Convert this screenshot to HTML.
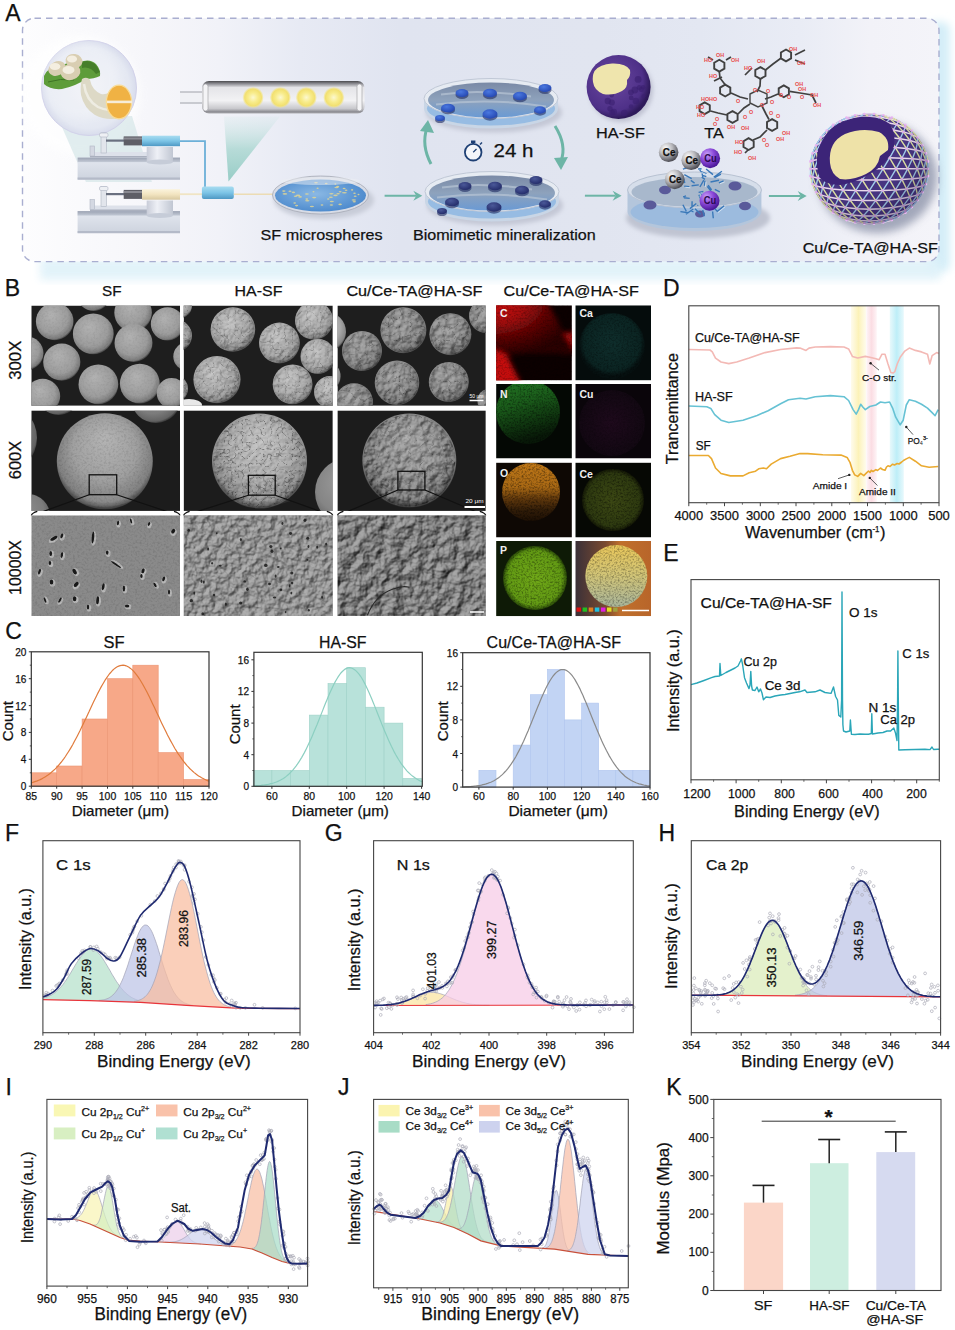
<!DOCTYPE html>
<html><head><meta charset="utf-8"><title>Figure</title>
<style>html,body{margin:0;padding:0;background:#fff;} svg{display:block;} text{font-family:"Liberation Sans", sans-serif;} text[fill='#111']{stroke:#111;stroke-width:0.25px;}</style>
</head><body>
<svg width="955" height="1330" viewBox="0 0 955 1330" font-family='"Liberation Sans", sans-serif'>
<defs>
<filter id="blur4" x="-20%" y="-20%" width="140%" height="140%"><feGaussianBlur stdDeviation="4"/></filter>
<filter id="blur2" x="-20%" y="-20%" width="140%" height="140%"><feGaussianBlur stdDeviation="2"/></filter>
<filter id="blur1" x="-20%" y="-20%" width="140%" height="140%"><feGaussianBlur stdDeviation="1"/></filter>
<linearGradient id="aBg" x1="0" y1="0" x2="1" y2="0"><stop offset="0" stop-color="#fdfdfe"/><stop offset="0.139" stop-color="#f6f6fa"/><stop offset="0.215" stop-color="#f1f2f8"/><stop offset="0.303" stop-color="#e7eaf4"/><stop offset="0.412" stop-color="#e0e4f0"/><stop offset="0.63" stop-color="#e1e5f0"/><stop offset="0.739" stop-color="#e3e7f2"/><stop offset="0.848" stop-color="#e9ecf5"/><stop offset="0.925" stop-color="#f2f2f8"/><stop offset="1" stop-color="#f4f4f9"/></linearGradient>
<radialGradient id="magG" cx="0.5" cy="0.5" r="0.5"><stop offset="0" stop-color="#eef0f6"/><stop offset="0.85" stop-color="#e4e8f2"/><stop offset="1" stop-color="#d8dcec"/></radialGradient>
<linearGradient id="coneG" x1="0" y1="0" x2="0" y2="1"><stop offset="0" stop-color="#cfe6e6" stop-opacity="0.2"/><stop offset="0.5" stop-color="#a9d6d0" stop-opacity="0.8"/><stop offset="1" stop-color="#8cc8c0" stop-opacity="0.9"/></linearGradient>
<linearGradient id="tubeG" x1="0" y1="0" x2="0" y2="1"><stop offset="0" stop-color="#4a4a4e"/><stop offset="0.08" stop-color="#8a8a90"/><stop offset="0.2" stop-color="#e4e4e8"/><stop offset="0.6" stop-color="#f2f2f4"/><stop offset="0.85" stop-color="#c8c8cc"/><stop offset="0.95" stop-color="#8a8a90"/><stop offset="1" stop-color="#b0b0b4"/></linearGradient>
<radialGradient id="dotG" cx="0.5" cy="0.5" r="0.5"><stop offset="0" stop-color="#fcf8d0"/><stop offset="0.45" stop-color="#f8ec8c"/><stop offset="0.8" stop-color="#f2e070"/><stop offset="1" stop-color="#f5e680" stop-opacity="0.2"/></radialGradient>
<linearGradient id="pumpTop" x1="0" y1="0" x2="0" y2="1"><stop offset="0" stop-color="#9aa2b2"/><stop offset="1" stop-color="#c4cad6"/></linearGradient>
<linearGradient id="pumpBase" x1="0" y1="0" x2="0" y2="1"><stop offset="0" stop-color="#e4e8f0"/><stop offset="1" stop-color="#cdd3de"/></linearGradient>
<linearGradient id="syrB" x1="0" y1="0" x2="0" y2="1"><stop offset="0" stop-color="#a8dcf0"/><stop offset="0.5" stop-color="#7cc4e6"/><stop offset="1" stop-color="#4e98c4"/></linearGradient>
<linearGradient id="syrY" x1="0" y1="0" x2="0" y2="1"><stop offset="0" stop-color="#fbf3dc"/><stop offset="0.5" stop-color="#f2e4c0"/><stop offset="1" stop-color="#d8c8a0"/></linearGradient>
<linearGradient id="cylG" x1="0" y1="0" x2="1" y2="0"><stop offset="0" stop-color="#c8ccd8"/><stop offset="0.4" stop-color="#eef0f6"/><stop offset="1" stop-color="#c0c6d2"/></linearGradient>
<radialGradient id="dishBlue" cx="0.45" cy="0.45" r="0.6"><stop offset="0" stop-color="#8ab8e4"/><stop offset="1" stop-color="#4a88cc"/></radialGradient>
<linearGradient id="dishWater" x1="0" y1="0" x2="0" y2="1"><stop offset="0" stop-color="#7a8aa6"/><stop offset="0.5" stop-color="#8ea2bc"/><stop offset="1" stop-color="#6a9ad4"/></linearGradient>
<radialGradient id="puck" cx="0.4" cy="0.35" r="0.7"><stop offset="0" stop-color="#4a78e0"/><stop offset="1" stop-color="#2446b0"/></radialGradient>
<radialGradient id="puck2" cx="0.4" cy="0.35" r="0.7"><stop offset="0" stop-color="#4a5898"/><stop offset="1" stop-color="#222a68"/></radialGradient>
<radialGradient id="hasfG" cx="0.4" cy="0.4" r="0.6"><stop offset="0" stop-color="#6a48a0"/><stop offset="0.8" stop-color="#4e3088"/><stop offset="1" stop-color="#2e1a5a"/></radialGradient>
<radialGradient id="ceG" cx="0.35" cy="0.3" r="0.7"><stop offset="0" stop-color="#ffffff"/><stop offset="0.5" stop-color="#b8b8bc"/><stop offset="1" stop-color="#505058"/></radialGradient>
<radialGradient id="cuG" cx="0.35" cy="0.3" r="0.7"><stop offset="0" stop-color="#c8a0f8"/><stop offset="0.5" stop-color="#8a48d8"/><stop offset="1" stop-color="#4a1898"/></radialGradient>
<radialGradient id="finG" cx="0.5" cy="0.5" r="0.5"><stop offset="0" stop-color="#b4acd8"/><stop offset="0.85" stop-color="#a098cc"/><stop offset="1" stop-color="#8078b8"/></radialGradient>
<linearGradient id="dishGlass" x1="0" y1="0" x2="0" y2="1"><stop offset="0" stop-color="#dfe6f0"/><stop offset="1" stop-color="#b8c8dc"/></linearGradient>
<clipPath id="finClip"><ellipse cx="869.2" cy="168.8" rx="59.3" ry="55.4"/></clipPath>
<radialGradient id="finShade" cx="0.35" cy="0.3" r="0.8"><stop offset="0" stop-color="#000" stop-opacity="0"/><stop offset="0.6" stop-color="#000" stop-opacity="0.05"/><stop offset="1" stop-color="#1a1040" stop-opacity="0.45"/></radialGradient><linearGradient id="bandY" x1="0" x2="1" y1="0" y2="0"><stop offset="0" stop-color="#fdf3c0" stop-opacity="0.3"/><stop offset="0.5" stop-color="#fcf2b8"/><stop offset="1" stop-color="#fdf3c0" stop-opacity="0.3"/></linearGradient>
<linearGradient id="bandP" x1="0" x2="1" y1="0" y2="0"><stop offset="0" stop-color="#fbdde3" stop-opacity="0.3"/><stop offset="0.5" stop-color="#fbdde3"/><stop offset="1" stop-color="#fbdde3" stop-opacity="0.3"/></linearGradient>
<linearGradient id="bandC" x1="0" x2="1" y1="0" y2="0"><stop offset="0" stop-color="#c4eff7" stop-opacity="0.4"/><stop offset="0.5" stop-color="#bdeef8"/><stop offset="1" stop-color="#c4eff7" stop-opacity="0.4"/></linearGradient>
<radialGradient id="sSF" cx="0.45" cy="0.42" r="0.6" fx="0.4" fy="0.32"><stop offset="0" stop-color="#b2b2b2"/><stop offset="0.7" stop-color="#9c9c9c"/><stop offset="0.92" stop-color="#7a7a7a"/><stop offset="1" stop-color="#2e2e2e"/></radialGradient>
<radialGradient id="sHA" cx="0.45" cy="0.42" r="0.6" fx="0.4" fy="0.32"><stop offset="0" stop-color="#c6c6c6"/><stop offset="0.7" stop-color="#a8a8a8"/><stop offset="0.92" stop-color="#868686"/><stop offset="1" stop-color="#343434"/></radialGradient>
<radialGradient id="sCu" cx="0.45" cy="0.42" r="0.6" fx="0.4" fy="0.32"><stop offset="0" stop-color="#a4a4a4"/><stop offset="0.7" stop-color="#8c8c8c"/><stop offset="0.92" stop-color="#6e6e6e"/><stop offset="1" stop-color="#2e2e2e"/></radialGradient>
<radialGradient id="bSF" cx="0.5" cy="0.45" r="0.55" fx="0.5" fy="0.25"><stop offset="0" stop-color="#b4b4b4"/><stop offset="0.6" stop-color="#a0a0a0"/><stop offset="0.9" stop-color="#808080"/><stop offset="1" stop-color="#3a3a3a"/></radialGradient>
<radialGradient id="bHA" cx="0.5" cy="0.45" r="0.55" fx="0.5" fy="0.25"><stop offset="0" stop-color="#c4c4c4"/><stop offset="0.6" stop-color="#b0b0b0"/><stop offset="0.9" stop-color="#8e8e8e"/><stop offset="1" stop-color="#3a3a3a"/></radialGradient>
<radialGradient id="bCu" cx="0.5" cy="0.45" r="0.55" fx="0.5" fy="0.25"><stop offset="0" stop-color="#a6a6a6"/><stop offset="0.6" stop-color="#949494"/><stop offset="0.9" stop-color="#787878"/><stop offset="1" stop-color="#333"/></radialGradient>
<filter id="crk1" x="0" y="0" width="1" height="1"><feTurbulence type="turbulence" baseFrequency="0.14" numOctaves="2" seed="3"/><feColorMatrix type="matrix" values="0 0 0 0 0  0 0 0 0 0  0 0 0 0 0  -6 0 0 0 0.9"/><feComposite in2="SourceGraphic" operator="in"/></filter>
<filter id="crk2" x="0" y="0" width="1" height="1"><feTurbulence type="turbulence" baseFrequency="0.09 0.11" numOctaves="3" seed="9"/><feColorMatrix type="matrix" values="0 0 0 0 0  0 0 0 0 0  0 0 0 0 0  -7 0 0 0 1.0"/><feComposite in2="SourceGraphic" operator="in"/></filter>
<filter id="lgt1" x="0" y="0" width="1" height="1"><feTurbulence type="turbulence" baseFrequency="0.2" numOctaves="2" seed="14"/><feColorMatrix type="matrix" values="0 0 0 0 1  0 0 0 0 1  0 0 0 0 1  -6 0 0 0 0.8"/><feComposite in2="SourceGraphic" operator="in"/></filter>
<filter id="rl1" x="0" y="0" width="1" height="1" color-interpolation-filters="sRGB"><feTurbulence type="fractalNoise" baseFrequency="0.15" numOctaves="4" seed="3" result="n"/><feDiffuseLighting in="n" surfaceScale="3" diffuseConstant="1" lighting-color="#fff" result="l"><feDistantLight azimuth="225" elevation="50"/></feDiffuseLighting><feColorMatrix in="l" type="matrix" values="0.6 0 0 0 0  0.6 0 0 0 0  0.6 0 0 0 0  0 0 0 0 1" result="l2"/><feBlend in="l2" in2="SourceGraphic" mode="overlay" result="b"/><feComposite in="b" in2="SourceGraphic" operator="in"/></filter>
<filter id="rl2" x="0" y="0" width="1" height="1" color-interpolation-filters="sRGB"><feTurbulence type="fractalNoise" baseFrequency="0.09" numOctaves="4" seed="7" result="n"/><feDiffuseLighting in="n" surfaceScale="4" diffuseConstant="1" lighting-color="#fff" result="l"><feDistantLight azimuth="225" elevation="45"/></feDiffuseLighting><feColorMatrix in="l" type="matrix" values="0.62 0 0 0 0  0.62 0 0 0 0  0.62 0 0 0 0  0 0 0 0 1" result="l2"/><feBlend in="l2" in2="SourceGraphic" mode="overlay" result="b"/><feComposite in="b" in2="SourceGraphic" operator="in"/></filter>
<filter id="rl3" x="0" y="0" width="1" height="1" color-interpolation-filters="sRGB"><feTurbulence type="fractalNoise" baseFrequency="0.22" numOctaves="3" seed="12" result="n"/><feDiffuseLighting in="n" surfaceScale="2.5" diffuseConstant="1" lighting-color="#fff" result="l"><feDistantLight azimuth="225" elevation="50"/></feDiffuseLighting><feColorMatrix in="l" type="matrix" values="0.6 0 0 0 0  0.6 0 0 0 0  0.6 0 0 0 0  0 0 0 0 1" result="l2"/><feBlend in="l2" in2="SourceGraphic" mode="overlay" result="b"/><feComposite in="b" in2="SourceGraphic" operator="in"/></filter>
<filter id="fine" x="0" y="0" width="1" height="1"><feTurbulence type="fractalNoise" baseFrequency="0.45" numOctaves="2" seed="5"/><feColorMatrix type="matrix" values="0 0 0 0 0  0 0 0 0 0  0 0 0 0 0  -2.5 0 0 0 1.4"/><feComposite in2="SourceGraphic" operator="in"/></filter>
<filter id="blob" x="0" y="0" width="1" height="1"><feTurbulence type="fractalNoise" baseFrequency="0.07" numOctaves="3" seed="31"/><feColorMatrix type="matrix" values="0 0 0 0 0  0 0 0 0 0  0 0 0 0 0  -3 0 0 0 1.65"/><feComposite in2="SourceGraphic" operator="in"/></filter>
<clipPath id="clipB00"><rect x="31.3" y="305.5" width="148.7" height="100.3"/></clipPath><clipPath id="clipB10"><rect x="183.6" y="305.5" width="149.2" height="100.3"/></clipPath><clipPath id="clipB20"><rect x="337.4" y="305.5" width="148.4" height="100.3"/></clipPath><clipPath id="clipB01"><rect x="31.3" y="410.4" width="148.7" height="100.5"/></clipPath><clipPath id="clipB11"><rect x="183.6" y="410.4" width="149.2" height="100.5"/></clipPath><clipPath id="clipB21"><rect x="337.4" y="410.4" width="148.4" height="100.5"/></clipPath><clipPath id="clipB02"><rect x="31.3" y="515.3" width="148.7" height="100.7"/></clipPath><clipPath id="clipB12"><rect x="183.6" y="515.3" width="149.2" height="100.7"/></clipPath><clipPath id="clipB22"><rect x="337.4" y="515.3" width="148.4" height="100.7"/></clipPath>
<radialGradient id="eCa" cx="0.5" cy="0.45" r="0.5"><stop offset="0" stop-color="#0f2e2c"/><stop offset="0.85" stop-color="#0b2422"/><stop offset="1" stop-color="#061010"/></radialGradient>
<linearGradient id="eN" x1="0" y1="0" x2="0.3" y2="1"><stop offset="0" stop-color="#247a24"/><stop offset="0.45" stop-color="#1a5a1a"/><stop offset="0.8" stop-color="#0e300e"/><stop offset="1" stop-color="#081808"/></linearGradient>
<radialGradient id="eCu" cx="0.5" cy="0.5" r="0.5"><stop offset="0" stop-color="#1e0a1c"/><stop offset="1" stop-color="#120812"/></radialGradient>
<linearGradient id="eO" x1="0" y1="0" x2="0" y2="1"><stop offset="0" stop-color="#c07818"/><stop offset="0.42" stop-color="#a86814"/><stop offset="0.62" stop-color="#60380c"/><stop offset="0.82" stop-color="#301c08"/><stop offset="1" stop-color="#1e1004"/></linearGradient>
<radialGradient id="eCe" cx="0.5" cy="0.5" r="0.5"><stop offset="0" stop-color="#3c4814"/><stop offset="0.85" stop-color="#2e3a10"/><stop offset="1" stop-color="#141806"/></radialGradient>
<radialGradient id="eP" cx="0.5" cy="0.5" r="0.5"><stop offset="0" stop-color="#70a818"/><stop offset="0.85" stop-color="#629a14"/><stop offset="1" stop-color="#2a4a08"/></radialGradient>
<linearGradient id="eMix" x1="0" y1="0" x2="0" y2="1"><stop offset="0" stop-color="#e8c65a"/><stop offset="0.5" stop-color="#d0c478"/><stop offset="1" stop-color="#a8b49a"/></linearGradient>
<linearGradient id="eMixBg" x1="0" y1="0" x2="1" y2="0"><stop offset="0" stop-color="#3a3038"/><stop offset="0.4" stop-color="#7a4a30"/><stop offset="0.6" stop-color="#c0702c"/><stop offset="1" stop-color="#b8652a"/></linearGradient>
<clipPath id="clipE00"><rect x="496.1" y="305.3" width="75.8" height="75.1"/></clipPath><radialGradient id="cRed" cx="0.05" cy="0.05" r="0.95"><stop offset="0" stop-color="#c81010"/><stop offset="0.35" stop-color="#a80c0c"/><stop offset="0.65" stop-color="#600505"/><stop offset="1" stop-color="#2a0202"/></radialGradient><filter id="speck" x="0" y="0" width="1" height="1"><feTurbulence type="fractalNoise" baseFrequency="0.55" numOctaves="2" seed="11"/><feColorMatrix type="matrix" values="0 0 0 0 0  0 0 0 0 0  0 0 0 0 0  -2.6 0 0 0 1.5"/><feComposite in2="SourceGraphic" operator="in"/></filter><filter id="sblur" x="-20%" y="-20%" width="140%" height="140%"><feGaussianBlur stdDeviation="2.5"/></filter><clipPath id="clipE10"><rect x="575.3" y="305.3" width="75.7" height="75.1"/></clipPath><clipPath id="clipE01"><rect x="496.1" y="383.9" width="75.8" height="74.6"/></clipPath><clipPath id="clipE11"><rect x="575.3" y="383.9" width="75.7" height="74.6"/></clipPath><clipPath id="clipE02"><rect x="496.1" y="462.6" width="75.8" height="74.9"/></clipPath><clipPath id="clipE12"><rect x="575.3" y="462.6" width="75.7" height="74.9"/></clipPath><clipPath id="clipE03"><rect x="496.1" y="541.0" width="75.8" height="75.2"/></clipPath><clipPath id="clipE13"><rect x="575.3" y="541.0" width="75.7" height="75.2"/></clipPath></defs>
<rect width="955" height="1330" fill="#ffffff"/>
<rect x="928" y="22" width="22" height="250" rx="8" fill="#d4eef8" filter="url(#blur4)"/><rect x="40" y="258" width="900" height="22" fill="#dff2f9" filter="url(#blur4)" opacity="0.9"/><rect x="22.5" y="18.2" width="916.5" height="243.4" rx="12" fill="url(#aBg)" stroke="#a9aed0" stroke-width="1.4" stroke-dasharray="6.5 5"/><text x="5.2" y="21.2" font-size="23" fill="#111">A</text><circle cx="80" cy="95" r="60" fill="#ffffff" opacity="0.7" filter="url(#blur4)"/><path d="M58,118 L132,116 L152,182 L86,182 Z" fill="#cfe2e4" opacity="0.6"/><circle cx="89" cy="88" r="47.5" fill="url(#magG)" stroke="#d2d2ea" stroke-width="1"/><circle cx="80" cy="80" r="40" fill="#ffffff" opacity="0.25" filter="url(#blur4)"/><path d="M44,76 Q50,64 62,66 Q70,60 80,62 Q90,58 96,64 Q101,70 100,76 Q94,79 86,79 Q76,86 62,89 Q50,90 44,84 Z" fill="#5e9c3a"/><path d="M82,62 Q94,58 100,72 L96,74 Q90,66 82,68 Z" fill="#467e2a"/><path d="M48,82 Q60,78 74,80" stroke="#3e7424" stroke-width="1" fill="none"/><ellipse cx="57" cy="68.5" rx="9" ry="7" transform="rotate(-25 57 68.5)" fill="#d9ceb2"/><ellipse cx="55" cy="66.5" rx="5.4" ry="3.5" fill="#f4eee0"/><ellipse cx="74" cy="61" rx="8.5" ry="7" transform="rotate(10 74 61)" fill="#d9ceb2"/><ellipse cx="72" cy="59" rx="5.1" ry="3.5" fill="#f4eee0"/><ellipse cx="70.5" cy="72" rx="10" ry="8" transform="rotate(-15 70.5 72)" fill="#d9ceb2"/><ellipse cx="68.5" cy="70" rx="6.0" ry="4.0" fill="#f4eee0"/><path d="M82,79 Q87,76 90,80 Q92,90 101,94 Q108,96 116,86 L121,118 Q106,121 95,115 Q84,108 81,95 Q80,86 82,79 Z" fill="#ddd9c6"/><path d="M84,84 Q86,100 98,107 Q106,111 114,110" fill="none" stroke="#eeece2" stroke-width="2.5"/><ellipse cx="119" cy="102" rx="12.6" ry="16.8" fill="#f0b244" stroke="#f8dc98" stroke-width="1.3"/><rect x="107" y="100.6" width="25" height="2.6" fill="#f6ecd8"/><rect x="77.6" y="157.6" width="102.4" height="22" fill="url(#pumpBase)"/><rect x="77.6" y="157.6" width="102.4" height="4.5" fill="url(#pumpTop)"/><rect x="77.6" y="177.5" width="102.4" height="2.2" fill="#b4bac8"/><rect x="90" y="152" width="58" height="5.5" fill="#dde1ea"/><rect x="90" y="156" width="58" height="1.6" fill="#aab0be"/><rect x="90" y="146" width="4.5" height="10" fill="#d4d8e2" stroke="#b0b6c4" stroke-width="0.6"/><rect x="101" y="133" width="5.5" height="20" fill="#e2e5ec" stroke="#b0b6c4" stroke-width="0.6"/><rect x="99.5" y="133" width="8.5" height="4" rx="1.5" fill="#eef0f4" stroke="#b0b6c4" stroke-width="0.6"/><rect x="106" y="139.5" width="18" height="2.2" fill="#6a7080"/><rect x="123.7" y="136.4" width="18.5" height="9" fill="#5e5e66"/><rect x="123.7" y="137.5" width="18.5" height="2" fill="#8a8a92"/><rect x="142" y="135.7" width="38" height="10.5" fill="url(#syrB)"/><rect x="146.7" y="147" width="26.3" height="15" fill="url(#cylG)"/><ellipse cx="159.8" cy="162" rx="13.15" ry="2.5" fill="#c6ccd8"/><rect x="77.6" y="211.1" width="102.4" height="22" fill="url(#pumpBase)"/><rect x="77.6" y="211.1" width="102.4" height="4.5" fill="url(#pumpTop)"/><rect x="77.6" y="231.0" width="102.4" height="2.2" fill="#b4bac8"/><rect x="90" y="205.5" width="58" height="5.5" fill="#dde1ea"/><rect x="90" y="209.5" width="58" height="1.6" fill="#aab0be"/><rect x="90" y="199.5" width="4.5" height="10" fill="#d4d8e2" stroke="#b0b6c4" stroke-width="0.6"/><rect x="101" y="186.5" width="5.5" height="20" fill="#e2e5ec" stroke="#b0b6c4" stroke-width="0.6"/><rect x="99.5" y="186.5" width="8.5" height="4" rx="1.5" fill="#eef0f4" stroke="#b0b6c4" stroke-width="0.6"/><rect x="106" y="193.0" width="18" height="2.2" fill="#6a7080"/><rect x="123.7" y="189.9" width="18.5" height="9" fill="#5e5e66"/><rect x="123.7" y="191.0" width="18.5" height="2" fill="#8a8a92"/><rect x="142" y="189.2" width="38" height="10.5" fill="url(#syrY)"/><rect x="146.7" y="200.5" width="26.3" height="15" fill="url(#cylG)"/><ellipse cx="159.8" cy="215.5" rx="13.15" ry="2.5" fill="#c6ccd8"/><path d="M180,141.2 L205,141.2 L205,187" fill="none" stroke="#6cb0d8" stroke-width="1.8"/><line x1="180" y1="194.2" x2="202" y2="194.2" stroke="#f0e4c4" stroke-width="1.8"/><rect x="201.9" y="186.5" width="31.9" height="12.5" rx="2" fill="url(#syrB)"/><line x1="233.8" y1="194.2" x2="274" y2="194.2" stroke="#ecdcb4" stroke-width="1.6"/><path d="M224,116.5 L280,116.5 L228.5,181.5 Z" fill="url(#coneG)"/><rect x="180" y="91.5" width="23" height="12" fill="#f0f1f5"/><line x1="180" y1="92" x2="203" y2="92" stroke="#a0a2aa" stroke-width="1"/><line x1="180" y1="103" x2="203" y2="103" stroke="#a0a2aa" stroke-width="1"/><rect x="202" y="81" width="162.6" height="32.5" rx="7" fill="url(#tubeG)"/><rect x="203" y="84" width="5" height="27" rx="2.5" fill="#f4f4f6" stroke="#9a9aa0" stroke-width="0.6"/><rect x="357" y="84" width="5" height="27" rx="2.5" fill="#f4f4f6" stroke="#9a9aa0" stroke-width="0.6"/><circle cx="253.1" cy="97.5" r="10.5" fill="url(#dotG)"/><circle cx="280.4" cy="97.5" r="10.5" fill="url(#dotG)"/><circle cx="306.3" cy="97.5" r="10.5" fill="url(#dotG)"/><circle cx="333.8" cy="97.5" r="10.5" fill="url(#dotG)"/><ellipse cx="324" cy="200" rx="50" ry="19" fill="#c8ccd8" filter="url(#blur2)"/><ellipse cx="320.5" cy="195" rx="48" ry="19" fill="#d8dce6" stroke="#a4a8b4" stroke-width="0.8"/><ellipse cx="320.5" cy="195.5" rx="45.5" ry="16" fill="url(#dishBlue)"/><ellipse cx="284.9" cy="193.9" rx="2.4" ry="0.8" fill="#e8d890" opacity="0.8"/><ellipse cx="311.9" cy="206.5" rx="2.1" ry="0.8" fill="#e8d890" opacity="0.8"/><ellipse cx="313.5" cy="191.8" rx="1.0" ry="0.8" fill="#e8d890" opacity="0.8"/><ellipse cx="294.7" cy="203.0" rx="1.4" ry="0.8" fill="#e8d890" opacity="0.8"/><ellipse cx="298.0" cy="195.4" rx="2.3" ry="0.8" fill="#e8d890" opacity="0.8"/><ellipse cx="344.4" cy="192.7" rx="2.5" ry="0.8" fill="#e8d890" opacity="0.8"/><ellipse cx="353.8" cy="200.0" rx="2.3" ry="0.8" fill="#e8d890" opacity="0.8"/><ellipse cx="340.1" cy="204.4" rx="1.8" ry="0.8" fill="#e8d890" opacity="0.8"/><ellipse cx="338.1" cy="193.8" rx="1.8" ry="0.8" fill="#e8d890" opacity="0.8"/><ellipse cx="344.1" cy="188.5" rx="1.5" ry="0.8" fill="#e8d890" opacity="0.8"/><ellipse cx="354.3" cy="201.7" rx="1.7" ry="0.8" fill="#e8d890" opacity="0.8"/><ellipse cx="335.5" cy="195.4" rx="2.2" ry="0.8" fill="#e8d890" opacity="0.8"/><ellipse cx="335.4" cy="184.0" rx="1.0" ry="0.8" fill="#e8d890" opacity="0.8"/><ellipse cx="314.2" cy="197.6" rx="2.1" ry="0.8" fill="#e8d890" opacity="0.8"/><ellipse cx="296.6" cy="205.6" rx="1.6" ry="0.8" fill="#e8d890" opacity="0.8"/><ellipse cx="326.2" cy="183.5" rx="1.4" ry="0.8" fill="#e8d890" opacity="0.8"/><ellipse cx="283.8" cy="191.1" rx="1.8" ry="0.8" fill="#e8d890" opacity="0.8"/><ellipse cx="307.3" cy="200.7" rx="2.2" ry="0.8" fill="#e8d890" opacity="0.8"/><ellipse cx="331.4" cy="205.0" rx="1.8" ry="0.8" fill="#e8d890" opacity="0.8"/><ellipse cx="306.9" cy="194.0" rx="2.0" ry="0.8" fill="#e8d890" opacity="0.8"/><ellipse cx="340.1" cy="191.8" rx="1.5" ry="0.8" fill="#e8d890" opacity="0.8"/><ellipse cx="346.1" cy="190.2" rx="1.4" ry="0.8" fill="#e8d890" opacity="0.8"/><ellipse cx="355.2" cy="196.2" rx="1.5" ry="0.8" fill="#e8d890" opacity="0.8"/><ellipse cx="300.1" cy="196.9" rx="1.9" ry="0.8" fill="#e8d890" opacity="0.8"/><ellipse cx="317.6" cy="188.3" rx="1.1" ry="0.8" fill="#e8d890" opacity="0.8"/><ellipse cx="358.5" cy="194.5" rx="1.0" ry="0.8" fill="#e8d890" opacity="0.8"/><ellipse cx="290.0" cy="191.3" rx="1.6" ry="0.8" fill="#e8d890" opacity="0.8"/><ellipse cx="316.0" cy="182.8" rx="1.9" ry="0.8" fill="#e8d890" opacity="0.8"/><ellipse cx="306.8" cy="199.1" rx="1.4" ry="0.8" fill="#e8d890" opacity="0.8"/><ellipse cx="328.3" cy="199.0" rx="1.3" ry="0.8" fill="#e8d890" opacity="0.8"/><ellipse cx="336.5" cy="187.5" rx="2.2" ry="0.8" fill="#e8d890" opacity="0.8"/><ellipse cx="352.1" cy="189.9" rx="1.1" ry="0.8" fill="#e8d890" opacity="0.8"/><ellipse cx="331.4" cy="193.7" rx="2.2" ry="0.8" fill="#e8d890" opacity="0.8"/><ellipse cx="337.7" cy="186.6" rx="1.6" ry="0.8" fill="#e8d890" opacity="0.8"/><ellipse cx="330.9" cy="197.2" rx="2.0" ry="0.8" fill="#e8d890" opacity="0.8"/><ellipse cx="322.0" cy="205.0" rx="1.4" ry="0.8" fill="#e8d890" opacity="0.8"/><ellipse cx="331.8" cy="201.5" rx="2.1" ry="0.8" fill="#e8d890" opacity="0.8"/><ellipse cx="295.5" cy="196.2" rx="1.7" ry="0.8" fill="#e8d890" opacity="0.8"/><ellipse cx="293.4" cy="192.4" rx="1.7" ry="0.8" fill="#e8d890" opacity="0.8"/><ellipse cx="354.5" cy="193.2" rx="1.3" ry="0.8" fill="#e8d890" opacity="0.8"/><ellipse cx="320.5" cy="181" rx="40" ry="4" fill="#eef0f4" opacity="0.5"/><text x="260.6" y="239.6" font-size="15.5" text-anchor="start" fill="#111" font-weight="normal" textLength="122.0" lengthAdjust="spacingAndGlyphs">SF microspheres</text><line x1="384.6" y1="195.7" x2="416.3" y2="195.7" stroke="#6db5a6" stroke-width="2"/><path d="M413.3,190.7 L422.3,195.7 L413.3,200.7 L416.3,195.7 Z" fill="#6db5a6"/><line x1="584.9" y1="195.7" x2="615.6" y2="195.7" stroke="#6db5a6" stroke-width="2"/><path d="M612.6,190.7 L621.6,195.7 L612.6,200.7 L615.6,195.7 Z" fill="#6db5a6"/><line x1="768.9" y1="196" x2="800.7" y2="196" stroke="#6db5a6" stroke-width="2"/><path d="M797.7,191 L806.7,196 L797.7,201 L800.7,196 Z" fill="#6db5a6"/><ellipse cx="494" cy="112.5" rx="68" ry="20" fill="#c4c8d6" filter="url(#blur2)"/><path d="M424,98.5 L424,108.5 A67,20 0 0 0 558,108.5 L558,98.5 Z" fill="#c9d6e6"/><ellipse cx="491" cy="108.5" rx="64" ry="17" fill="#6ea8e0" opacity="0.55"/><ellipse cx="491" cy="98.5" rx="67" ry="20" fill="#e6ebf2" stroke="#c0c8d6" stroke-width="1"/><ellipse cx="491" cy="100.0" rx="63" ry="17.5" fill="url(#dishWater)"/><path d="M441,94.5 Q481,88.5 531,96.5 M436,104.5 Q491,97.5 546,106.5" stroke="#b8c4d4" stroke-width="2" fill="none" opacity="0.7"/><ellipse cx="462" cy="95" rx="6.5" ry="4.0" fill="#1e2a60" opacity="0.6"/><ellipse cx="462" cy="93" rx="6.5" ry="4.0" fill="url(#puck)"/><ellipse cx="490" cy="95" rx="7" ry="4.3" fill="#1e2a60" opacity="0.6"/><ellipse cx="490" cy="93" rx="7" ry="4.3" fill="url(#puck)"/><ellipse cx="520" cy="98" rx="7" ry="4.3" fill="#1e2a60" opacity="0.6"/><ellipse cx="520" cy="96" rx="7" ry="4.3" fill="url(#puck)"/><ellipse cx="545" cy="90" rx="6.5" ry="4.0" fill="#1e2a60" opacity="0.6"/><ellipse cx="545" cy="88" rx="6.5" ry="4.0" fill="url(#puck)"/><ellipse cx="448" cy="110" rx="7" ry="4.3" fill="#1e2a60" opacity="0.6"/><ellipse cx="448" cy="108" rx="7" ry="4.3" fill="url(#puck)"/><ellipse cx="490" cy="116" rx="7.5" ry="4.7" fill="#1e2a60" opacity="0.6"/><ellipse cx="490" cy="114" rx="7.5" ry="4.7" fill="url(#puck)"/><ellipse cx="540" cy="112" rx="6" ry="3.7" fill="#1e2a60" opacity="0.6"/><ellipse cx="540" cy="110" rx="6" ry="3.7" fill="url(#puck)"/><ellipse cx="440" cy="120" rx="5" ry="3.1" fill="#1e2a60" opacity="0.6"/><ellipse cx="440" cy="118" rx="5" ry="3.1" fill="url(#puck)"/><ellipse cx="495" cy="205.5" rx="68" ry="20" fill="#c4c8d6" filter="url(#blur2)"/><path d="M425,191.5 L425,201.5 A67,20 0 0 0 559,201.5 L559,191.5 Z" fill="#c9d6e6"/><ellipse cx="492" cy="201.5" rx="64" ry="17" fill="#6ea8e0" opacity="0.55"/><ellipse cx="492" cy="191.5" rx="67" ry="20" fill="#e6ebf2" stroke="#c0c8d6" stroke-width="1"/><ellipse cx="492" cy="193.0" rx="63" ry="17.5" fill="url(#dishWater)"/><path d="M442,187.5 Q482,181.5 532,189.5 M437,197.5 Q492,190.5 547,199.5" stroke="#b8c4d4" stroke-width="2" fill="none" opacity="0.7"/><ellipse cx="465" cy="188" rx="6.5" ry="4.0" fill="#1e2a60" opacity="0.6"/><ellipse cx="465" cy="186" rx="6.5" ry="4.0" fill="url(#puck2)"/><ellipse cx="495" cy="188" rx="7" ry="4.3" fill="#1e2a60" opacity="0.6"/><ellipse cx="495" cy="186" rx="7" ry="4.3" fill="url(#puck2)"/><ellipse cx="522" cy="192" rx="7" ry="4.3" fill="#1e2a60" opacity="0.6"/><ellipse cx="522" cy="190" rx="7" ry="4.3" fill="url(#puck2)"/><ellipse cx="536" cy="182" rx="6.5" ry="4.0" fill="#1e2a60" opacity="0.6"/><ellipse cx="536" cy="180" rx="6.5" ry="4.0" fill="url(#puck2)"/><ellipse cx="452" cy="204" rx="7" ry="4.3" fill="#1e2a60" opacity="0.6"/><ellipse cx="452" cy="202" rx="7" ry="4.3" fill="url(#puck2)"/><ellipse cx="494" cy="209" rx="7.5" ry="4.7" fill="#1e2a60" opacity="0.6"/><ellipse cx="494" cy="207" rx="7.5" ry="4.7" fill="url(#puck2)"/><ellipse cx="545" cy="206" rx="6" ry="3.7" fill="#1e2a60" opacity="0.6"/><ellipse cx="545" cy="204" rx="6" ry="3.7" fill="url(#puck2)"/><ellipse cx="442" cy="213" rx="5" ry="3.1" fill="#1e2a60" opacity="0.6"/><ellipse cx="442" cy="211" rx="5" ry="3.1" fill="url(#puck2)"/><path d="M431,164 Q421,145 427,128" fill="none" stroke="#6db5a6" stroke-width="3"/><path d="M420,131 L428,120 L434,133 Z" fill="#6db5a6"/><path d="M555,126 Q567,145 561,161" fill="none" stroke="#6db5a6" stroke-width="3"/><path d="M554,158 L561,170 L568,157 Z" fill="#6db5a6"/><circle cx="473.2" cy="152.2" r="8.3" fill="#f4f6fa" stroke="#1d3f74" stroke-width="1.8"/><rect x="471" y="140.5" width="4.4" height="2.6" fill="#1d3f74"/><line x1="473.2" y1="143" x2="473.2" y2="144" stroke="#1d3f74" stroke-width="1.5"/><line x1="480" y1="144.5" x2="482" y2="142.5" stroke="#1d3f74" stroke-width="1.5"/><line x1="473.2" y1="152.2" x2="476.5" y2="149" stroke="#1d3f74" stroke-width="1.2"/><text x="493.5" y="157.2" font-size="18" text-anchor="start" fill="#111" font-weight="normal" textLength="40.0" lengthAdjust="spacingAndGlyphs">24 h</text><text x="412.9" y="239.7" font-size="15.5" text-anchor="start" fill="#111" font-weight="normal" textLength="182.8" lengthAdjust="spacingAndGlyphs">Biomimetic mineralization</text><circle cx="621" cy="90" r="32" fill="#b0b2c4" filter="url(#blur2)" opacity="0.7"/><circle cx="618.6" cy="87" r="32" fill="url(#hasfG)"/><circle cx="634.9" cy="90.0" r="3.4" fill="#3a2070" opacity="0.6"/><circle cx="631.2" cy="97.9" r="2.4" fill="#3a2070" opacity="0.6"/><circle cx="613.9" cy="111.9" r="3.1" fill="#3a2070" opacity="0.6"/><circle cx="631.0" cy="106.4" r="2.2" fill="#3a2070" opacity="0.6"/><circle cx="643.1" cy="87.3" r="2.3" fill="#3a2070" opacity="0.6"/><circle cx="624.3" cy="113.0" r="3.3" fill="#3a2070" opacity="0.6"/><circle cx="612.2" cy="112.5" r="2.8" fill="#3a2070" opacity="0.6"/><circle cx="638.1" cy="79.4" r="3.4" fill="#3a2070" opacity="0.6"/><circle cx="611.7" cy="95.2" r="2.2" fill="#3a2070" opacity="0.6"/><circle cx="630.9" cy="92.3" r="2.9" fill="#3a2070" opacity="0.6"/><circle cx="639.3" cy="87.4" r="2.5" fill="#3a2070" opacity="0.6"/><circle cx="610.0" cy="108.8" r="2.7" fill="#3a2070" opacity="0.6"/><circle cx="611.8" cy="102.5" r="3.1" fill="#3a2070" opacity="0.6"/><circle cx="643.4" cy="96.3" r="2.0" fill="#3a2070" opacity="0.6"/><circle cx="641.3" cy="89.6" r="2.5" fill="#3a2070" opacity="0.6"/><circle cx="607.8" cy="101.0" r="3.2" fill="#3a2070" opacity="0.6"/><circle cx="635.8" cy="100.9" r="3.2" fill="#3a2070" opacity="0.6"/><path d="M594.5,71 Q600,64 612,63.5 Q626,63 630,70 Q631,76 627,80 Q628,88 622,91 Q613,96 603,94 Q594,90 593,82 Q592,76 594.5,71 Z" fill="#efe5ad"/><text x="596.1" y="138.1" font-size="15.5" text-anchor="start" fill="#111" font-weight="normal" textLength="48.8" lengthAdjust="spacingAndGlyphs">HA-SF</text><path d="M719.3,71.6 L720.0,78.0 L725.2,84.7" fill="none" stroke="#404040" stroke-width="1.7"/><path d="M760.4,78.9 L760.0,86.0 L757.0,92.0" fill="none" stroke="#404040" stroke-width="1.7"/><path d="M780.5,58.5 L773.0,64.0 L765.5,70.0" fill="none" stroke="#404040" stroke-width="1.7"/><path d="M731.0,93.0 L740.0,97.0 L748.0,99.0" fill="none" stroke="#404040" stroke-width="1.7"/><path d="M778.0,94.0 L771.0,97.0 L765.0,99.0" fill="none" stroke="#404040" stroke-width="1.7"/><path d="M789.7,91.3 L800.0,93.0 L812.0,95.0 L816.0,103.0" fill="none" stroke="#404040" stroke-width="1.7"/><path d="M710.5,111.0 L718.0,113.0 L727.0,115.0" fill="none" stroke="#404040" stroke-width="1.7"/><path d="M738.0,114.0 L744.0,108.0 L750.0,104.0" fill="none" stroke="#404040" stroke-width="1.7"/><path d="M762.0,106.0 L766.0,114.0 L769.0,119.5" fill="none" stroke="#404040" stroke-width="1.7"/><path d="M767.0,130.0 L760.0,137.0 L753.0,140.0" fill="none" stroke="#404040" stroke-width="1.7"/><path d="M722.0,77.0 L714.0,81.0" fill="none" stroke="#404040" stroke-width="1.7"/><path d="M745.0,75.0 L752.0,68.0" fill="none" stroke="#404040" stroke-width="1.7"/><path d="M795.0,55.0 L805.0,50.0" fill="none" stroke="#404040" stroke-width="1.7"/><path d="M795.0,60.0 L805.0,64.0" fill="none" stroke="#404040" stroke-width="1.7"/><path d="M713.0,60.0 L708.0,57.0" fill="none" stroke="#404040" stroke-width="1.7"/><path d="M726.0,60.0 L731.0,57.0" fill="none" stroke="#404040" stroke-width="1.7"/><path d="M745.0,153.0 L748.0,150.0" fill="none" stroke="#404040" stroke-width="1.7"/><path d="M724.4,68.7 L719.3,71.6 L714.2,68.7 L714.2,62.8 L719.3,59.8 L724.4,62.8Z" fill="none" stroke="#404040" stroke-width="1.9"/><path d="M791.1,58.4 L786.0,61.3 L780.9,58.4 L780.9,52.5 L786.0,49.5 L791.1,52.5Z" fill="none" stroke="#404040" stroke-width="1.9"/><path d="M765.5,76.0 L760.4,78.9 L755.3,76.0 L755.3,70.0 L760.4,67.1 L765.5,70.0Z" fill="none" stroke="#404040" stroke-width="1.9"/><path d="M730.3,93.5 L725.2,96.5 L720.1,93.5 L720.1,87.6 L725.2,84.7 L730.3,87.6Z" fill="none" stroke="#404040" stroke-width="1.9"/><path d="M788.9,94.2 L783.8,97.2 L778.7,94.2 L778.7,88.3 L783.8,85.4 L788.9,88.3Z" fill="none" stroke="#404040" stroke-width="1.9"/><path d="M709.8,111.2 L704.7,114.1 L699.6,111.2 L699.6,105.2 L704.7,102.3 L709.8,105.2Z" fill="none" stroke="#404040" stroke-width="1.9"/><path d="M737.6,120.0 L732.5,122.9 L727.4,120.0 L727.4,114.0 L732.5,111.1 L737.6,114.0Z" fill="none" stroke="#404040" stroke-width="1.9"/><path d="M777.2,128.0 L772.1,130.9 L767.0,128.0 L767.0,122.0 L772.1,119.1 L777.2,122.0Z" fill="none" stroke="#404040" stroke-width="1.9"/><path d="M753.7,147.0 L748.6,150.0 L743.5,147.0 L743.5,141.2 L748.6,138.2 L753.7,141.2Z" fill="none" stroke="#404040" stroke-width="1.9"/><path d="M750.0,94.0 L758.0,90.0 L767.0,94.0 L767.0,103.0 L758.0,107.0 L750.0,103.0Z" fill="none" stroke="#454545" stroke-width="1.4"/><text x="716.0" y="56.7" font-size="5.4" text-anchor="start" fill="#e84c4c" font-weight="bold">OH</text><text x="704.0" y="61.7" font-size="5.4" text-anchor="start" fill="#e84c4c" font-weight="bold">HO</text><text x="731.0" y="61.7" font-size="5.4" text-anchor="start" fill="#e84c4c" font-weight="bold">OH</text><text x="744.0" y="69.7" font-size="5.4" text-anchor="start" fill="#e84c4c" font-weight="bold">HO</text><text x="757.0" y="62.7" font-size="5.4" text-anchor="start" fill="#e84c4c" font-weight="bold">OH</text><text x="789.0" y="50.7" font-size="5.4" text-anchor="start" fill="#e84c4c" font-weight="bold">OH</text><text x="797.0" y="64.7" font-size="5.4" text-anchor="start" fill="#e84c4c" font-weight="bold">OH</text><text x="798.0" y="90.7" font-size="5.4" text-anchor="start" fill="#e84c4c" font-weight="bold">OH</text><text x="795.0" y="85.7" font-size="5.4" text-anchor="start" fill="#e84c4c" font-weight="bold">OH</text><text x="810.0" y="96.7" font-size="5.4" text-anchor="start" fill="#e84c4c" font-weight="bold">OH</text><text x="813.0" y="106.7" font-size="5.4" text-anchor="start" fill="#e84c4c" font-weight="bold">OH</text><text x="709.0" y="77.7" font-size="5.4" text-anchor="start" fill="#e84c4c" font-weight="bold">HO</text><text x="701.0" y="100.7" font-size="5.4" text-anchor="start" fill="#e84c4c" font-weight="bold">HOHO</text><text x="696.0" y="108.7" font-size="5.4" text-anchor="start" fill="#e84c4c" font-weight="bold">HO</text><text x="697.0" y="116.7" font-size="5.4" text-anchor="start" fill="#e84c4c" font-weight="bold">HO</text><text x="741.0" y="129.7" font-size="5.4" text-anchor="start" fill="#e84c4c" font-weight="bold">OH</text><text x="749.0" y="113.7" font-size="5.4" text-anchor="start" fill="#e84c4c" font-weight="bold">O</text><text x="760.0" y="106.7" font-size="5.4" text-anchor="start" fill="#e84c4c" font-weight="bold">O</text><text x="753.0" y="91.7" font-size="5.4" text-anchor="start" fill="#e84c4c" font-weight="bold">O</text><text x="766.0" y="92.7" font-size="5.4" text-anchor="start" fill="#e84c4c" font-weight="bold">O</text><text x="736.0" y="102.7" font-size="5.4" text-anchor="start" fill="#e84c4c" font-weight="bold">O</text><text x="770.0" y="103.7" font-size="5.4" text-anchor="start" fill="#e84c4c" font-weight="bold">O</text><text x="715.0" y="120.7" font-size="5.4" text-anchor="start" fill="#e84c4c" font-weight="bold">O</text><text x="713.0" y="125.7" font-size="5.4" text-anchor="start" fill="#e84c4c" font-weight="bold">O</text><text x="727.0" y="128.7" font-size="5.4" text-anchor="start" fill="#e84c4c" font-weight="bold">OH</text><text x="743.0" y="118.7" font-size="5.4" text-anchor="start" fill="#e84c4c" font-weight="bold">O</text><text x="769.0" y="114.7" font-size="5.4" text-anchor="start" fill="#e84c4c" font-weight="bold">O</text><text x="776.0" y="117.7" font-size="5.4" text-anchor="start" fill="#e84c4c" font-weight="bold">O</text><text x="782.0" y="134.7" font-size="5.4" text-anchor="start" fill="#e84c4c" font-weight="bold">OH</text><text x="776.0" y="140.7" font-size="5.4" text-anchor="start" fill="#e84c4c" font-weight="bold">OH</text><text x="762.0" y="141.7" font-size="5.4" text-anchor="start" fill="#e84c4c" font-weight="bold">O</text><text x="765.0" y="146.7" font-size="5.4" text-anchor="start" fill="#e84c4c" font-weight="bold">O</text><text x="735.0" y="143.7" font-size="5.4" text-anchor="start" fill="#e84c4c" font-weight="bold">HO</text><text x="734.0" y="153.7" font-size="5.4" text-anchor="start" fill="#e84c4c" font-weight="bold">HO</text><text x="748.0" y="159.7" font-size="5.4" text-anchor="start" fill="#e84c4c" font-weight="bold">OH</text><text x="779.0" y="96.7" font-size="5.4" text-anchor="start" fill="#e84c4c" font-weight="bold">O</text><text x="787.0" y="98.7" font-size="5.4" text-anchor="start" fill="#e84c4c" font-weight="bold">O</text><text x="800.0" y="98.7" font-size="5.4" text-anchor="start" fill="#e84c4c" font-weight="bold">O</text><text x="704.3" y="138.1" font-size="15.5" text-anchor="start" fill="#111" font-weight="normal" textLength="19.5" lengthAdjust="spacingAndGlyphs">TA</text><ellipse cx="698" cy="218" rx="72" ry="20" fill="#c0c4d2" filter="url(#blur2)"/><path d="M627.5,190 L627.5,212 A67,20 0 0 0 761.4,212 L761.4,190 Z" fill="#b4c6dc"/><ellipse cx="694.5" cy="212" rx="64" ry="16" fill="#8cb4e0" opacity="0.6"/><ellipse cx="694.5" cy="190" rx="67" ry="18" fill="#d6deea" stroke="#b8c2d2" stroke-width="1"/><ellipse cx="694.5" cy="192" rx="63" ry="15" fill="#a8b8cc"/><ellipse cx="665" cy="190" rx="6" ry="4.2" fill="#5a5a9a"/><ellipse cx="735" cy="186" rx="6.5" ry="4.5" fill="#5a5a9a"/><ellipse cx="650" cy="205" rx="6.5" ry="4.5" fill="#5a5a9a"/><ellipse cx="745" cy="206" rx="6" ry="4.2" fill="#5a5a9a"/><ellipse cx="700" cy="214" rx="5" ry="3.5" fill="#5a5a9a"/><path d="M717.1,211.5 L724.2,205.7 M704.5,185.8 L705.0,180.6 M689.3,186.8 L684.3,186.2 M682.9,169.2 L686.7,168.1 M701.5,201.0 L698.9,194.8 M711.8,193.9 L714.6,195.6 M718.9,182.8 L723.6,180.9 M703.7,197.4 L700.4,191.6 M700.0,200.2 L701.6,199.4 M706.4,173.9 L700.6,171.4 M713.0,174.6 L706.1,169.0 M683.5,178.5 L684.8,183.0 M694.6,183.1 L690.8,180.4 M711.5,191.9 L707.2,186.4 M711.8,199.7 L717.7,196.0 M702.7,210.0 L704.4,216.3 M688.4,212.8 L680.4,211.6 M682.9,204.7 L686.3,211.3 M712.6,211.5 L713.3,218.3 M710.5,182.0 L719.0,180.2 M689.3,168.7 L688.7,164.5 M717.5,211.6 L712.4,206.0 M702.1,173.3 L702.9,177.7 M691.6,185.7 L698.8,184.9 M695.0,208.7 L700.7,214.3 M708.1,185.2 L711.6,189.8 M706.3,176.7 L702.6,175.4 M711.3,192.3 L712.2,196.9 M686.1,195.9 L683.1,196.8 M713.7,177.2 L721.9,171.3 M703.4,191.5 L698.6,192.4 M699.9,187.0 L703.8,180.1 M696.3,203.5 L689.9,208.6 M689.7,198.4 L683.9,197.7 M698.1,169.0 L701.6,168.7 M708.2,191.4 L709.2,191.8 M693.3,209.0 L685.9,214.3 M714.8,189.4 L719.8,191.8 M705.0,179.3 L701.7,177.2 M693.5,212.0 L690.6,210.5 M697.9,205.0 L697.5,205.8 M691.7,178.6 L684.3,174.7 M692.0,206.8 L692.1,201.3 M699.6,170.9 L700.8,170.1 M714.6,177.7 L720.9,174.2" stroke="#3a78b8" stroke-width="1.4" fill="none"/><path d="M717.1,211.5 L724.2,205.7 M704.5,185.8 L705.0,180.6 M689.3,186.8 L684.3,186.2 M682.9,169.2 L686.7,168.1 M701.5,201.0 L698.9,194.8 M711.8,193.9 L714.6,195.6 M718.9,182.8 L723.6,180.9 M703.7,197.4 L700.4,191.6 M700.0,200.2 L701.6,199.4 M706.4,173.9 L700.6,171.4" stroke="#e0ecf8" stroke-width="0.8" fill="none" transform="translate(1,1)"/><circle cx="668.6" cy="152.2" r="9.8" fill="url(#ceG)"/><text x="669.1" y="155.6" font-size="10.5" text-anchor="middle" fill="#111" font-weight="bold" textLength="12.5" lengthAdjust="spacingAndGlyphs">Ce</text><circle cx="691.2" cy="160.2" r="9.8" fill="url(#ceG)"/><text x="691.7" y="163.6" font-size="10.5" text-anchor="middle" fill="#111" font-weight="bold" textLength="12.5" lengthAdjust="spacingAndGlyphs">Ce</text><circle cx="674.7" cy="179.4" r="9.8" fill="url(#ceG)"/><text x="675.2" y="182.8" font-size="10.5" text-anchor="middle" fill="#111" font-weight="bold" textLength="12.5" lengthAdjust="spacingAndGlyphs">Ce</text><circle cx="710.1" cy="158.3" r="10" fill="url(#cuG)"/><text x="710.6" y="161.7" font-size="10.5" text-anchor="middle" fill="#2a0a50" font-weight="bold" textLength="12.5" lengthAdjust="spacingAndGlyphs">Cu</text><circle cx="709.5" cy="200.7" r="10" fill="url(#cuG)"/><text x="710.0" y="204.1" font-size="10.5" text-anchor="middle" fill="#2a0a50" font-weight="bold" textLength="12.5" lengthAdjust="spacingAndGlyphs">Cu</text><ellipse cx="877" cy="177" rx="60" ry="56" fill="#8e94aa" filter="url(#blur4)" opacity="0.8"/><ellipse cx="869.2" cy="168.8" rx="59.3" ry="55.4" fill="#4a3686"/><path d="M846.6,117.6L855.0,115.3M855.0,115.3L864.4,114.1M864.4,114.1L874.0,114.1M874.0,114.1L883.4,115.3M883.4,115.3L891.8,117.6M833.0,124.9L839.9,121.4M839.9,121.4L848.6,118.8M848.6,118.8L858.6,117.2M858.6,117.2L869.2,116.7M869.2,116.7L879.8,117.2M879.8,117.2L889.8,118.8M889.8,118.8L898.5,121.4M898.5,121.4L905.4,124.9M826.7,130.6L833.2,127.2M833.2,127.2L841.8,124.5M841.8,124.5L852.1,122.6M852.1,122.6L863.4,121.7M863.4,121.7L875.0,121.7M875.0,121.7L886.3,122.6M886.3,122.6L896.6,124.5M896.6,124.5L905.2,127.2M905.2,127.2L911.7,130.6M820.9,137.5L826.7,134.4M826.7,134.4L835.0,131.9M835.0,131.9L845.2,130.0M845.2,130.0L856.8,128.8M856.8,128.8L869.2,128.4M869.2,128.4L881.6,128.8M881.6,128.8L893.2,130.0M893.2,130.0L903.4,131.9M903.4,131.9L911.7,134.4M911.7,134.4L917.5,137.5M816.1,145.4L820.9,142.7M820.9,142.7L828.5,140.5M828.5,140.5L838.3,138.8M838.3,138.8L849.9,137.6M849.9,137.6L862.7,137.0M862.7,137.0L875.7,137.0M875.7,137.0L888.5,137.6M888.5,137.6L900.1,138.8M900.1,138.8L909.9,140.5M909.9,140.5L917.5,142.7M917.5,142.7L922.3,145.4M812.5,153.5L816.1,151.6M816.1,151.6L822.6,150.0M822.6,150.0L831.8,148.6M831.8,148.6L843.0,147.6M843.0,147.6L855.7,147.0M855.7,147.0L869.2,146.8M869.2,146.8L882.7,147.0M882.7,147.0L895.4,147.6M895.4,147.6L906.6,148.6M906.6,148.6L915.8,150.0M915.8,150.0L922.3,151.6M922.3,151.6L925.9,153.5M810.4,161.5L812.6,160.5M812.6,160.5L817.8,159.6M817.8,159.6L826.0,158.8M826.0,158.8L836.5,158.2M836.5,158.2L848.8,157.8M848.8,157.8L862.3,157.6M862.3,157.6L876.1,157.6M876.1,157.6L889.6,157.8M889.6,157.8L901.9,158.2M901.9,158.2L912.4,158.8M912.4,158.8L920.6,159.6M920.6,159.6L925.8,160.5M925.8,160.5L928.0,161.5M810.6,168.8L814.4,168.8M814.4,168.8L821.2,168.8M821.2,168.8L830.7,168.8M830.7,168.8L842.3,168.8M842.3,168.8L855.4,168.8M855.4,168.8L869.2,168.8M869.2,168.8L883.0,168.8M883.0,168.8L896.1,168.8M896.1,168.8L907.7,168.8M907.7,168.8L917.2,168.8M917.2,168.8L924.0,168.8M924.0,168.8L927.8,168.8M810.4,176.1L812.6,177.1M812.6,177.1L817.8,178.0M817.8,178.0L826.0,178.8M826.0,178.8L836.5,179.4M836.5,179.4L848.8,179.8M848.8,179.8L862.3,180.0M862.3,180.0L876.1,180.0M876.1,180.0L889.6,179.8M889.6,179.8L901.9,179.4M901.9,179.4L912.4,178.8M912.4,178.8L920.6,178.0M920.6,178.0L925.8,177.1M925.8,177.1L928.0,176.1M812.5,184.1L816.1,186.0M816.1,186.0L822.6,187.6M822.6,187.6L831.8,189.0M831.8,189.0L843.0,190.0M843.0,190.0L855.7,190.6M855.7,190.6L869.2,190.8M869.2,190.8L882.7,190.6M882.7,190.6L895.4,190.0M895.4,190.0L906.6,189.0M906.6,189.0L915.8,187.6M915.8,187.6L922.3,186.0M922.3,186.0L925.9,184.1M816.1,192.2L820.9,194.9M820.9,194.9L828.5,197.1M828.5,197.1L838.3,198.8M838.3,198.8L849.9,200.0M849.9,200.0L862.7,200.6M862.7,200.6L875.7,200.6M875.7,200.6L888.5,200.0M888.5,200.0L900.1,198.8M900.1,198.8L909.9,197.1M909.9,197.1L917.5,194.9M917.5,194.9L922.3,192.2M820.9,200.1L826.7,203.2M826.7,203.2L835.0,205.7M835.0,205.7L845.2,207.6M845.2,207.6L856.8,208.8M856.8,208.8L869.2,209.2M869.2,209.2L881.6,208.8M881.6,208.8L893.2,207.6M893.2,207.6L903.4,205.7M903.4,205.7L911.7,203.2M911.7,203.2L917.5,200.1M826.7,207.0L833.2,210.4M833.2,210.4L841.8,213.1M841.8,213.1L852.1,215.0M852.1,215.0L863.4,215.9M863.4,215.9L875.0,215.9M875.0,215.9L886.3,215.0M886.3,215.0L896.6,213.1M896.6,213.1L905.2,210.4M905.2,210.4L911.7,207.0M833.0,212.7L839.9,216.2M839.9,216.2L848.6,218.8M848.6,218.8L858.6,220.4M858.6,220.4L869.2,220.9M869.2,220.9L879.8,220.4M879.8,220.4L889.8,218.8M889.8,218.8L898.5,216.2M898.5,216.2L905.4,212.7M846.6,220.0L855.0,222.3M855.0,222.3L864.4,223.5M864.4,223.5L874.0,223.5M874.0,223.5L883.4,222.3M883.4,222.3L891.8,220.0" stroke="#f4e4f6" stroke-width="1.5" fill="none"/><path d="M846.6,117.6L848.6,118.8M855.0,115.3L858.6,117.2M864.4,114.1L869.2,116.7M874.0,114.1L879.8,117.2M883.4,115.3L889.8,118.8M891.8,117.6L898.5,121.4M833.0,124.9L833.2,127.2M839.9,121.4L841.8,124.5M848.6,118.8L852.1,122.6M858.6,117.2L863.4,121.7M869.2,116.7L875.0,121.7M879.8,117.2L886.3,122.6M889.8,118.8L896.6,124.5M898.5,121.4L905.2,127.2M905.4,124.9L911.7,130.6M826.7,130.6L826.7,134.4M833.2,127.2L835.0,131.9M841.8,124.5L845.2,130.0M852.1,122.6L856.8,128.8M863.4,121.7L869.2,128.4M875.0,121.7L881.6,128.8M886.3,122.6L893.2,130.0M896.6,124.5L903.4,131.9M905.2,127.2L911.7,134.4M911.7,130.6L917.5,137.5M820.9,137.5L820.9,142.7M826.7,134.4L828.5,140.5M835.0,131.9L838.3,138.8M845.2,130.0L849.9,137.6M856.8,128.8L862.7,137.0M869.2,128.4L875.7,137.0M881.6,128.8L888.5,137.6M893.2,130.0L900.1,138.8M903.4,131.9L909.9,140.5M911.7,134.4L917.5,142.7M917.5,137.5L922.3,145.4M816.1,145.4L816.1,151.6M820.9,142.7L822.6,150.0M828.5,140.5L831.8,148.6M838.3,138.8L843.0,147.6M849.9,137.6L855.7,147.0M862.7,137.0L869.2,146.8M875.7,137.0L882.7,147.0M888.5,137.6L895.4,147.6M900.1,138.8L906.6,148.6M909.9,140.5L915.8,150.0M917.5,142.7L922.3,151.6M922.3,145.4L925.9,153.5M812.5,153.5L812.6,160.5M816.1,151.6L817.8,159.6M822.6,150.0L826.0,158.8M831.8,148.6L836.5,158.2M843.0,147.6L848.8,157.8M855.7,147.0L862.3,157.6M869.2,146.8L876.1,157.6M882.7,147.0L889.6,157.8M895.4,147.6L901.9,158.2M906.6,148.6L912.4,158.8M915.8,150.0L920.6,159.6M922.3,151.6L925.8,160.5M925.9,153.5L928.0,161.5M810.4,161.5L810.6,168.8M812.6,160.5L814.4,168.8M817.8,159.6L821.2,168.8M826.0,158.8L830.7,168.8M836.5,158.2L842.3,168.8M848.8,157.8L855.4,168.8M862.3,157.6L869.2,168.8M876.1,157.6L883.0,168.8M889.6,157.8L896.1,168.8M901.9,158.2L907.7,168.8M912.4,158.8L917.2,168.8M920.6,159.6L924.0,168.8M925.8,160.5L927.8,168.8M810.6,168.8L812.6,177.1M814.4,168.8L817.8,178.0M821.2,168.8L826.0,178.8M830.7,168.8L836.5,179.4M842.3,168.8L848.8,179.8M855.4,168.8L862.3,180.0M869.2,168.8L876.1,180.0M883.0,168.8L889.6,179.8M896.1,168.8L901.9,179.4M907.7,168.8L912.4,178.8M917.2,168.8L920.6,178.0M924.0,168.8L925.8,177.1M927.8,168.8L928.0,176.1M810.4,176.1L812.5,184.1M812.6,177.1L816.1,186.0M817.8,178.0L822.6,187.6M826.0,178.8L831.8,189.0M836.5,179.4L843.0,190.0M848.8,179.8L855.7,190.6M862.3,180.0L869.2,190.8M876.1,180.0L882.7,190.6M889.6,179.8L895.4,190.0M901.9,179.4L906.6,189.0M912.4,178.8L915.8,187.6M920.6,178.0L922.3,186.0M925.8,177.1L925.9,184.1M812.5,184.1L816.1,192.2M816.1,186.0L820.9,194.9M822.6,187.6L828.5,197.1M831.8,189.0L838.3,198.8M843.0,190.0L849.9,200.0M855.7,190.6L862.7,200.6M869.2,190.8L875.7,200.6M882.7,190.6L888.5,200.0M895.4,190.0L900.1,198.8M906.6,189.0L909.9,197.1M915.8,187.6L917.5,194.9M922.3,186.0L922.3,192.2M816.1,192.2L820.9,200.1M820.9,194.9L826.7,203.2M828.5,197.1L835.0,205.7M838.3,198.8L845.2,207.6M849.9,200.0L856.8,208.8M862.7,200.6L869.2,209.2M875.7,200.6L881.6,208.8M888.5,200.0L893.2,207.6M900.1,198.8L903.4,205.7M909.9,197.1L911.7,203.2M917.5,194.9L917.5,200.1M820.9,200.1L826.7,207.0M826.7,203.2L833.2,210.4M835.0,205.7L841.8,213.1M845.2,207.6L852.1,215.0M856.8,208.8L863.4,215.9M869.2,209.2L875.0,215.9M881.6,208.8L886.3,215.0M893.2,207.6L896.6,213.1M903.4,205.7L905.2,210.4M911.7,203.2L911.7,207.0M826.7,207.0L833.0,212.7M833.2,210.4L839.9,216.2M841.8,213.1L848.6,218.8M852.1,215.0L858.6,220.4M863.4,215.9L869.2,220.9M875.0,215.9L879.8,220.4M886.3,215.0L889.8,218.8M896.6,213.1L898.5,216.2M905.2,210.4L905.4,212.7M839.9,216.2L846.6,220.0M848.6,218.8L855.0,222.3M858.6,220.4L864.4,223.5M869.2,220.9L874.0,223.5M879.8,220.4L883.4,222.3M889.8,218.8L891.8,220.0" stroke="#e6eaa8" stroke-width="1.4" fill="none"/><path d="M846.6,117.6L839.9,121.4M855.0,115.3L848.6,118.8M864.4,114.1L858.6,117.2M874.0,114.1L869.2,116.7M883.4,115.3L879.8,117.2M891.8,117.6L889.8,118.8M833.0,124.9L826.7,130.6M839.9,121.4L833.2,127.2M848.6,118.8L841.8,124.5M858.6,117.2L852.1,122.6M869.2,116.7L863.4,121.7M879.8,117.2L875.0,121.7M889.8,118.8L886.3,122.6M898.5,121.4L896.6,124.5M905.4,124.9L905.2,127.2M826.7,130.6L820.9,137.5M833.2,127.2L826.7,134.4M841.8,124.5L835.0,131.9M852.1,122.6L845.2,130.0M863.4,121.7L856.8,128.8M875.0,121.7L869.2,128.4M886.3,122.6L881.6,128.8M896.6,124.5L893.2,130.0M905.2,127.2L903.4,131.9M911.7,130.6L911.7,134.4M820.9,137.5L816.1,145.4M826.7,134.4L820.9,142.7M835.0,131.9L828.5,140.5M845.2,130.0L838.3,138.8M856.8,128.8L849.9,137.6M869.2,128.4L862.7,137.0M881.6,128.8L875.7,137.0M893.2,130.0L888.5,137.6M903.4,131.9L900.1,138.8M911.7,134.4L909.9,140.5M917.5,137.5L917.5,142.7M816.1,145.4L812.5,153.5M820.9,142.7L816.1,151.6M828.5,140.5L822.6,150.0M838.3,138.8L831.8,148.6M849.9,137.6L843.0,147.6M862.7,137.0L855.7,147.0M875.7,137.0L869.2,146.8M888.5,137.6L882.7,147.0M900.1,138.8L895.4,147.6M909.9,140.5L906.6,148.6M917.5,142.7L915.8,150.0M922.3,145.4L922.3,151.6M812.5,153.5L810.4,161.5M816.1,151.6L812.6,160.5M822.6,150.0L817.8,159.6M831.8,148.6L826.0,158.8M843.0,147.6L836.5,158.2M855.7,147.0L848.8,157.8M869.2,146.8L862.3,157.6M882.7,147.0L876.1,157.6M895.4,147.6L889.6,157.8M906.6,148.6L901.9,158.2M915.8,150.0L912.4,158.8M922.3,151.6L920.6,159.6M925.9,153.5L925.8,160.5M812.6,160.5L810.6,168.8M817.8,159.6L814.4,168.8M826.0,158.8L821.2,168.8M836.5,158.2L830.7,168.8M848.8,157.8L842.3,168.8M862.3,157.6L855.4,168.8M876.1,157.6L869.2,168.8M889.6,157.8L883.0,168.8M901.9,158.2L896.1,168.8M912.4,158.8L907.7,168.8M920.6,159.6L917.2,168.8M925.8,160.5L924.0,168.8M928.0,161.5L927.8,168.8M810.6,168.8L810.4,176.1M814.4,168.8L812.6,177.1M821.2,168.8L817.8,178.0M830.7,168.8L826.0,178.8M842.3,168.8L836.5,179.4M855.4,168.8L848.8,179.8M869.2,168.8L862.3,180.0M883.0,168.8L876.1,180.0M896.1,168.8L889.6,179.8M907.7,168.8L901.9,179.4M917.2,168.8L912.4,178.8M924.0,168.8L920.6,178.0M927.8,168.8L925.8,177.1M812.6,177.1L812.5,184.1M817.8,178.0L816.1,186.0M826.0,178.8L822.6,187.6M836.5,179.4L831.8,189.0M848.8,179.8L843.0,190.0M862.3,180.0L855.7,190.6M876.1,180.0L869.2,190.8M889.6,179.8L882.7,190.6M901.9,179.4L895.4,190.0M912.4,178.8L906.6,189.0M920.6,178.0L915.8,187.6M925.8,177.1L922.3,186.0M928.0,176.1L925.9,184.1M816.1,186.0L816.1,192.2M822.6,187.6L820.9,194.9M831.8,189.0L828.5,197.1M843.0,190.0L838.3,198.8M855.7,190.6L849.9,200.0M869.2,190.8L862.7,200.6M882.7,190.6L875.7,200.6M895.4,190.0L888.5,200.0M906.6,189.0L900.1,198.8M915.8,187.6L909.9,197.1M922.3,186.0L917.5,194.9M925.9,184.1L922.3,192.2M820.9,194.9L820.9,200.1M828.5,197.1L826.7,203.2M838.3,198.8L835.0,205.7M849.9,200.0L845.2,207.6M862.7,200.6L856.8,208.8M875.7,200.6L869.2,209.2M888.5,200.0L881.6,208.8M900.1,198.8L893.2,207.6M909.9,197.1L903.4,205.7M917.5,194.9L911.7,203.2M922.3,192.2L917.5,200.1M826.7,203.2L826.7,207.0M835.0,205.7L833.2,210.4M845.2,207.6L841.8,213.1M856.8,208.8L852.1,215.0M869.2,209.2L863.4,215.9M881.6,208.8L875.0,215.9M893.2,207.6L886.3,215.0M903.4,205.7L896.6,213.1M911.7,203.2L905.2,210.4M917.5,200.1L911.7,207.0M833.2,210.4L833.0,212.7M841.8,213.1L839.9,216.2M852.1,215.0L848.6,218.8M863.4,215.9L858.6,220.4M875.0,215.9L869.2,220.9M886.3,215.0L879.8,220.4M896.6,213.1L889.8,218.8M905.2,210.4L898.5,216.2M911.7,207.0L905.4,212.7M848.6,218.8L846.6,220.0M858.6,220.4L855.0,222.3M869.2,220.9L864.4,223.5M879.8,220.4L874.0,223.5M889.8,218.8L883.4,222.3M898.5,216.2L891.8,220.0" stroke="#a8d4f4" stroke-width="1.4" fill="none"/><path d="M845.2,117.6a1.4,1.4 0 1,0 2.8,0a1.4,1.4 0 1,0 -2.8,0M853.6,115.3a1.4,1.4 0 1,0 2.8,0a1.4,1.4 0 1,0 -2.8,0M863.0,114.1a1.4,1.4 0 1,0 2.8,0a1.4,1.4 0 1,0 -2.8,0M872.6,114.1a1.4,1.4 0 1,0 2.8,0a1.4,1.4 0 1,0 -2.8,0M882.0,115.3a1.4,1.4 0 1,0 2.8,0a1.4,1.4 0 1,0 -2.8,0M890.4,117.6a1.4,1.4 0 1,0 2.8,0a1.4,1.4 0 1,0 -2.8,0M831.6,124.9a1.4,1.4 0 1,0 2.8,0a1.4,1.4 0 1,0 -2.8,0M838.5,121.4a1.4,1.4 0 1,0 2.8,0a1.4,1.4 0 1,0 -2.8,0M847.2,118.8a1.4,1.4 0 1,0 2.8,0a1.4,1.4 0 1,0 -2.8,0M857.2,117.2a1.4,1.4 0 1,0 2.8,0a1.4,1.4 0 1,0 -2.8,0M867.8,116.7a1.4,1.4 0 1,0 2.8,0a1.4,1.4 0 1,0 -2.8,0M878.4,117.2a1.4,1.4 0 1,0 2.8,0a1.4,1.4 0 1,0 -2.8,0M888.4,118.8a1.4,1.4 0 1,0 2.8,0a1.4,1.4 0 1,0 -2.8,0M897.1,121.4a1.4,1.4 0 1,0 2.8,0a1.4,1.4 0 1,0 -2.8,0M904.0,124.9a1.4,1.4 0 1,0 2.8,0a1.4,1.4 0 1,0 -2.8,0M825.3,130.6a1.4,1.4 0 1,0 2.8,0a1.4,1.4 0 1,0 -2.8,0M831.8,127.2a1.4,1.4 0 1,0 2.8,0a1.4,1.4 0 1,0 -2.8,0M840.4,124.5a1.4,1.4 0 1,0 2.8,0a1.4,1.4 0 1,0 -2.8,0M850.7,122.6a1.4,1.4 0 1,0 2.8,0a1.4,1.4 0 1,0 -2.8,0M862.0,121.7a1.4,1.4 0 1,0 2.8,0a1.4,1.4 0 1,0 -2.8,0M873.6,121.7a1.4,1.4 0 1,0 2.8,0a1.4,1.4 0 1,0 -2.8,0M884.9,122.6a1.4,1.4 0 1,0 2.8,0a1.4,1.4 0 1,0 -2.8,0M895.2,124.5a1.4,1.4 0 1,0 2.8,0a1.4,1.4 0 1,0 -2.8,0M903.8,127.2a1.4,1.4 0 1,0 2.8,0a1.4,1.4 0 1,0 -2.8,0M910.3,130.6a1.4,1.4 0 1,0 2.8,0a1.4,1.4 0 1,0 -2.8,0M819.5,137.5a1.4,1.4 0 1,0 2.8,0a1.4,1.4 0 1,0 -2.8,0M825.3,134.4a1.4,1.4 0 1,0 2.8,0a1.4,1.4 0 1,0 -2.8,0M833.6,131.9a1.4,1.4 0 1,0 2.8,0a1.4,1.4 0 1,0 -2.8,0M843.8,130.0a1.4,1.4 0 1,0 2.8,0a1.4,1.4 0 1,0 -2.8,0M855.4,128.8a1.4,1.4 0 1,0 2.8,0a1.4,1.4 0 1,0 -2.8,0M867.8,128.4a1.4,1.4 0 1,0 2.8,0a1.4,1.4 0 1,0 -2.8,0M880.2,128.8a1.4,1.4 0 1,0 2.8,0a1.4,1.4 0 1,0 -2.8,0M891.8,130.0a1.4,1.4 0 1,0 2.8,0a1.4,1.4 0 1,0 -2.8,0M902.0,131.9a1.4,1.4 0 1,0 2.8,0a1.4,1.4 0 1,0 -2.8,0M910.3,134.4a1.4,1.4 0 1,0 2.8,0a1.4,1.4 0 1,0 -2.8,0M916.1,137.5a1.4,1.4 0 1,0 2.8,0a1.4,1.4 0 1,0 -2.8,0M814.7,145.4a1.4,1.4 0 1,0 2.8,0a1.4,1.4 0 1,0 -2.8,0M819.5,142.7a1.4,1.4 0 1,0 2.8,0a1.4,1.4 0 1,0 -2.8,0M827.1,140.5a1.4,1.4 0 1,0 2.8,0a1.4,1.4 0 1,0 -2.8,0M836.9,138.8a1.4,1.4 0 1,0 2.8,0a1.4,1.4 0 1,0 -2.8,0M848.5,137.6a1.4,1.4 0 1,0 2.8,0a1.4,1.4 0 1,0 -2.8,0M861.3,137.0a1.4,1.4 0 1,0 2.8,0a1.4,1.4 0 1,0 -2.8,0M874.3,137.0a1.4,1.4 0 1,0 2.8,0a1.4,1.4 0 1,0 -2.8,0M887.1,137.6a1.4,1.4 0 1,0 2.8,0a1.4,1.4 0 1,0 -2.8,0M898.7,138.8a1.4,1.4 0 1,0 2.8,0a1.4,1.4 0 1,0 -2.8,0M908.5,140.5a1.4,1.4 0 1,0 2.8,0a1.4,1.4 0 1,0 -2.8,0M916.1,142.7a1.4,1.4 0 1,0 2.8,0a1.4,1.4 0 1,0 -2.8,0M920.9,145.4a1.4,1.4 0 1,0 2.8,0a1.4,1.4 0 1,0 -2.8,0M811.1,153.5a1.4,1.4 0 1,0 2.8,0a1.4,1.4 0 1,0 -2.8,0M814.7,151.6a1.4,1.4 0 1,0 2.8,0a1.4,1.4 0 1,0 -2.8,0M821.2,150.0a1.4,1.4 0 1,0 2.8,0a1.4,1.4 0 1,0 -2.8,0M830.4,148.6a1.4,1.4 0 1,0 2.8,0a1.4,1.4 0 1,0 -2.8,0M841.6,147.6a1.4,1.4 0 1,0 2.8,0a1.4,1.4 0 1,0 -2.8,0M854.3,147.0a1.4,1.4 0 1,0 2.8,0a1.4,1.4 0 1,0 -2.8,0M867.8,146.8a1.4,1.4 0 1,0 2.8,0a1.4,1.4 0 1,0 -2.8,0M881.3,147.0a1.4,1.4 0 1,0 2.8,0a1.4,1.4 0 1,0 -2.8,0M894.0,147.6a1.4,1.4 0 1,0 2.8,0a1.4,1.4 0 1,0 -2.8,0M905.2,148.6a1.4,1.4 0 1,0 2.8,0a1.4,1.4 0 1,0 -2.8,0M914.4,150.0a1.4,1.4 0 1,0 2.8,0a1.4,1.4 0 1,0 -2.8,0M920.9,151.6a1.4,1.4 0 1,0 2.8,0a1.4,1.4 0 1,0 -2.8,0M924.5,153.5a1.4,1.4 0 1,0 2.8,0a1.4,1.4 0 1,0 -2.8,0M809.0,161.5a1.4,1.4 0 1,0 2.8,0a1.4,1.4 0 1,0 -2.8,0M811.2,160.5a1.4,1.4 0 1,0 2.8,0a1.4,1.4 0 1,0 -2.8,0M816.4,159.6a1.4,1.4 0 1,0 2.8,0a1.4,1.4 0 1,0 -2.8,0M824.6,158.8a1.4,1.4 0 1,0 2.8,0a1.4,1.4 0 1,0 -2.8,0M835.1,158.2a1.4,1.4 0 1,0 2.8,0a1.4,1.4 0 1,0 -2.8,0M847.4,157.8a1.4,1.4 0 1,0 2.8,0a1.4,1.4 0 1,0 -2.8,0M860.9,157.6a1.4,1.4 0 1,0 2.8,0a1.4,1.4 0 1,0 -2.8,0M874.7,157.6a1.4,1.4 0 1,0 2.8,0a1.4,1.4 0 1,0 -2.8,0M888.2,157.8a1.4,1.4 0 1,0 2.8,0a1.4,1.4 0 1,0 -2.8,0M900.5,158.2a1.4,1.4 0 1,0 2.8,0a1.4,1.4 0 1,0 -2.8,0M911.0,158.8a1.4,1.4 0 1,0 2.8,0a1.4,1.4 0 1,0 -2.8,0M919.2,159.6a1.4,1.4 0 1,0 2.8,0a1.4,1.4 0 1,0 -2.8,0M924.4,160.5a1.4,1.4 0 1,0 2.8,0a1.4,1.4 0 1,0 -2.8,0M926.6,161.5a1.4,1.4 0 1,0 2.8,0a1.4,1.4 0 1,0 -2.8,0M809.2,168.8a1.4,1.4 0 1,0 2.8,0a1.4,1.4 0 1,0 -2.8,0M813.0,168.8a1.4,1.4 0 1,0 2.8,0a1.4,1.4 0 1,0 -2.8,0M819.8,168.8a1.4,1.4 0 1,0 2.8,0a1.4,1.4 0 1,0 -2.8,0M829.3,168.8a1.4,1.4 0 1,0 2.8,0a1.4,1.4 0 1,0 -2.8,0M840.9,168.8a1.4,1.4 0 1,0 2.8,0a1.4,1.4 0 1,0 -2.8,0M854.0,168.8a1.4,1.4 0 1,0 2.8,0a1.4,1.4 0 1,0 -2.8,0M867.8,168.8a1.4,1.4 0 1,0 2.8,0a1.4,1.4 0 1,0 -2.8,0M881.6,168.8a1.4,1.4 0 1,0 2.8,0a1.4,1.4 0 1,0 -2.8,0M894.7,168.8a1.4,1.4 0 1,0 2.8,0a1.4,1.4 0 1,0 -2.8,0M906.3,168.8a1.4,1.4 0 1,0 2.8,0a1.4,1.4 0 1,0 -2.8,0M915.8,168.8a1.4,1.4 0 1,0 2.8,0a1.4,1.4 0 1,0 -2.8,0M922.6,168.8a1.4,1.4 0 1,0 2.8,0a1.4,1.4 0 1,0 -2.8,0M926.4,168.8a1.4,1.4 0 1,0 2.8,0a1.4,1.4 0 1,0 -2.8,0M809.0,176.1a1.4,1.4 0 1,0 2.8,0a1.4,1.4 0 1,0 -2.8,0M811.2,177.1a1.4,1.4 0 1,0 2.8,0a1.4,1.4 0 1,0 -2.8,0M816.4,178.0a1.4,1.4 0 1,0 2.8,0a1.4,1.4 0 1,0 -2.8,0M824.6,178.8a1.4,1.4 0 1,0 2.8,0a1.4,1.4 0 1,0 -2.8,0M835.1,179.4a1.4,1.4 0 1,0 2.8,0a1.4,1.4 0 1,0 -2.8,0M847.4,179.8a1.4,1.4 0 1,0 2.8,0a1.4,1.4 0 1,0 -2.8,0M860.9,180.0a1.4,1.4 0 1,0 2.8,0a1.4,1.4 0 1,0 -2.8,0M874.7,180.0a1.4,1.4 0 1,0 2.8,0a1.4,1.4 0 1,0 -2.8,0M888.2,179.8a1.4,1.4 0 1,0 2.8,0a1.4,1.4 0 1,0 -2.8,0M900.5,179.4a1.4,1.4 0 1,0 2.8,0a1.4,1.4 0 1,0 -2.8,0M911.0,178.8a1.4,1.4 0 1,0 2.8,0a1.4,1.4 0 1,0 -2.8,0M919.2,178.0a1.4,1.4 0 1,0 2.8,0a1.4,1.4 0 1,0 -2.8,0M924.4,177.1a1.4,1.4 0 1,0 2.8,0a1.4,1.4 0 1,0 -2.8,0M926.6,176.1a1.4,1.4 0 1,0 2.8,0a1.4,1.4 0 1,0 -2.8,0M811.1,184.1a1.4,1.4 0 1,0 2.8,0a1.4,1.4 0 1,0 -2.8,0M814.7,186.0a1.4,1.4 0 1,0 2.8,0a1.4,1.4 0 1,0 -2.8,0M821.2,187.6a1.4,1.4 0 1,0 2.8,0a1.4,1.4 0 1,0 -2.8,0M830.4,189.0a1.4,1.4 0 1,0 2.8,0a1.4,1.4 0 1,0 -2.8,0M841.6,190.0a1.4,1.4 0 1,0 2.8,0a1.4,1.4 0 1,0 -2.8,0M854.3,190.6a1.4,1.4 0 1,0 2.8,0a1.4,1.4 0 1,0 -2.8,0M867.8,190.8a1.4,1.4 0 1,0 2.8,0a1.4,1.4 0 1,0 -2.8,0M881.3,190.6a1.4,1.4 0 1,0 2.8,0a1.4,1.4 0 1,0 -2.8,0M894.0,190.0a1.4,1.4 0 1,0 2.8,0a1.4,1.4 0 1,0 -2.8,0M905.2,189.0a1.4,1.4 0 1,0 2.8,0a1.4,1.4 0 1,0 -2.8,0M914.4,187.6a1.4,1.4 0 1,0 2.8,0a1.4,1.4 0 1,0 -2.8,0M920.9,186.0a1.4,1.4 0 1,0 2.8,0a1.4,1.4 0 1,0 -2.8,0M924.5,184.1a1.4,1.4 0 1,0 2.8,0a1.4,1.4 0 1,0 -2.8,0M814.7,192.2a1.4,1.4 0 1,0 2.8,0a1.4,1.4 0 1,0 -2.8,0M819.5,194.9a1.4,1.4 0 1,0 2.8,0a1.4,1.4 0 1,0 -2.8,0M827.1,197.1a1.4,1.4 0 1,0 2.8,0a1.4,1.4 0 1,0 -2.8,0M836.9,198.8a1.4,1.4 0 1,0 2.8,0a1.4,1.4 0 1,0 -2.8,0M848.5,200.0a1.4,1.4 0 1,0 2.8,0a1.4,1.4 0 1,0 -2.8,0M861.3,200.6a1.4,1.4 0 1,0 2.8,0a1.4,1.4 0 1,0 -2.8,0M874.3,200.6a1.4,1.4 0 1,0 2.8,0a1.4,1.4 0 1,0 -2.8,0M887.1,200.0a1.4,1.4 0 1,0 2.8,0a1.4,1.4 0 1,0 -2.8,0M898.7,198.8a1.4,1.4 0 1,0 2.8,0a1.4,1.4 0 1,0 -2.8,0M908.5,197.1a1.4,1.4 0 1,0 2.8,0a1.4,1.4 0 1,0 -2.8,0M916.1,194.9a1.4,1.4 0 1,0 2.8,0a1.4,1.4 0 1,0 -2.8,0M920.9,192.2a1.4,1.4 0 1,0 2.8,0a1.4,1.4 0 1,0 -2.8,0M819.5,200.1a1.4,1.4 0 1,0 2.8,0a1.4,1.4 0 1,0 -2.8,0M825.3,203.2a1.4,1.4 0 1,0 2.8,0a1.4,1.4 0 1,0 -2.8,0M833.6,205.7a1.4,1.4 0 1,0 2.8,0a1.4,1.4 0 1,0 -2.8,0M843.8,207.6a1.4,1.4 0 1,0 2.8,0a1.4,1.4 0 1,0 -2.8,0M855.4,208.8a1.4,1.4 0 1,0 2.8,0a1.4,1.4 0 1,0 -2.8,0M867.8,209.2a1.4,1.4 0 1,0 2.8,0a1.4,1.4 0 1,0 -2.8,0M880.2,208.8a1.4,1.4 0 1,0 2.8,0a1.4,1.4 0 1,0 -2.8,0M891.8,207.6a1.4,1.4 0 1,0 2.8,0a1.4,1.4 0 1,0 -2.8,0M902.0,205.7a1.4,1.4 0 1,0 2.8,0a1.4,1.4 0 1,0 -2.8,0M910.3,203.2a1.4,1.4 0 1,0 2.8,0a1.4,1.4 0 1,0 -2.8,0M916.1,200.1a1.4,1.4 0 1,0 2.8,0a1.4,1.4 0 1,0 -2.8,0M825.3,207.0a1.4,1.4 0 1,0 2.8,0a1.4,1.4 0 1,0 -2.8,0M831.8,210.4a1.4,1.4 0 1,0 2.8,0a1.4,1.4 0 1,0 -2.8,0M840.4,213.1a1.4,1.4 0 1,0 2.8,0a1.4,1.4 0 1,0 -2.8,0M850.7,215.0a1.4,1.4 0 1,0 2.8,0a1.4,1.4 0 1,0 -2.8,0M862.0,215.9a1.4,1.4 0 1,0 2.8,0a1.4,1.4 0 1,0 -2.8,0M873.6,215.9a1.4,1.4 0 1,0 2.8,0a1.4,1.4 0 1,0 -2.8,0M884.9,215.0a1.4,1.4 0 1,0 2.8,0a1.4,1.4 0 1,0 -2.8,0M895.2,213.1a1.4,1.4 0 1,0 2.8,0a1.4,1.4 0 1,0 -2.8,0M903.8,210.4a1.4,1.4 0 1,0 2.8,0a1.4,1.4 0 1,0 -2.8,0M910.3,207.0a1.4,1.4 0 1,0 2.8,0a1.4,1.4 0 1,0 -2.8,0M831.6,212.7a1.4,1.4 0 1,0 2.8,0a1.4,1.4 0 1,0 -2.8,0M838.5,216.2a1.4,1.4 0 1,0 2.8,0a1.4,1.4 0 1,0 -2.8,0M847.2,218.8a1.4,1.4 0 1,0 2.8,0a1.4,1.4 0 1,0 -2.8,0M857.2,220.4a1.4,1.4 0 1,0 2.8,0a1.4,1.4 0 1,0 -2.8,0M867.8,220.9a1.4,1.4 0 1,0 2.8,0a1.4,1.4 0 1,0 -2.8,0M878.4,220.4a1.4,1.4 0 1,0 2.8,0a1.4,1.4 0 1,0 -2.8,0M888.4,218.8a1.4,1.4 0 1,0 2.8,0a1.4,1.4 0 1,0 -2.8,0M897.1,216.2a1.4,1.4 0 1,0 2.8,0a1.4,1.4 0 1,0 -2.8,0M904.0,212.7a1.4,1.4 0 1,0 2.8,0a1.4,1.4 0 1,0 -2.8,0M845.2,220.0a1.4,1.4 0 1,0 2.8,0a1.4,1.4 0 1,0 -2.8,0M853.6,222.3a1.4,1.4 0 1,0 2.8,0a1.4,1.4 0 1,0 -2.8,0M863.0,223.5a1.4,1.4 0 1,0 2.8,0a1.4,1.4 0 1,0 -2.8,0M872.6,223.5a1.4,1.4 0 1,0 2.8,0a1.4,1.4 0 1,0 -2.8,0M882.0,222.3a1.4,1.4 0 1,0 2.8,0a1.4,1.4 0 1,0 -2.8,0M890.4,220.0a1.4,1.4 0 1,0 2.8,0a1.4,1.4 0 1,0 -2.8,0" fill="#eab8f4"/><ellipse cx="869.2" cy="168.8" rx="59.3" ry="55.4" fill="url(#finShade)"/><path d="M818,150 Q826,128 842,122 Q856,116 870,117 Q882,118 890,124 Q896,134 894,146 Q891,156 884,163 Q876,171 866,176 Q854,183 840,185 Q826,185 820,178 Q815,166 818,150 Z" fill="#3c2478"/><path d="M830,163 Q828,142 845,134 Q862,127 879,132 Q890,138 888,150 L880,156 Q878,168 866,174 Q852,181 840,179 Q831,174 830,163 Z" fill="#eee2a8"/><text x="802.7" y="252.8" font-size="15.5" text-anchor="start" fill="#111" font-weight="normal" textLength="135.3" lengthAdjust="spacingAndGlyphs">Cu/Ce-TA@HA-SF</text><text x="5.3" y="638.6" font-size="23" fill="#111">C</text><rect x="31.3" y="772.8" width="25.4" height="13.4" fill="#f7a888" stroke="#ec9472" stroke-width="0.6"/><rect x="56.7" y="766.0" width="25.4" height="20.2" fill="#f7a888" stroke="#ec9472" stroke-width="0.6"/><rect x="82.1" y="719.0" width="25.4" height="67.2" fill="#f7a888" stroke="#ec9472" stroke-width="0.6"/><rect x="107.5" y="678.7" width="25.4" height="107.5" fill="#f7a888" stroke="#ec9472" stroke-width="0.6"/><rect x="132.8" y="665.2" width="25.4" height="121.0" fill="#f7a888" stroke="#ec9472" stroke-width="0.6"/><rect x="158.2" y="752.6" width="25.4" height="33.6" fill="#f7a888" stroke="#ec9472" stroke-width="0.6"/><rect x="183.6" y="779.5" width="25.4" height="6.7" fill="#f7a888" stroke="#ec9472" stroke-width="0.6"/><path d="M31.3,782.8 L32.8,782.4 L34.3,781.9 L35.7,781.4 L37.2,780.9 L38.7,780.2 L40.2,779.6 L41.7,778.9 L43.1,778.1 L44.6,777.2 L46.1,776.3 L47.6,775.3 L49.1,774.2 L50.6,773.1 L52.0,771.8 L53.5,770.5 L55.0,769.1 L56.5,767.6 L58.0,766.0 L59.4,764.3 L60.9,762.5 L62.4,760.6 L63.9,758.6 L65.4,756.5 L66.8,754.3 L68.3,752.0 L69.8,749.6 L71.3,747.1 L72.8,744.5 L74.2,741.8 L75.7,739.0 L77.2,736.2 L78.7,733.3 L80.2,730.3 L81.6,727.3 L83.1,724.2 L84.6,721.1 L86.1,717.9 L87.6,714.8 L89.1,711.6 L90.5,708.4 L92.0,705.3 L93.5,702.1 L95.0,699.1 L96.5,696.0 L97.9,693.1 L99.4,690.2 L100.9,687.4 L102.4,684.8 L103.9,682.2 L105.3,679.8 L106.8,677.6 L108.3,675.5 L109.8,673.5 L111.3,671.8 L112.7,670.2 L114.2,668.9 L115.7,667.7 L117.2,666.8 L118.7,666.1 L120.1,665.6 L121.6,665.3 L123.1,665.2 L124.6,665.4 L126.1,665.8 L127.6,666.5 L129.0,667.3 L130.5,668.4 L132.0,669.6 L133.5,671.1 L135.0,672.8 L136.4,674.6 L137.9,676.6 L139.4,678.8 L140.9,681.2 L142.4,683.7 L143.8,686.3 L145.3,689.0 L146.8,691.8 L148.3,694.8 L149.8,697.8 L151.2,700.8 L152.7,703.9 L154.2,707.1 L155.7,710.2 L157.2,713.4 L158.7,716.6 L160.1,719.7 L161.6,722.9 L163.1,726.0 L164.6,729.0 L166.1,732.0 L167.5,735.0 L169.0,737.8 L170.5,740.6 L172.0,743.3 L173.5,746.0 L174.9,748.5 L176.4,750.9 L177.9,753.3 L179.4,755.5 L180.9,757.7 L182.3,759.7 L183.8,761.7 L185.3,763.5 L186.8,765.3 L188.3,766.9 L189.7,768.5 L191.2,769.9 L192.7,771.3 L194.2,772.6 L195.7,773.8 L197.2,774.9 L198.6,775.9 L200.1,776.8 L201.6,777.7 L203.1,778.5 L204.6,779.3 L206.0,780.0 L207.5,780.6 L209.0,781.2" fill="none" stroke="#e07b3c" stroke-width="1.2"/><rect x="31.3" y="651.8" width="177.7" height="134.4" fill="none" stroke="#333" stroke-width="1.2"/><line x1="31.3" y1="786.2" x2="31.3" y2="788.7" stroke="#333" stroke-width="1"/><text x="31.3" y="799.6" font-size="11.6" text-anchor="middle" fill="#111" font-weight="normal" textLength="11.6" lengthAdjust="spacingAndGlyphs">85</text><line x1="56.7" y1="786.2" x2="56.7" y2="788.7" stroke="#333" stroke-width="1"/><text x="56.7" y="799.6" font-size="11.6" text-anchor="middle" fill="#111" font-weight="normal" textLength="11.6" lengthAdjust="spacingAndGlyphs">90</text><line x1="82.1" y1="786.2" x2="82.1" y2="788.7" stroke="#333" stroke-width="1"/><text x="82.1" y="799.6" font-size="11.6" text-anchor="middle" fill="#111" font-weight="normal" textLength="11.6" lengthAdjust="spacingAndGlyphs">95</text><line x1="107.5" y1="786.2" x2="107.5" y2="788.7" stroke="#333" stroke-width="1"/><text x="107.5" y="799.6" font-size="11.6" text-anchor="middle" fill="#111" font-weight="normal" textLength="17.4" lengthAdjust="spacingAndGlyphs">100</text><line x1="132.8" y1="786.2" x2="132.8" y2="788.7" stroke="#333" stroke-width="1"/><text x="132.8" y="799.6" font-size="11.6" text-anchor="middle" fill="#111" font-weight="normal" textLength="17.4" lengthAdjust="spacingAndGlyphs">105</text><line x1="158.2" y1="786.2" x2="158.2" y2="788.7" stroke="#333" stroke-width="1"/><text x="158.2" y="799.6" font-size="11.6" text-anchor="middle" fill="#111" font-weight="normal" textLength="17.4" lengthAdjust="spacingAndGlyphs">110</text><line x1="183.6" y1="786.2" x2="183.6" y2="788.7" stroke="#333" stroke-width="1"/><text x="183.6" y="799.6" font-size="11.6" text-anchor="middle" fill="#111" font-weight="normal" textLength="17.4" lengthAdjust="spacingAndGlyphs">115</text><line x1="209.0" y1="786.2" x2="209.0" y2="788.7" stroke="#333" stroke-width="1"/><text x="209.0" y="799.6" font-size="11.6" text-anchor="middle" fill="#111" font-weight="normal" textLength="17.4" lengthAdjust="spacingAndGlyphs">120</text><line x1="28.8" y1="786.2" x2="31.3" y2="786.2" stroke="#333" stroke-width="1"/><text x="26.4" y="790.2" font-size="11.5" text-anchor="end" fill="#111" font-weight="normal" textLength="5.6" lengthAdjust="spacingAndGlyphs">0</text><line x1="28.8" y1="759.3" x2="31.3" y2="759.3" stroke="#333" stroke-width="1"/><text x="26.4" y="763.3" font-size="11.5" text-anchor="end" fill="#111" font-weight="normal" textLength="5.6" lengthAdjust="spacingAndGlyphs">4</text><line x1="28.8" y1="732.4" x2="31.3" y2="732.4" stroke="#333" stroke-width="1"/><text x="26.4" y="736.4" font-size="11.5" text-anchor="end" fill="#111" font-weight="normal" textLength="5.6" lengthAdjust="spacingAndGlyphs">8</text><line x1="28.8" y1="705.6" x2="31.3" y2="705.6" stroke="#333" stroke-width="1"/><text x="26.4" y="709.5" font-size="11.5" text-anchor="end" fill="#111" font-weight="normal" textLength="11.2" lengthAdjust="spacingAndGlyphs">12</text><line x1="28.8" y1="678.7" x2="31.3" y2="678.7" stroke="#333" stroke-width="1"/><text x="26.4" y="682.6" font-size="11.5" text-anchor="end" fill="#111" font-weight="normal" textLength="11.2" lengthAdjust="spacingAndGlyphs">16</text><line x1="28.8" y1="651.8" x2="31.3" y2="651.8" stroke="#333" stroke-width="1"/><text x="26.4" y="655.8" font-size="11.5" text-anchor="end" fill="#111" font-weight="normal" textLength="11.2" lengthAdjust="spacingAndGlyphs">20</text><line x1="29.8" y1="772.8" x2="31.3" y2="772.8" stroke="#333" stroke-width="0.8"/><line x1="29.8" y1="745.9" x2="31.3" y2="745.9" stroke="#333" stroke-width="0.8"/><line x1="29.8" y1="719.0" x2="31.3" y2="719.0" stroke="#333" stroke-width="0.8"/><line x1="29.8" y1="692.1" x2="31.3" y2="692.1" stroke="#333" stroke-width="0.8"/><line x1="29.8" y1="665.2" x2="31.3" y2="665.2" stroke="#333" stroke-width="0.8"/><text x="103.5" y="648.3" font-size="16" text-anchor="start" fill="#111" font-weight="normal" textLength="21.0" lengthAdjust="spacingAndGlyphs">SF</text><rect x="253.2" y="770.5" width="18.7" height="15.8" fill="#b8e2da" stroke="#9fd3c9" stroke-width="0.6"/><rect x="271.9" y="770.5" width="18.7" height="15.8" fill="#b8e2da" stroke="#9fd3c9" stroke-width="0.6"/><rect x="290.6" y="770.5" width="18.7" height="15.8" fill="#b8e2da" stroke="#9fd3c9" stroke-width="0.6"/><rect x="309.3" y="715.1" width="18.7" height="71.2" fill="#b8e2da" stroke="#9fd3c9" stroke-width="0.6"/><rect x="328.0" y="683.5" width="18.7" height="102.8" fill="#b8e2da" stroke="#9fd3c9" stroke-width="0.6"/><rect x="346.7" y="667.7" width="18.7" height="118.6" fill="#b8e2da" stroke="#9fd3c9" stroke-width="0.6"/><rect x="365.4" y="707.2" width="18.7" height="79.1" fill="#b8e2da" stroke="#9fd3c9" stroke-width="0.6"/><rect x="384.1" y="723.1" width="18.7" height="63.2" fill="#b8e2da" stroke="#9fd3c9" stroke-width="0.6"/><rect x="402.8" y="778.4" width="18.7" height="7.9" fill="#b8e2da" stroke="#9fd3c9" stroke-width="0.6"/><path d="M253.9,785.9 L255.3,785.8 L256.7,785.7 L258.1,785.6 L259.5,785.5 L260.9,785.4 L262.3,785.2 L263.7,785.0 L265.1,784.8 L266.5,784.6 L267.9,784.4 L269.3,784.1 L270.7,783.7 L272.1,783.4 L273.5,783.0 L274.9,782.5 L276.4,782.0 L277.8,781.4 L279.2,780.7 L280.6,780.0 L282.0,779.2 L283.4,778.4 L284.8,777.4 L286.2,776.4 L287.6,775.2 L289.0,774.0 L290.4,772.6 L291.8,771.2 L293.2,769.6 L294.6,767.9 L296.0,766.1 L297.4,764.2 L298.8,762.1 L300.2,759.9 L301.6,757.6 L303.0,755.1 L304.4,752.6 L305.8,749.9 L307.2,747.0 L308.6,744.1 L310.0,741.1 L311.4,737.9 L312.8,734.7 L314.2,731.3 L315.6,727.9 L317.1,724.5 L318.5,721.0 L319.9,717.4 L321.3,713.9 L322.7,710.4 L324.1,706.8 L325.5,703.3 L326.9,699.9 L328.3,696.6 L329.7,693.3 L331.1,690.2 L332.5,687.2 L333.9,684.3 L335.3,681.6 L336.7,679.2 L338.1,676.9 L339.5,674.8 L340.9,673.0 L342.3,671.5 L343.7,670.2 L345.1,669.1 L346.5,668.4 L347.9,667.9 L349.3,667.7 L350.7,667.8 L352.1,668.2 L353.5,668.9 L354.9,669.9 L356.3,671.1 L357.7,672.6 L359.2,674.3 L360.6,676.3 L362.0,678.5 L363.4,681.0 L364.8,683.6 L366.2,686.4 L367.6,689.4 L369.0,692.5 L370.4,695.7 L371.8,699.0 L373.2,702.4 L374.6,705.9 L376.0,709.4 L377.4,713.0 L378.8,716.5 L380.2,720.0 L381.6,723.6 L383.0,727.0 L384.4,730.4 L385.8,733.8 L387.2,737.0 L388.6,740.2 L390.0,743.3 L391.4,746.3 L392.8,749.1 L394.2,751.9 L395.6,754.5 L397.0,756.9 L398.4,759.3 L399.8,761.5 L401.2,763.6 L402.7,765.6 L404.1,767.4 L405.5,769.2 L406.9,770.8 L408.3,772.3 L409.7,773.6 L411.1,774.9 L412.5,776.1 L413.9,777.1 L415.3,778.1 L416.7,779.0 L418.1,779.8 L419.5,780.6 L420.9,781.2 L422.3,781.8" fill="none" stroke="#8ccfc1" stroke-width="1.2"/><rect x="253.9" y="652.3" width="168.4" height="134.0" fill="none" stroke="#333" stroke-width="1.2"/><line x1="271.9" y1="786.3" x2="271.9" y2="788.8" stroke="#333" stroke-width="1"/><text x="271.9" y="799.6" font-size="11.6" text-anchor="middle" fill="#111" font-weight="normal" textLength="11.6" lengthAdjust="spacingAndGlyphs">60</text><line x1="309.3" y1="786.3" x2="309.3" y2="788.8" stroke="#333" stroke-width="1"/><text x="309.3" y="799.6" font-size="11.6" text-anchor="middle" fill="#111" font-weight="normal" textLength="11.6" lengthAdjust="spacingAndGlyphs">80</text><line x1="346.7" y1="786.3" x2="346.7" y2="788.8" stroke="#333" stroke-width="1"/><text x="346.7" y="799.6" font-size="11.6" text-anchor="middle" fill="#111" font-weight="normal" textLength="17.4" lengthAdjust="spacingAndGlyphs">100</text><line x1="384.1" y1="786.3" x2="384.1" y2="788.8" stroke="#333" stroke-width="1"/><text x="384.1" y="799.6" font-size="11.6" text-anchor="middle" fill="#111" font-weight="normal" textLength="17.4" lengthAdjust="spacingAndGlyphs">120</text><line x1="421.6" y1="786.3" x2="421.6" y2="788.8" stroke="#333" stroke-width="1"/><text x="421.6" y="799.6" font-size="11.6" text-anchor="middle" fill="#111" font-weight="normal" textLength="17.4" lengthAdjust="spacingAndGlyphs">140</text><line x1="251.4" y1="786.3" x2="253.9" y2="786.3" stroke="#333" stroke-width="1"/><text x="249.0" y="790.3" font-size="11.5" text-anchor="end" fill="#111" font-weight="normal" textLength="5.6" lengthAdjust="spacingAndGlyphs">0</text><line x1="251.4" y1="754.7" x2="253.9" y2="754.7" stroke="#333" stroke-width="1"/><text x="249.0" y="758.6" font-size="11.5" text-anchor="end" fill="#111" font-weight="normal" textLength="5.6" lengthAdjust="spacingAndGlyphs">4</text><line x1="251.4" y1="723.1" x2="253.9" y2="723.1" stroke="#333" stroke-width="1"/><text x="249.0" y="727.0" font-size="11.5" text-anchor="end" fill="#111" font-weight="normal" textLength="5.6" lengthAdjust="spacingAndGlyphs">8</text><line x1="251.4" y1="691.4" x2="253.9" y2="691.4" stroke="#333" stroke-width="1"/><text x="249.0" y="695.4" font-size="11.5" text-anchor="end" fill="#111" font-weight="normal" textLength="11.2" lengthAdjust="spacingAndGlyphs">12</text><line x1="251.4" y1="659.8" x2="253.9" y2="659.8" stroke="#333" stroke-width="1"/><text x="249.0" y="663.8" font-size="11.5" text-anchor="end" fill="#111" font-weight="normal" textLength="11.2" lengthAdjust="spacingAndGlyphs">16</text><line x1="252.4" y1="770.5" x2="253.9" y2="770.5" stroke="#333" stroke-width="0.8"/><line x1="252.4" y1="738.9" x2="253.9" y2="738.9" stroke="#333" stroke-width="0.8"/><line x1="252.4" y1="707.2" x2="253.9" y2="707.2" stroke="#333" stroke-width="0.8"/><line x1="252.4" y1="675.6" x2="253.9" y2="675.6" stroke="#333" stroke-width="0.8"/><text x="319.0" y="648.3" font-size="16" text-anchor="start" fill="#111" font-weight="normal" textLength="47.5" lengthAdjust="spacingAndGlyphs">HA-SF</text><rect x="478.9" y="770.3" width="17.1" height="16.8" fill="#c2d4f4" stroke="#b0c5ee" stroke-width="0.6"/><rect x="513.2" y="745.1" width="17.1" height="42.0" fill="#c2d4f4" stroke="#b0c5ee" stroke-width="0.6"/><rect x="530.3" y="694.7" width="17.1" height="92.4" fill="#c2d4f4" stroke="#b0c5ee" stroke-width="0.6"/><rect x="547.4" y="669.5" width="17.1" height="117.6" fill="#c2d4f4" stroke="#b0c5ee" stroke-width="0.6"/><rect x="564.5" y="719.9" width="17.1" height="67.2" fill="#c2d4f4" stroke="#b0c5ee" stroke-width="0.6"/><rect x="581.6" y="703.1" width="17.1" height="84.0" fill="#c2d4f4" stroke="#b0c5ee" stroke-width="0.6"/><rect x="598.7" y="770.3" width="17.1" height="16.8" fill="#c2d4f4" stroke="#b0c5ee" stroke-width="0.6"/><rect x="615.8" y="770.3" width="17.1" height="16.8" fill="#c2d4f4" stroke="#b0c5ee" stroke-width="0.6"/><rect x="632.9" y="770.3" width="17.1" height="16.8" fill="#c2d4f4" stroke="#b0c5ee" stroke-width="0.6"/><path d="M462.7,786.8 L464.3,786.8 L465.8,786.7 L467.4,786.7 L468.9,786.6 L470.5,786.5 L472.1,786.3 L473.6,786.2 L475.2,786.0 L476.7,785.8 L478.3,785.6 L479.9,785.4 L481.4,785.1 L483.0,784.7 L484.6,784.3 L486.1,783.9 L487.7,783.4 L489.2,782.8 L490.8,782.2 L492.4,781.5 L493.9,780.7 L495.5,779.8 L497.0,778.8 L498.6,777.7 L500.2,776.4 L501.7,775.1 L503.3,773.6 L504.8,772.0 L506.4,770.3 L508.0,768.4 L509.5,766.4 L511.1,764.2 L512.6,761.9 L514.2,759.4 L515.8,756.7 L517.3,753.9 L518.9,750.9 L520.5,747.8 L522.0,744.6 L523.6,741.2 L525.1,737.7 L526.7,734.1 L528.3,730.4 L529.8,726.6 L531.4,722.8 L532.9,718.9 L534.5,715.0 L536.1,711.1 L537.6,707.3 L539.2,703.5 L540.7,699.7 L542.3,696.1 L543.9,692.6 L545.4,689.3 L547.0,686.1 L548.5,683.2 L550.1,680.5 L551.7,678.0 L553.2,675.9 L554.8,674.0 L556.4,672.4 L557.9,671.2 L559.5,670.3 L561.0,669.7 L562.6,669.5 L564.2,669.6 L565.7,670.1 L567.3,671.0 L568.8,672.1 L570.4,673.6 L572.0,675.4 L573.5,677.5 L575.1,679.9 L576.6,682.6 L578.2,685.5 L579.8,688.6 L581.3,691.9 L582.9,695.3 L584.4,698.9 L586.0,702.6 L587.6,706.4 L589.1,710.3 L590.7,714.2 L592.2,718.1 L593.8,721.9 L595.4,725.8 L596.9,729.6 L598.5,733.3 L600.1,736.9 L601.6,740.5 L603.2,743.9 L604.7,747.1 L606.3,750.3 L607.9,753.3 L609.4,756.1 L611.0,758.8 L612.5,761.3 L614.1,763.7 L615.7,765.9 L617.2,768.0 L618.8,769.9 L620.3,771.7 L621.9,773.3 L623.5,774.8 L625.0,776.2 L626.6,777.4 L628.1,778.5 L629.7,779.6 L631.3,780.5 L632.8,781.3 L634.4,782.0 L636.0,782.7 L637.5,783.3 L639.1,783.8 L640.6,784.2 L642.2,784.6 L643.8,785.0 L645.3,785.3 L646.9,785.6 L648.4,785.8 L650.0,786.0" fill="none" stroke="#8a8a8a" stroke-width="1.2"/><rect x="462.7" y="652.7" width="187.3" height="134.4" fill="none" stroke="#333" stroke-width="1.2"/><line x1="478.9" y1="787.1" x2="478.9" y2="789.6" stroke="#333" stroke-width="1"/><text x="478.9" y="799.6" font-size="11.6" text-anchor="middle" fill="#111" font-weight="normal" textLength="11.6" lengthAdjust="spacingAndGlyphs">60</text><line x1="513.2" y1="787.1" x2="513.2" y2="789.6" stroke="#333" stroke-width="1"/><text x="513.2" y="799.6" font-size="11.6" text-anchor="middle" fill="#111" font-weight="normal" textLength="11.6" lengthAdjust="spacingAndGlyphs">80</text><line x1="547.4" y1="787.1" x2="547.4" y2="789.6" stroke="#333" stroke-width="1"/><text x="547.4" y="799.6" font-size="11.6" text-anchor="middle" fill="#111" font-weight="normal" textLength="17.4" lengthAdjust="spacingAndGlyphs">100</text><line x1="581.6" y1="787.1" x2="581.6" y2="789.6" stroke="#333" stroke-width="1"/><text x="581.6" y="799.6" font-size="11.6" text-anchor="middle" fill="#111" font-weight="normal" textLength="17.4" lengthAdjust="spacingAndGlyphs">120</text><line x1="615.8" y1="787.1" x2="615.8" y2="789.6" stroke="#333" stroke-width="1"/><text x="615.8" y="799.6" font-size="11.6" text-anchor="middle" fill="#111" font-weight="normal" textLength="17.4" lengthAdjust="spacingAndGlyphs">140</text><line x1="650.0" y1="787.1" x2="650.0" y2="789.6" stroke="#333" stroke-width="1"/><text x="650.0" y="799.6" font-size="11.6" text-anchor="middle" fill="#111" font-weight="normal" textLength="17.4" lengthAdjust="spacingAndGlyphs">160</text><line x1="460.2" y1="787.1" x2="462.7" y2="787.1" stroke="#333" stroke-width="1"/><text x="458.0" y="791.1" font-size="11.5" text-anchor="end" fill="#111" font-weight="normal" textLength="5.6" lengthAdjust="spacingAndGlyphs">0</text><line x1="460.2" y1="753.5" x2="462.7" y2="753.5" stroke="#333" stroke-width="1"/><text x="458.0" y="757.5" font-size="11.5" text-anchor="end" fill="#111" font-weight="normal" textLength="5.6" lengthAdjust="spacingAndGlyphs">4</text><line x1="460.2" y1="719.9" x2="462.7" y2="719.9" stroke="#333" stroke-width="1"/><text x="458.0" y="723.9" font-size="11.5" text-anchor="end" fill="#111" font-weight="normal" textLength="5.6" lengthAdjust="spacingAndGlyphs">8</text><line x1="460.2" y1="686.3" x2="462.7" y2="686.3" stroke="#333" stroke-width="1"/><text x="458.0" y="690.3" font-size="11.5" text-anchor="end" fill="#111" font-weight="normal" textLength="11.2" lengthAdjust="spacingAndGlyphs">12</text><line x1="460.2" y1="652.7" x2="462.7" y2="652.7" stroke="#333" stroke-width="1"/><text x="458.0" y="656.7" font-size="11.5" text-anchor="end" fill="#111" font-weight="normal" textLength="11.2" lengthAdjust="spacingAndGlyphs">16</text><line x1="461.2" y1="770.3" x2="462.7" y2="770.3" stroke="#333" stroke-width="0.8"/><line x1="461.2" y1="736.7" x2="462.7" y2="736.7" stroke="#333" stroke-width="0.8"/><line x1="461.2" y1="703.1" x2="462.7" y2="703.1" stroke="#333" stroke-width="0.8"/><line x1="461.2" y1="669.5" x2="462.7" y2="669.5" stroke="#333" stroke-width="0.8"/><text x="486.6" y="647.5" font-size="16" text-anchor="start" fill="#111" font-weight="normal" textLength="134.5" lengthAdjust="spacingAndGlyphs">Cu/Ce-TA@HA-SF</text><text x="71.7" y="815.5" font-size="14.5" text-anchor="start" fill="#111" font-weight="normal" textLength="97.3" lengthAdjust="spacingAndGlyphs">Diameter (μm)</text><text x="291.6" y="815.5" font-size="14.5" text-anchor="start" fill="#111" font-weight="normal" textLength="97.3" lengthAdjust="spacingAndGlyphs">Diameter (μm)</text><text x="508.4" y="815.5" font-size="14.5" text-anchor="start" fill="#111" font-weight="normal" textLength="99.5" lengthAdjust="spacingAndGlyphs">Diameter (μm)</text><text transform="translate(12.9,741.3) rotate(-90)" font-size="14.5" fill="#111" textLength="40.3" lengthAdjust="spacingAndGlyphs">Count</text><text transform="translate(239.5,744.3) rotate(-90)" font-size="14.5" fill="#111" textLength="39.9" lengthAdjust="spacingAndGlyphs">Count</text><text transform="translate(447.9,741.3) rotate(-90)" font-size="14.5" fill="#111" textLength="40.1" lengthAdjust="spacingAndGlyphs">Count</text><text x="663.1" y="296.1" font-size="23" fill="#111">D</text><rect x="851.0" y="305.8" width="15" height="196.89999999999998" fill="url(#bandY)"/><rect x="866.3" y="305.8" width="10.5" height="196.89999999999998" fill="url(#bandP)"/><rect x="889.8" y="305.8" width="14" height="196.89999999999998" fill="url(#bandC)"/><path d="M688.8,349.5 L710.0,350.0 L712.3,351.8 L715.5,358.1 L721.0,362.0 L728.8,363.6 L736.7,362.0 L749.2,358.1 L765.0,352.6 L780.6,349.5 L796.4,347.9 L800.0,348.1 L806.0,350.4 L809.0,348.1 L815.2,347.0 L830.4,346.6 L844.0,347.0 L848.6,348.9 L852.4,356.4 L857.7,358.0 L865.3,356.4 L869.8,357.2 L875.9,358.7 L879.0,359.8 L882.0,354.2 L885.0,354.2 L888.0,364.0 L890.8,372.4 L893.0,373.1 L894.9,371.6 L897.2,364.0 L900.2,357.2 L904.8,351.1 L909.3,348.1 L915.4,350.4 L921.5,351.9 L927.5,354.2 L929.8,364.0 L932.1,355.7 L936.7,352.6 L938.9,353.4" fill="none" stroke="#f3b9b5" stroke-width="1.6" stroke-linejoin="round"/><path d="M688.8,406.0 L706.8,406.8 L710.8,408.4 L714.7,414.7 L721.0,420.2 L728.8,422.5 L743.0,420.2 L757.1,415.4 L768.1,410.7 L780.6,403.7 L788.5,399.7 L800.0,398.2 L806.0,399.0 L815.2,396.7 L830.4,395.6 L844.0,396.7 L848.6,400.5 L853.1,409.6 L856.2,414.1 L858.5,409.6 L860.7,404.3 L863.0,407.3 L865.3,409.6 L869.8,406.5 L875.9,405.0 L880.5,402.0 L885.0,402.8 L889.6,402.0 L892.6,408.1 L895.7,417.2 L900.2,424.8 L903.2,420.2 L906.3,405.0 L909.3,399.7 L915.4,401.2 L921.5,404.3 L927.5,408.1 L932.1,412.6 L935.1,415.7 L938.2,409.6" fill="none" stroke="#66c2d4" stroke-width="1.6" stroke-linejoin="round"/><path d="M688.8,455.5 L708.4,455.5 L711.5,458.6 L715.5,468.0 L721.0,473.5 L730.4,475.9 L743.0,475.9 L749.2,472.8 L755.5,471.2 L758.7,468.8 L763.4,468.0 L766.5,468.8 L771.2,464.1 L780.6,458.6 L790.0,456.3 L800.0,453.6 L807.6,453.6 L822.8,454.8 L841.0,455.1 L847.1,457.4 L850.1,462.7 L852.4,470.3 L854.7,474.9 L857.7,476.4 L860.7,473.4 L863.8,475.6 L866.8,472.6 L868.5,471.0 L870.0,472.5 L871.4,470.3 L873.0,471.5 L875.9,469.6 L877.5,470.5 L880.5,468.0 L882.5,469.5 L885.0,470.3 L886.5,467.0 L888.0,465.8 L890.0,466.5 L892.6,464.2 L894.5,465.0 L897.2,463.5 L899.0,464.0 L901.7,462.0 L903.5,460.5 L906.3,458.9 L909.3,457.4 L915.4,461.2 L921.5,465.8 L929.1,467.3 L938.2,466.5" fill="none" stroke="#eaaa30" stroke-width="1.6" stroke-linejoin="round"/><rect x="688.8" y="305.8" width="250.2" height="196.9" fill="none" stroke="#444" stroke-width="1.1"/><line x1="688.8" y1="502.7" x2="688.8" y2="506.2" stroke="#444" stroke-width="1"/><text x="688.8" y="519.5" font-size="13.2" text-anchor="middle" fill="#111" font-weight="normal" textLength="28.8" lengthAdjust="spacingAndGlyphs">4000</text><line x1="724.5" y1="502.7" x2="724.5" y2="506.2" stroke="#444" stroke-width="1"/><text x="724.5" y="519.5" font-size="13.2" text-anchor="middle" fill="#111" font-weight="normal" textLength="28.8" lengthAdjust="spacingAndGlyphs">3500</text><line x1="760.3" y1="502.7" x2="760.3" y2="506.2" stroke="#444" stroke-width="1"/><text x="760.3" y="519.5" font-size="13.2" text-anchor="middle" fill="#111" font-weight="normal" textLength="28.8" lengthAdjust="spacingAndGlyphs">3000</text><line x1="796.0" y1="502.7" x2="796.0" y2="506.2" stroke="#444" stroke-width="1"/><text x="796.0" y="519.5" font-size="13.2" text-anchor="middle" fill="#111" font-weight="normal" textLength="28.8" lengthAdjust="spacingAndGlyphs">2500</text><line x1="831.8" y1="502.7" x2="831.8" y2="506.2" stroke="#444" stroke-width="1"/><text x="831.8" y="519.5" font-size="13.2" text-anchor="middle" fill="#111" font-weight="normal" textLength="28.8" lengthAdjust="spacingAndGlyphs">2000</text><line x1="867.5" y1="502.7" x2="867.5" y2="506.2" stroke="#444" stroke-width="1"/><text x="867.5" y="519.5" font-size="13.2" text-anchor="middle" fill="#111" font-weight="normal" textLength="28.8" lengthAdjust="spacingAndGlyphs">1500</text><line x1="903.3" y1="502.7" x2="903.3" y2="506.2" stroke="#444" stroke-width="1"/><text x="903.3" y="519.5" font-size="13.2" text-anchor="middle" fill="#111" font-weight="normal" textLength="28.8" lengthAdjust="spacingAndGlyphs">1000</text><line x1="939.0" y1="502.7" x2="939.0" y2="506.2" stroke="#444" stroke-width="1"/><text x="939.0" y="519.5" font-size="13.2" text-anchor="middle" fill="#111" font-weight="normal" textLength="21.6" lengthAdjust="spacingAndGlyphs">500</text><line x1="706.7" y1="502.7" x2="706.7" y2="504.7" stroke="#444" stroke-width="0.8"/><line x1="742.4" y1="502.7" x2="742.4" y2="504.7" stroke="#444" stroke-width="0.8"/><line x1="778.2" y1="502.7" x2="778.2" y2="504.7" stroke="#444" stroke-width="0.8"/><line x1="813.9" y1="502.7" x2="813.9" y2="504.7" stroke="#444" stroke-width="0.8"/><line x1="849.6" y1="502.7" x2="849.6" y2="504.7" stroke="#444" stroke-width="0.8"/><line x1="885.4" y1="502.7" x2="885.4" y2="504.7" stroke="#444" stroke-width="0.8"/><line x1="921.1" y1="502.7" x2="921.1" y2="504.7" stroke="#444" stroke-width="0.8"/><text x="745.1" y="538.0" font-size="16.5" text-anchor="start" fill="#111" font-weight="normal" textLength="127.8" lengthAdjust="spacingAndGlyphs">Wavenumber (cm</text><text x="872.5" y="531.8" font-size="9" text-anchor="start" fill="#111" font-weight="normal" textLength="7.0" lengthAdjust="spacingAndGlyphs">-1</text><text x="880.0" y="538.0" font-size="16.5" text-anchor="start" fill="#111" font-weight="normal">)</text><text transform="translate(677.5,464.3) rotate(-90)" font-size="16.5" fill="#111" textLength="111.3" lengthAdjust="spacingAndGlyphs">Trancemittance</text><text x="694.9" y="341.5" font-size="12" text-anchor="start" fill="#111" font-weight="normal" textLength="104.8" lengthAdjust="spacingAndGlyphs">Cu/Ce-TA@HA-SF</text><text x="694.9" y="400.5" font-size="12" text-anchor="start" fill="#111" font-weight="normal" textLength="37.8" lengthAdjust="spacingAndGlyphs">HA-SF</text><text x="695.8" y="449.8" font-size="12" text-anchor="start" fill="#111" font-weight="normal" textLength="15.0" lengthAdjust="spacingAndGlyphs">SF</text><line x1="879.0" y1="370.1" x2="870.6" y2="363.3" stroke="#333" stroke-width="0.8"/><circle cx="870.6" cy="363.3" r="1.2" fill="#222"/><text x="862.1" y="381.4" font-size="9.5" text-anchor="start" fill="#111" font-weight="normal" textLength="34.5" lengthAdjust="spacingAndGlyphs">C-O str.</text><line x1="913.0" y1="434.6" x2="906.3" y2="427.0" stroke="#333" stroke-width="0.8"/><circle cx="906.3" cy="427.0" r="1.2" fill="#222"/><text x="907.8" y="443.8" font-size="9.5" text-anchor="start" fill="#111" font-weight="normal" textLength="12.0" lengthAdjust="spacingAndGlyphs">PO</text><text x="919.8" y="445.3" font-size="5.5" text-anchor="start" fill="#222" font-weight="normal">4</text><text x="923.0" y="439.8" font-size="5.5" text-anchor="start" fill="#111" font-weight="normal">3-</text><line x1="838.0" y1="478.7" x2="849.3" y2="474.9" stroke="#333" stroke-width="0.8"/><circle cx="849.3" cy="474.9" r="1.2" fill="#222"/><text x="812.8" y="488.6" font-size="9.5" text-anchor="start" fill="#111" font-weight="normal" textLength="34.4" lengthAdjust="spacingAndGlyphs">Amide I</text><line x1="877.4" y1="485.5" x2="869.8" y2="477.9" stroke="#333" stroke-width="0.8"/><circle cx="869.8" cy="477.9" r="1.2" fill="#222"/><text x="859.1" y="495.3" font-size="9.5" text-anchor="start" fill="#111" font-weight="normal" textLength="36.7" lengthAdjust="spacingAndGlyphs">Amide II</text><text x="663.3" y="561" font-size="23" fill="#111">E</text><path d="M691.0,684.6 L697.0,683.0 L704.0,680.5 L711.5,677.7 L715.0,676.5 L719.5,676.0 L720.0,663.5 L720.8,675.5 L726.0,672.5 L735.0,668.0 L738.0,666.0 L740.5,661.0 L741.4,658.8 L742.5,664.0 L744.5,677.7 L746.5,683.0 L749.0,688.6 L750.0,685.0 L750.8,671.4 L751.6,686.0 L752.4,690.0 L755.0,690.5 L757.0,687.0 L758.7,691.8 L760.5,689.0 L762.0,693.0 L763.4,699.7 L766.0,697.0 L770.0,697.5 L775.0,696.0 L780.7,695.0 L785.0,694.5 L790.0,693.5 L795.0,692.5 L799.5,691.8 L805.0,690.0 L807.0,692.5 L815.0,691.8 L820.0,690.0 L825.0,692.5 L831.0,693.4 L833.5,687.0 L835.6,696.5 L837.5,700.0 L838.8,715.4 L840.8,717.0 L841.6,700.0 L842.0,591.9 L842.5,700.0 L842.9,724.8 L843.5,731.0 L846.0,732.0 L849.8,731.0 L850.4,720.0 L851.4,734.2 L855.0,734.5 L860.0,734.0 L865.0,734.3 L868.6,734.2 L871.3,733.5 L871.8,713.8 L872.4,734.0 L878.0,733.0 L883.0,732.5 L887.0,731.0 L890.6,731.0 L893.8,728.0 L895.5,733.0 L897.0,740.5 L897.6,700.0 L897.9,651.0 L898.3,700.0 L898.8,750.0 L905.0,749.8 L915.0,749.5 L925.0,749.3 L930.0,749.6 L932.0,747.0 L933.5,749.5 L937.8,749.3 L939.3,749.3" fill="none" stroke="#2aa6b8" stroke-width="1.4" stroke-linejoin="round"/><rect x="691.0" y="579.6" width="248.3" height="200.2" fill="none" stroke="#444" stroke-width="1.1"/><line x1="691.0" y1="779.8" x2="691.0" y2="783.3" stroke="#444" stroke-width="1"/><text x="697.0" y="798.3" font-size="13.2" text-anchor="middle" fill="#111" font-weight="normal" textLength="27.4" lengthAdjust="spacingAndGlyphs">1200</text><line x1="713.6" y1="779.8" x2="713.6" y2="781.8" stroke="#444" stroke-width="0.8"/><line x1="736.1" y1="779.8" x2="736.1" y2="783.3" stroke="#444" stroke-width="1"/><text x="741.7" y="798.3" font-size="13.2" text-anchor="middle" fill="#111" font-weight="normal" textLength="27.4" lengthAdjust="spacingAndGlyphs">1000</text><line x1="758.7" y1="779.8" x2="758.7" y2="781.8" stroke="#444" stroke-width="0.8"/><line x1="781.3" y1="779.8" x2="781.3" y2="783.3" stroke="#444" stroke-width="1"/><text x="784.6" y="798.3" font-size="13.2" text-anchor="middle" fill="#111" font-weight="normal" textLength="20.5" lengthAdjust="spacingAndGlyphs">800</text><line x1="803.9" y1="779.8" x2="803.9" y2="781.8" stroke="#444" stroke-width="0.8"/><line x1="826.4" y1="779.8" x2="826.4" y2="783.3" stroke="#444" stroke-width="1"/><text x="828.6" y="798.3" font-size="13.2" text-anchor="middle" fill="#111" font-weight="normal" textLength="20.5" lengthAdjust="spacingAndGlyphs">600</text><line x1="849.0" y1="779.8" x2="849.0" y2="781.8" stroke="#444" stroke-width="0.8"/><line x1="871.6" y1="779.8" x2="871.6" y2="783.3" stroke="#444" stroke-width="1"/><text x="872.5" y="798.3" font-size="13.2" text-anchor="middle" fill="#111" font-weight="normal" textLength="20.5" lengthAdjust="spacingAndGlyphs">400</text><line x1="894.2" y1="779.8" x2="894.2" y2="781.8" stroke="#444" stroke-width="0.8"/><line x1="916.7" y1="779.8" x2="916.7" y2="783.3" stroke="#444" stroke-width="1"/><text x="916.5" y="798.3" font-size="13.2" text-anchor="middle" fill="#111" font-weight="normal" textLength="20.5" lengthAdjust="spacingAndGlyphs">200</text><line x1="939.3" y1="779.8" x2="939.3" y2="781.8" stroke="#444" stroke-width="0.8"/><text x="734.1" y="816.5" font-size="16.3" text-anchor="start" fill="#111" font-weight="normal" textLength="145.5" lengthAdjust="spacingAndGlyphs">Binding Energy (eV)</text><text transform="translate(678.9,732.1) rotate(-90)" font-size="16.3" fill="#111" textLength="102.7" lengthAdjust="spacingAndGlyphs">Intensity (a.u.)</text><text x="700.6" y="608.1" font-size="15.2" text-anchor="start" fill="#111" font-weight="normal" textLength="131.3" lengthAdjust="spacingAndGlyphs">Cu/Ce-TA@HA-SF</text><text x="848.9" y="617.2" font-size="12.5" text-anchor="start" fill="#111" font-weight="normal" textLength="28.5" lengthAdjust="spacingAndGlyphs">O 1s</text><text x="902.3" y="657.5" font-size="12.5" text-anchor="start" fill="#111" font-weight="normal" textLength="26.9" lengthAdjust="spacingAndGlyphs">C 1s</text><text x="743.6" y="665.8" font-size="12.5" text-anchor="start" fill="#111" font-weight="normal" textLength="33.3" lengthAdjust="spacingAndGlyphs">Cu 2p</text><text x="764.7" y="690.1" font-size="12.5" text-anchor="start" fill="#111" font-weight="normal" textLength="35.7" lengthAdjust="spacingAndGlyphs">Ce 3d</text><text x="868.4" y="711.5" font-size="12.5" text-anchor="start" fill="#111" font-weight="normal" textLength="27.8" lengthAdjust="spacingAndGlyphs">N 1s</text><text x="880.3" y="724.1" font-size="12.5" text-anchor="start" fill="#111" font-weight="normal" textLength="34.8" lengthAdjust="spacingAndGlyphs">Ca 2p</text><text x="4.9" y="841.4" font-size="23" fill="#111">F</text><path d="M42.9,998.0 L44.2,997.7 L45.6,997.4 L46.9,997.0 L48.2,996.5 L49.6,995.9 L50.9,995.2 L52.3,994.5 L53.6,993.6 L54.9,992.7 L56.3,991.6 L57.6,990.4 L58.9,989.1 L60.3,987.7 L61.6,986.1 L63.0,984.5 L64.3,982.7 L65.6,980.8 L67.0,978.8 L68.3,976.7 L69.6,974.6 L71.0,972.3 L72.3,970.1 L73.7,967.8 L75.0,965.6 L76.3,963.4 L77.7,961.2 L79.0,959.2 L80.3,957.3 L81.7,955.5 L83.0,953.9 L84.3,952.5 L85.7,951.3 L87.0,950.3 L88.4,949.6 L89.7,949.2 L91.0,949.0 L92.4,949.2 L93.7,949.6 L95.0,950.2 L96.4,951.2 L97.7,952.3 L99.1,953.7 L100.4,955.3 L101.7,957.1 L103.1,959.1 L104.4,961.2 L105.7,963.3 L107.1,965.6 L108.4,967.9 L109.8,970.2 L111.1,972.6 L112.4,974.9 L113.8,977.1 L115.1,979.3 L116.4,981.4 L117.8,983.4 L119.1,985.3 L120.4,987.1 L121.8,988.8 L123.1,990.3 L124.5,991.8 L125.8,993.1 L127.1,994.3 L128.5,995.3 L129.8,996.3 L131.1,997.2 L132.5,997.9 L133.8,998.6 L135.2,999.2 L136.5,999.7 L137.8,1000.2 L139.2,1000.6 L140.5,1000.9 L141.8,1001.3 L143.2,1001.6 L144.5,1001.8 L145.8,1002.1 L147.2,1002.3 L148.5,1002.5 L149.9,1002.6 L149.9,1002.9 L148.5,1002.8 L147.2,1002.7 L145.8,1002.7 L144.5,1002.6 L143.2,1002.5 L141.8,1002.4 L140.5,1002.3 L139.2,1002.3 L137.8,1002.2 L136.5,1002.2 L135.2,1002.1 L133.8,1002.1 L132.5,1002.0 L131.1,1002.0 L129.8,1001.9 L128.5,1001.9 L127.1,1001.8 L125.8,1001.8 L124.5,1001.8 L123.1,1001.7 L121.8,1001.7 L120.4,1001.6 L119.1,1001.6 L117.8,1001.5 L116.4,1001.5 L115.1,1001.4 L113.8,1001.4 L112.4,1001.4 L111.1,1001.3 L109.8,1001.3 L108.4,1001.2 L107.1,1001.2 L105.7,1001.1 L104.4,1001.1 L103.1,1001.0 L101.7,1001.0 L100.4,1000.9 L99.1,1000.9 L97.7,1000.9 L96.4,1000.8 L95.0,1000.8 L93.7,1000.7 L92.4,1000.7 L91.0,1000.6 L89.7,1000.6 L88.4,1000.6 L87.0,1000.5 L85.7,1000.5 L84.3,1000.5 L83.0,1000.5 L81.7,1000.4 L80.3,1000.4 L79.0,1000.4 L77.7,1000.3 L76.3,1000.3 L75.0,1000.3 L73.7,1000.3 L72.3,1000.2 L71.0,1000.2 L69.6,1000.2 L68.3,1000.1 L67.0,1000.1 L65.6,1000.1 L64.3,1000.1 L63.0,1000.0 L61.6,1000.0 L60.3,1000.0 L58.9,999.9 L57.6,999.9 L56.3,999.9 L54.9,999.9 L53.6,999.8 L52.3,999.8 L50.9,999.8 L49.6,999.7 L48.2,999.7 L46.9,999.7 L45.6,999.7 L44.2,999.6 L42.9,999.6Z" fill="#b4e0ca" fill-opacity="0.72" stroke="none"/><path d="M42.9,998.0 L44.2,997.7 L45.6,997.4 L46.9,997.0 L48.2,996.5 L49.6,995.9 L50.9,995.2 L52.3,994.5 L53.6,993.6 L54.9,992.7 L56.3,991.6 L57.6,990.4 L58.9,989.1 L60.3,987.7 L61.6,986.1 L63.0,984.5 L64.3,982.7 L65.6,980.8 L67.0,978.8 L68.3,976.7 L69.6,974.6 L71.0,972.3 L72.3,970.1 L73.7,967.8 L75.0,965.6 L76.3,963.4 L77.7,961.2 L79.0,959.2 L80.3,957.3 L81.7,955.5 L83.0,953.9 L84.3,952.5 L85.7,951.3 L87.0,950.3 L88.4,949.6 L89.7,949.2 L91.0,949.0 L92.4,949.2 L93.7,949.6 L95.0,950.2 L96.4,951.2 L97.7,952.3 L99.1,953.7 L100.4,955.3 L101.7,957.1 L103.1,959.1 L104.4,961.2 L105.7,963.3 L107.1,965.6 L108.4,967.9 L109.8,970.2 L111.1,972.6 L112.4,974.9 L113.8,977.1 L115.1,979.3 L116.4,981.4 L117.8,983.4 L119.1,985.3 L120.4,987.1 L121.8,988.8 L123.1,990.3 L124.5,991.8 L125.8,993.1 L127.1,994.3 L128.5,995.3 L129.8,996.3 L131.1,997.2 L132.5,997.9 L133.8,998.6 L135.2,999.2 L136.5,999.7 L137.8,1000.2 L139.2,1000.6 L140.5,1000.9 L141.8,1001.3 L143.2,1001.6 L144.5,1001.8 L145.8,1002.1 L147.2,1002.3 L148.5,1002.5 L149.9,1002.6" fill="none" stroke="#a0a0b4" stroke-width="0.7"/><path d="M98.8,1000.4 L99.9,1000.3 L101.1,1000.2 L102.3,1000.0 L103.5,999.8 L104.6,999.6 L105.8,999.2 L107.0,998.8 L108.2,998.3 L109.3,997.7 L110.5,996.9 L111.7,996.1 L112.9,995.0 L114.0,993.9 L115.2,992.5 L116.4,991.0 L117.6,989.2 L118.8,987.3 L119.9,985.1 L121.1,982.7 L122.3,980.1 L123.5,977.3 L124.6,974.2 L125.8,971.0 L127.0,967.6 L128.2,964.1 L129.3,960.4 L130.5,956.7 L131.7,953.0 L132.9,949.3 L134.0,945.7 L135.2,942.2 L136.4,938.9 L137.6,935.8 L138.7,933.0 L139.9,930.6 L141.1,928.5 L142.3,926.9 L143.4,925.8 L144.6,925.1 L145.8,925.0 L147.0,925.3 L148.2,926.1 L149.3,927.4 L150.5,929.2 L151.7,931.3 L152.9,933.9 L154.0,936.8 L155.2,940.0 L156.4,943.4 L157.6,947.0 L158.7,950.8 L159.9,954.6 L161.1,958.4 L162.3,962.3 L163.4,966.0 L164.6,969.7 L165.8,973.2 L167.0,976.5 L168.1,979.7 L169.3,982.6 L170.5,985.4 L171.7,987.9 L172.8,990.2 L174.0,992.3 L175.2,994.1 L176.4,995.8 L177.6,997.3 L178.7,998.5 L179.9,999.7 L181.1,1000.7 L182.3,1001.5 L183.4,1002.3 L184.6,1002.9 L185.8,1003.4 L187.0,1003.9 L188.1,1004.3 L189.3,1004.6 L190.5,1004.8 L191.7,1005.1 L192.8,1005.3 L192.8,1005.7 L191.7,1005.7 L190.5,1005.6 L189.3,1005.5 L188.1,1005.5 L187.0,1005.4 L185.8,1005.3 L184.6,1005.3 L183.4,1005.2 L182.3,1005.1 L181.1,1005.0 L179.9,1004.9 L178.7,1004.9 L177.6,1004.8 L176.4,1004.7 L175.2,1004.6 L174.0,1004.6 L172.8,1004.5 L171.7,1004.4 L170.5,1004.3 L169.3,1004.2 L168.1,1004.2 L167.0,1004.1 L165.8,1004.0 L164.6,1003.9 L163.4,1003.8 L162.3,1003.8 L161.1,1003.7 L159.9,1003.6 L158.7,1003.5 L157.6,1003.4 L156.4,1003.4 L155.2,1003.3 L154.0,1003.2 L152.9,1003.1 L151.7,1003.1 L150.5,1003.0 L149.3,1002.9 L148.2,1002.8 L147.0,1002.7 L145.8,1002.7 L144.6,1002.6 L143.4,1002.5 L142.3,1002.4 L141.1,1002.3 L139.9,1002.3 L138.7,1002.2 L137.6,1002.2 L136.4,1002.2 L135.2,1002.1 L134.0,1002.1 L132.9,1002.0 L131.7,1002.0 L130.5,1002.0 L129.3,1001.9 L128.2,1001.9 L127.0,1001.8 L125.8,1001.8 L124.6,1001.8 L123.5,1001.7 L122.3,1001.7 L121.1,1001.6 L119.9,1001.6 L118.8,1001.6 L117.6,1001.5 L116.4,1001.5 L115.2,1001.4 L114.0,1001.4 L112.9,1001.4 L111.7,1001.3 L110.5,1001.3 L109.3,1001.3 L108.2,1001.2 L107.0,1001.2 L105.8,1001.1 L104.6,1001.1 L103.5,1001.1 L102.3,1001.0 L101.1,1001.0 L99.9,1000.9 L98.8,1000.9Z" fill="#bcc3e6" fill-opacity="0.72" stroke="none"/><path d="M98.8,1000.4 L99.9,1000.3 L101.1,1000.2 L102.3,1000.0 L103.5,999.8 L104.6,999.6 L105.8,999.2 L107.0,998.8 L108.2,998.3 L109.3,997.7 L110.5,996.9 L111.7,996.1 L112.9,995.0 L114.0,993.9 L115.2,992.5 L116.4,991.0 L117.6,989.2 L118.8,987.3 L119.9,985.1 L121.1,982.7 L122.3,980.1 L123.5,977.3 L124.6,974.2 L125.8,971.0 L127.0,967.6 L128.2,964.1 L129.3,960.4 L130.5,956.7 L131.7,953.0 L132.9,949.3 L134.0,945.7 L135.2,942.2 L136.4,938.9 L137.6,935.8 L138.7,933.0 L139.9,930.6 L141.1,928.5 L142.3,926.9 L143.4,925.8 L144.6,925.1 L145.8,925.0 L147.0,925.3 L148.2,926.1 L149.3,927.4 L150.5,929.2 L151.7,931.3 L152.9,933.9 L154.0,936.8 L155.2,940.0 L156.4,943.4 L157.6,947.0 L158.7,950.8 L159.9,954.6 L161.1,958.4 L162.3,962.3 L163.4,966.0 L164.6,969.7 L165.8,973.2 L167.0,976.5 L168.1,979.7 L169.3,982.6 L170.5,985.4 L171.7,987.9 L172.8,990.2 L174.0,992.3 L175.2,994.1 L176.4,995.8 L177.6,997.3 L178.7,998.5 L179.9,999.7 L181.1,1000.7 L182.3,1001.5 L183.4,1002.3 L184.6,1002.9 L185.8,1003.4 L187.0,1003.9 L188.1,1004.3 L189.3,1004.6 L190.5,1004.8 L191.7,1005.1 L192.8,1005.3" fill="none" stroke="#a0a0b4" stroke-width="0.7"/><path d="M134.1,1001.3 L135.3,1001.2 L136.5,1000.9 L137.7,1000.6 L138.9,1000.3 L140.1,999.8 L141.3,999.3 L142.5,998.6 L143.7,997.8 L145.0,996.8 L146.2,995.6 L147.4,994.3 L148.6,992.6 L149.8,990.7 L151.0,988.6 L152.2,986.1 L153.4,983.3 L154.6,980.2 L155.8,976.7 L157.0,972.8 L158.2,968.6 L159.4,964.0 L160.7,959.2 L161.9,954.0 L163.1,948.5 L164.3,942.8 L165.5,937.0 L166.7,931.0 L167.9,925.0 L169.1,919.0 L170.3,913.2 L171.5,907.5 L172.7,902.2 L173.9,897.3 L175.2,892.8 L176.4,888.9 L177.6,885.6 L178.8,882.9 L180.0,881.1 L181.2,879.9 L182.4,879.6 L183.6,880.1 L184.8,881.4 L186.0,883.4 L187.2,886.2 L188.4,889.6 L189.6,893.7 L190.9,898.3 L192.1,903.4 L193.3,908.9 L194.5,914.7 L195.7,920.7 L196.9,926.8 L198.1,932.9 L199.3,939.1 L200.5,945.1 L201.7,950.9 L202.9,956.5 L204.1,961.9 L205.4,966.9 L206.6,971.6 L207.8,975.9 L209.0,979.9 L210.2,983.6 L211.4,986.9 L212.6,989.8 L213.8,992.5 L215.0,994.8 L216.2,996.8 L217.4,998.6 L218.6,1000.1 L219.8,1001.4 L221.1,1002.5 L222.3,1003.5 L223.5,1004.3 L224.7,1005.0 L225.9,1005.5 L227.1,1006.0 L228.3,1006.4 L229.5,1006.8 L230.7,1007.0 L230.7,1007.8 L229.5,1007.7 L228.3,1007.7 L227.1,1007.6 L225.9,1007.5 L224.7,1007.5 L223.5,1007.4 L222.3,1007.3 L221.1,1007.3 L219.8,1007.2 L218.6,1007.1 L217.4,1007.1 L216.2,1007.0 L215.0,1006.9 L213.8,1006.9 L212.6,1006.8 L211.4,1006.7 L210.2,1006.7 L209.0,1006.6 L207.8,1006.5 L206.6,1006.5 L205.4,1006.4 L204.1,1006.4 L202.9,1006.3 L201.7,1006.2 L200.5,1006.2 L199.3,1006.1 L198.1,1006.0 L196.9,1006.0 L195.7,1005.9 L194.5,1005.8 L193.3,1005.8 L192.1,1005.7 L190.9,1005.6 L189.6,1005.6 L188.4,1005.5 L187.2,1005.4 L186.0,1005.4 L184.8,1005.3 L183.6,1005.2 L182.4,1005.1 L181.2,1005.0 L180.0,1005.0 L178.8,1004.9 L177.6,1004.8 L176.4,1004.7 L175.2,1004.6 L173.9,1004.5 L172.7,1004.5 L171.5,1004.4 L170.3,1004.3 L169.1,1004.2 L167.9,1004.1 L166.7,1004.1 L165.5,1004.0 L164.3,1003.9 L163.1,1003.8 L161.9,1003.7 L160.7,1003.7 L159.4,1003.6 L158.2,1003.5 L157.0,1003.4 L155.8,1003.3 L154.6,1003.2 L153.4,1003.2 L152.2,1003.1 L151.0,1003.0 L149.8,1002.9 L148.6,1002.8 L147.4,1002.8 L146.2,1002.7 L145.0,1002.6 L143.7,1002.5 L142.5,1002.4 L141.3,1002.4 L140.1,1002.3 L138.9,1002.2 L137.7,1002.2 L136.5,1002.2 L135.3,1002.1 L134.1,1002.1Z" fill="#f8bca0" fill-opacity="0.72" stroke="none"/><path d="M134.1,1001.3 L135.3,1001.2 L136.5,1000.9 L137.7,1000.6 L138.9,1000.3 L140.1,999.8 L141.3,999.3 L142.5,998.6 L143.7,997.8 L145.0,996.8 L146.2,995.6 L147.4,994.3 L148.6,992.6 L149.8,990.7 L151.0,988.6 L152.2,986.1 L153.4,983.3 L154.6,980.2 L155.8,976.7 L157.0,972.8 L158.2,968.6 L159.4,964.0 L160.7,959.2 L161.9,954.0 L163.1,948.5 L164.3,942.8 L165.5,937.0 L166.7,931.0 L167.9,925.0 L169.1,919.0 L170.3,913.2 L171.5,907.5 L172.7,902.2 L173.9,897.3 L175.2,892.8 L176.4,888.9 L177.6,885.6 L178.8,882.9 L180.0,881.1 L181.2,879.9 L182.4,879.6 L183.6,880.1 L184.8,881.4 L186.0,883.4 L187.2,886.2 L188.4,889.6 L189.6,893.7 L190.9,898.3 L192.1,903.4 L193.3,908.9 L194.5,914.7 L195.7,920.7 L196.9,926.8 L198.1,932.9 L199.3,939.1 L200.5,945.1 L201.7,950.9 L202.9,956.5 L204.1,961.9 L205.4,966.9 L206.6,971.6 L207.8,975.9 L209.0,979.9 L210.2,983.6 L211.4,986.9 L212.6,989.8 L213.8,992.5 L215.0,994.8 L216.2,996.8 L217.4,998.6 L218.6,1000.1 L219.8,1001.4 L221.1,1002.5 L222.3,1003.5 L223.5,1004.3 L224.7,1005.0 L225.9,1005.5 L227.1,1006.0 L228.3,1006.4 L229.5,1006.8 L230.7,1007.0" fill="none" stroke="#a0a0b4" stroke-width="0.7"/><path d="M43.0,999.6 L90.0,1000.6 L140.5,1002.3 L186.6,1005.4 L240.0,1008.3 L300.0,1008.6" fill="none" stroke="#e8343a" stroke-width="1.2"/><g fill="none" stroke="#acacb8" stroke-width="0.7"><circle cx="93.9" cy="947.4" r="1.4"/><circle cx="177.9" cy="863.6" r="1.4"/><circle cx="46.2" cy="994.9" r="1.4"/><circle cx="295.2" cy="1008.4" r="1.4"/><circle cx="220.8" cy="993.7" r="1.4"/><circle cx="180.8" cy="861.5" r="1.4"/><circle cx="160.9" cy="893.4" r="1.4"/><circle cx="203.3" cy="940.2" r="1.4"/><circle cx="106.9" cy="958.6" r="1.4"/><circle cx="195.0" cy="899.4" r="1.4"/><circle cx="194.0" cy="893.9" r="1.4"/><circle cx="141.4" cy="915.8" r="1.4"/><circle cx="229.6" cy="1003.9" r="1.4"/><circle cx="262.6" cy="1007.9" r="1.4"/><circle cx="178.5" cy="860.9" r="1.4"/><circle cx="116.5" cy="958.2" r="1.4"/><circle cx="173.4" cy="869.9" r="1.4"/><circle cx="226.3" cy="998.1" r="1.4"/><circle cx="184.6" cy="869.8" r="1.4"/><circle cx="236.0" cy="1002.7" r="1.4"/><circle cx="192.5" cy="896.2" r="1.4"/><circle cx="103.6" cy="953.6" r="1.4"/><circle cx="225.8" cy="1002.5" r="1.4"/><circle cx="130.2" cy="934.8" r="1.4"/><circle cx="107.0" cy="957.1" r="1.4"/><circle cx="176.2" cy="864.1" r="1.4"/><circle cx="193.8" cy="902.8" r="1.4"/><circle cx="157.4" cy="896.0" r="1.4"/><circle cx="108.4" cy="958.0" r="1.4"/><circle cx="84.5" cy="950.4" r="1.4"/><circle cx="175.9" cy="867.6" r="1.4"/><circle cx="110.9" cy="959.3" r="1.4"/><circle cx="234.0" cy="1003.3" r="1.4"/><circle cx="181.5" cy="863.4" r="1.4"/><circle cx="168.6" cy="881.1" r="1.4"/><circle cx="137.2" cy="921.3" r="1.4"/><circle cx="93.4" cy="950.1" r="1.4"/><circle cx="165.1" cy="883.5" r="1.4"/><circle cx="132.4" cy="932.7" r="1.4"/><circle cx="178.8" cy="862.1" r="1.4"/><circle cx="178.9" cy="861.5" r="1.4"/><circle cx="192.0" cy="887.3" r="1.4"/><circle cx="46.3" cy="992.7" r="1.4"/><circle cx="96.7" cy="946.5" r="1.4"/><circle cx="173.7" cy="867.5" r="1.4"/><circle cx="119.6" cy="957.3" r="1.4"/><circle cx="107.5" cy="957.6" r="1.4"/><circle cx="170.5" cy="875.9" r="1.4"/><circle cx="108.8" cy="958.6" r="1.4"/><circle cx="82.3" cy="950.9" r="1.4"/><circle cx="189.0" cy="881.6" r="1.4"/><circle cx="220.0" cy="994.1" r="1.4"/><circle cx="224.5" cy="999.7" r="1.4"/><circle cx="231.7" cy="1005.6" r="1.4"/><circle cx="90.2" cy="946.9" r="1.4"/><circle cx="214.8" cy="980.0" r="1.4"/><circle cx="81.0" cy="953.2" r="1.4"/><circle cx="213.6" cy="978.1" r="1.4"/><circle cx="67.3" cy="970.1" r="1.4"/><circle cx="115.3" cy="957.7" r="1.4"/><circle cx="133.3" cy="929.0" r="1.4"/><circle cx="44.8" cy="995.3" r="1.4"/><circle cx="231.7" cy="1000.5" r="1.4"/><circle cx="240.2" cy="1007.8" r="1.4"/><circle cx="200.9" cy="926.9" r="1.4"/><circle cx="105.0" cy="954.5" r="1.4"/><circle cx="90.6" cy="946.9" r="1.4"/><circle cx="213.9" cy="981.9" r="1.4"/><circle cx="236.0" cy="1007.7" r="1.4"/><circle cx="235.0" cy="1003.7" r="1.4"/><circle cx="46.0" cy="995.5" r="1.4"/><circle cx="184.0" cy="865.8" r="1.4"/><circle cx="132.7" cy="930.8" r="1.4"/><circle cx="97.8" cy="948.8" r="1.4"/><circle cx="150.4" cy="904.6" r="1.4"/><circle cx="163.6" cy="889.8" r="1.4"/><circle cx="78.5" cy="958.1" r="1.4"/><circle cx="216.9" cy="987.9" r="1.4"/><circle cx="179.9" cy="862.8" r="1.4"/><circle cx="100.8" cy="952.2" r="1.4"/><circle cx="134.4" cy="926.5" r="1.4"/><circle cx="52.5" cy="990.6" r="1.4"/><circle cx="65.8" cy="974.3" r="1.4"/><circle cx="59.1" cy="984.1" r="1.4"/><circle cx="110.0" cy="957.6" r="1.4"/><circle cx="172.7" cy="871.8" r="1.4"/><circle cx="82.9" cy="952.5" r="1.4"/><circle cx="193.4" cy="898.8" r="1.4"/><circle cx="57.3" cy="985.1" r="1.4"/><circle cx="208.4" cy="965.0" r="1.4"/><circle cx="213.0" cy="975.2" r="1.4"/><circle cx="154.7" cy="901.1" r="1.4"/><circle cx="134.1" cy="927.0" r="1.4"/><circle cx="163.7" cy="888.9" r="1.4"/><circle cx="56.2" cy="986.0" r="1.4"/><circle cx="245.4" cy="1007.9" r="1.4"/><circle cx="235.0" cy="1004.8" r="1.4"/><circle cx="67.0" cy="973.8" r="1.4"/><circle cx="184.7" cy="865.3" r="1.4"/><circle cx="197.7" cy="913.8" r="1.4"/><circle cx="62.6" cy="980.1" r="1.4"/><circle cx="205.8" cy="957.0" r="1.4"/><circle cx="59.4" cy="983.4" r="1.4"/><circle cx="48.1" cy="993.5" r="1.4"/><circle cx="66.7" cy="971.9" r="1.4"/><circle cx="254.5" cy="1004.8" r="1.4"/><circle cx="211.3" cy="974.9" r="1.4"/><circle cx="192.6" cy="895.2" r="1.4"/><circle cx="201.9" cy="932.2" r="1.4"/><circle cx="169.8" cy="878.5" r="1.4"/></g><path d="M43.0,997.0 C44.2,996.5 47.7,995.3 50.0,994.0 C52.3,992.7 54.5,991.8 56.8,989.1 C59.1,986.4 61.6,982.2 64.0,978.0 C66.4,973.8 68.4,967.8 71.4,963.6 C74.4,959.5 78.8,955.6 81.9,953.1 C85.1,950.6 87.5,948.9 90.3,948.5 C93.1,948.1 95.8,949.4 98.6,951.0 C101.4,952.6 104.5,956.6 107.0,958.3 C109.5,960.0 111.2,961.2 113.3,961.0 C115.4,960.8 116.8,961.4 119.6,957.3 C122.4,953.2 126.5,943.3 130.0,936.3 C133.5,929.3 137.0,920.6 140.5,915.4 C144.0,910.2 147.8,908.0 151.0,904.9 C154.2,901.8 156.6,900.3 159.4,896.5 C162.2,892.7 165.3,886.4 167.7,881.9 C170.1,877.4 172.1,872.5 174.0,869.3 C175.9,866.1 177.6,863.1 179.3,862.6 C181.1,862.1 182.6,862.3 184.5,866.2 C186.4,870.1 188.4,876.5 190.8,886.1 C193.2,895.7 196.4,911.2 199.2,923.8 C202.0,936.4 204.7,951.0 207.5,961.5 C210.3,972.0 213.1,980.0 215.9,986.6 C218.7,993.2 221.5,998.2 224.3,1001.3 C227.1,1004.4 230.1,1004.4 232.7,1005.4 C235.3,1006.4 235.4,1007.0 240.0,1007.5 C244.6,1008.0 250.0,1008.0 260.0,1008.2 C270.0,1008.4 293.3,1008.5 300.0,1008.5" fill="none" stroke="#1f2a70" stroke-width="1.6"/><rect x="42.9" y="840.7" width="257.1" height="192.0" fill="none" stroke="#444" stroke-width="1.1"/><line x1="42.9" y1="1032.7" x2="42.9" y2="1035.7" stroke="#444" stroke-width="1"/><text x="42.9" y="1048.5" font-size="11.6" text-anchor="middle" fill="#111" font-weight="normal" textLength="18.3" lengthAdjust="spacingAndGlyphs">290</text><line x1="94.3" y1="1032.7" x2="94.3" y2="1035.7" stroke="#444" stroke-width="1"/><text x="94.3" y="1048.5" font-size="11.6" text-anchor="middle" fill="#111" font-weight="normal" textLength="18.3" lengthAdjust="spacingAndGlyphs">288</text><line x1="145.7" y1="1032.7" x2="145.7" y2="1035.7" stroke="#444" stroke-width="1"/><text x="145.7" y="1048.5" font-size="11.6" text-anchor="middle" fill="#111" font-weight="normal" textLength="18.3" lengthAdjust="spacingAndGlyphs">286</text><line x1="197.2" y1="1032.7" x2="197.2" y2="1035.7" stroke="#444" stroke-width="1"/><text x="197.2" y="1048.5" font-size="11.6" text-anchor="middle" fill="#111" font-weight="normal" textLength="18.3" lengthAdjust="spacingAndGlyphs">284</text><line x1="248.6" y1="1032.7" x2="248.6" y2="1035.7" stroke="#444" stroke-width="1"/><text x="248.6" y="1048.5" font-size="11.6" text-anchor="middle" fill="#111" font-weight="normal" textLength="18.3" lengthAdjust="spacingAndGlyphs">282</text><line x1="300.0" y1="1032.7" x2="300.0" y2="1035.7" stroke="#444" stroke-width="1"/><text x="300.0" y="1048.5" font-size="11.6" text-anchor="middle" fill="#111" font-weight="normal" textLength="18.3" lengthAdjust="spacingAndGlyphs">280</text><line x1="68.6" y1="1032.7" x2="68.6" y2="1034.7" stroke="#444" stroke-width="0.8"/><line x1="120.0" y1="1032.7" x2="120.0" y2="1034.7" stroke="#444" stroke-width="0.8"/><line x1="171.5" y1="1032.7" x2="171.5" y2="1034.7" stroke="#444" stroke-width="0.8"/><line x1="222.9" y1="1032.7" x2="222.9" y2="1034.7" stroke="#444" stroke-width="0.8"/><line x1="274.3" y1="1032.7" x2="274.3" y2="1034.7" stroke="#444" stroke-width="0.8"/><text x="97.0" y="1067.0" font-size="17" text-anchor="start" fill="#111" font-weight="normal" textLength="153.6" lengthAdjust="spacingAndGlyphs">Binding Energy (eV)</text><text transform="translate(31.2,989.9) rotate(-90)" font-size="16.3" fill="#111" textLength="101.8" lengthAdjust="spacingAndGlyphs">Intensity (a.u.)</text><text x="56.1" y="869.6" font-size="14.5" text-anchor="start" fill="#111" font-weight="normal" textLength="34.6" lengthAdjust="spacingAndGlyphs">C 1s</text><text transform="translate(90.8,995.0) rotate(-90)" font-size="12" text-anchor="start" fill="#111" font-weight="normal" textLength="36.0" lengthAdjust="spacingAndGlyphs">287.59</text><text transform="translate(145.9,977.5) rotate(-90)" font-size="12" text-anchor="start" fill="#111" font-weight="normal" textLength="39.5" lengthAdjust="spacingAndGlyphs">285.38</text><text transform="translate(187.6,947.0) rotate(-90)" font-size="12" text-anchor="start" fill="#111" font-weight="normal" textLength="37.0" lengthAdjust="spacingAndGlyphs">283.96</text><text x="324.8" y="841.0" font-size="23" fill="#111">G</text><path d="M374.4,1005.4 L375.8,1005.4 L377.3,1005.4 L378.7,1005.3 L380.2,1005.3 L381.6,1005.2 L383.0,1005.2 L384.5,1005.1 L385.9,1005.0 L387.4,1004.9 L388.8,1004.7 L390.2,1004.6 L391.7,1004.4 L393.1,1004.2 L394.6,1004.0 L396.0,1003.7 L397.4,1003.4 L398.9,1003.1 L400.3,1002.7 L401.8,1002.3 L403.2,1001.8 L404.6,1001.3 L406.1,1000.8 L407.5,1000.3 L409.0,999.7 L410.4,999.1 L411.8,998.5 L413.3,997.9 L414.7,997.2 L416.2,996.6 L417.6,996.0 L419.0,995.4 L420.5,994.8 L421.9,994.3 L423.4,993.8 L424.8,993.4 L426.2,993.0 L427.7,992.8 L429.1,992.6 L430.6,992.4 L432.0,992.4 L433.4,992.4 L434.9,992.5 L436.3,992.7 L437.8,993.0 L439.2,993.4 L440.6,993.8 L442.1,994.3 L443.5,994.8 L445.0,995.3 L446.4,995.9 L447.8,996.5 L449.3,997.2 L450.7,997.8 L452.2,998.4 L453.6,999.0 L455.0,999.6 L456.5,1000.2 L457.9,1000.7 L459.4,1001.2 L460.8,1001.7 L462.2,1002.2 L463.7,1002.6 L465.1,1002.9 L466.6,1003.3 L468.0,1003.6 L469.4,1003.8 L470.9,1004.1 L472.3,1004.3 L473.8,1004.4 L475.2,1004.6 L476.6,1004.7 L478.1,1004.8 L479.5,1004.9 L481.0,1005.0 L482.4,1005.0 L483.8,1005.1 L485.3,1005.1 L486.7,1005.2 L488.2,1005.2 L489.6,1005.2 L489.6,1005.3 L488.2,1005.3 L486.7,1005.3 L485.3,1005.3 L483.8,1005.3 L482.4,1005.3 L481.0,1005.3 L479.5,1005.3 L478.1,1005.3 L476.6,1005.3 L475.2,1005.3 L473.8,1005.3 L472.3,1005.3 L470.9,1005.3 L469.4,1005.3 L468.0,1005.3 L466.6,1005.3 L465.1,1005.3 L463.7,1005.3 L462.2,1005.3 L460.8,1005.3 L459.4,1005.3 L457.9,1005.3 L456.5,1005.3 L455.0,1005.3 L453.6,1005.3 L452.2,1005.3 L450.7,1005.4 L449.3,1005.4 L447.8,1005.4 L446.4,1005.4 L445.0,1005.4 L443.5,1005.4 L442.1,1005.4 L440.6,1005.4 L439.2,1005.4 L437.8,1005.4 L436.3,1005.4 L434.9,1005.4 L433.4,1005.4 L432.0,1005.4 L430.6,1005.4 L429.1,1005.4 L427.7,1005.4 L426.2,1005.4 L424.8,1005.4 L423.4,1005.4 L421.9,1005.4 L420.5,1005.4 L419.0,1005.4 L417.6,1005.4 L416.2,1005.4 L414.7,1005.4 L413.3,1005.4 L411.8,1005.4 L410.4,1005.4 L409.0,1005.4 L407.5,1005.4 L406.1,1005.4 L404.6,1005.4 L403.2,1005.4 L401.8,1005.4 L400.3,1005.4 L398.9,1005.5 L397.4,1005.5 L396.0,1005.5 L394.6,1005.5 L393.1,1005.5 L391.7,1005.5 L390.2,1005.5 L388.8,1005.5 L387.4,1005.5 L385.9,1005.5 L384.5,1005.5 L383.0,1005.5 L381.6,1005.5 L380.2,1005.5 L378.7,1005.5 L377.3,1005.5 L375.8,1005.5 L374.4,1005.5Z" fill="#fbe3a0" fill-opacity="0.72" stroke="none"/><path d="M374.4,1005.4 L375.8,1005.4 L377.3,1005.4 L378.7,1005.3 L380.2,1005.3 L381.6,1005.2 L383.0,1005.2 L384.5,1005.1 L385.9,1005.0 L387.4,1004.9 L388.8,1004.7 L390.2,1004.6 L391.7,1004.4 L393.1,1004.2 L394.6,1004.0 L396.0,1003.7 L397.4,1003.4 L398.9,1003.1 L400.3,1002.7 L401.8,1002.3 L403.2,1001.8 L404.6,1001.3 L406.1,1000.8 L407.5,1000.3 L409.0,999.7 L410.4,999.1 L411.8,998.5 L413.3,997.9 L414.7,997.2 L416.2,996.6 L417.6,996.0 L419.0,995.4 L420.5,994.8 L421.9,994.3 L423.4,993.8 L424.8,993.4 L426.2,993.0 L427.7,992.8 L429.1,992.6 L430.6,992.4 L432.0,992.4 L433.4,992.4 L434.9,992.5 L436.3,992.7 L437.8,993.0 L439.2,993.4 L440.6,993.8 L442.1,994.3 L443.5,994.8 L445.0,995.3 L446.4,995.9 L447.8,996.5 L449.3,997.2 L450.7,997.8 L452.2,998.4 L453.6,999.0 L455.0,999.6 L456.5,1000.2 L457.9,1000.7 L459.4,1001.2 L460.8,1001.7 L462.2,1002.2 L463.7,1002.6 L465.1,1002.9 L466.6,1003.3 L468.0,1003.6 L469.4,1003.8 L470.9,1004.1 L472.3,1004.3 L473.8,1004.4 L475.2,1004.6 L476.6,1004.7 L478.1,1004.8 L479.5,1004.9 L481.0,1005.0 L482.4,1005.0 L483.8,1005.1 L485.3,1005.1 L486.7,1005.2 L488.2,1005.2 L489.6,1005.2" fill="none" stroke="#a0a0b4" stroke-width="0.7"/><path d="M425.7,1004.6 L427.3,1004.4 L429.0,1004.1 L430.6,1003.8 L432.3,1003.3 L433.9,1002.8 L435.6,1002.1 L437.2,1001.4 L438.9,1000.4 L440.5,999.3 L442.2,998.0 L443.8,996.5 L445.5,994.7 L447.1,992.6 L448.8,990.3 L450.4,987.6 L452.0,984.6 L453.7,981.2 L455.3,977.5 L457.0,973.4 L458.6,968.9 L460.3,964.1 L461.9,958.9 L463.6,953.4 L465.2,947.6 L466.9,941.6 L468.5,935.4 L470.2,929.0 L471.8,922.7 L473.5,916.4 L475.1,910.2 L476.8,904.2 L478.4,898.6 L480.1,893.3 L481.7,888.5 L483.4,884.4 L485.0,880.8 L486.7,878.0 L488.3,875.9 L490.0,874.7 L491.6,874.3 L493.2,874.7 L494.9,875.9 L496.5,878.0 L498.2,880.8 L499.8,884.3 L501.5,888.5 L503.1,893.3 L504.8,898.5 L506.4,904.2 L508.1,910.1 L509.7,916.3 L511.4,922.6 L513.0,929.0 L514.7,935.3 L516.3,941.5 L518.0,947.5 L519.6,953.3 L521.3,958.8 L522.9,963.9 L524.6,968.8 L526.2,973.3 L527.9,977.4 L529.5,981.1 L531.2,984.5 L532.8,987.5 L534.4,990.1 L536.1,992.5 L537.7,994.5 L539.4,996.3 L541.0,997.8 L542.7,999.1 L544.3,1000.2 L546.0,1001.2 L547.6,1001.9 L549.3,1002.6 L550.9,1003.1 L552.6,1003.5 L554.2,1003.9 L555.9,1004.1 L557.5,1004.4 L557.5,1005.1 L555.9,1005.1 L554.2,1005.2 L552.6,1005.2 L550.9,1005.2 L549.3,1005.2 L547.6,1005.2 L546.0,1005.2 L544.3,1005.2 L542.7,1005.2 L541.0,1005.2 L539.4,1005.2 L537.7,1005.2 L536.1,1005.2 L534.4,1005.2 L532.8,1005.2 L531.2,1005.2 L529.5,1005.2 L527.9,1005.2 L526.2,1005.2 L524.6,1005.2 L522.9,1005.2 L521.3,1005.2 L519.6,1005.2 L518.0,1005.2 L516.3,1005.2 L514.7,1005.2 L513.0,1005.2 L511.4,1005.2 L509.7,1005.2 L508.1,1005.2 L506.4,1005.2 L504.8,1005.2 L503.1,1005.3 L501.5,1005.3 L499.8,1005.3 L498.2,1005.3 L496.5,1005.3 L494.9,1005.3 L493.2,1005.3 L491.6,1005.3 L490.0,1005.3 L488.3,1005.3 L486.7,1005.3 L485.0,1005.3 L483.4,1005.3 L481.7,1005.3 L480.1,1005.3 L478.4,1005.3 L476.8,1005.3 L475.1,1005.3 L473.5,1005.3 L471.8,1005.3 L470.2,1005.3 L468.5,1005.3 L466.9,1005.3 L465.2,1005.3 L463.6,1005.3 L461.9,1005.3 L460.3,1005.3 L458.6,1005.3 L457.0,1005.3 L455.3,1005.3 L453.7,1005.3 L452.0,1005.3 L450.4,1005.4 L448.8,1005.4 L447.1,1005.4 L445.5,1005.4 L443.8,1005.4 L442.2,1005.4 L440.5,1005.4 L438.9,1005.4 L437.2,1005.4 L435.6,1005.4 L433.9,1005.4 L432.3,1005.4 L430.6,1005.4 L429.0,1005.4 L427.3,1005.4 L425.7,1005.4Z" fill="#f6cbe6" fill-opacity="0.72" stroke="none"/><path d="M425.7,1004.6 L427.3,1004.4 L429.0,1004.1 L430.6,1003.8 L432.3,1003.3 L433.9,1002.8 L435.6,1002.1 L437.2,1001.4 L438.9,1000.4 L440.5,999.3 L442.2,998.0 L443.8,996.5 L445.5,994.7 L447.1,992.6 L448.8,990.3 L450.4,987.6 L452.0,984.6 L453.7,981.2 L455.3,977.5 L457.0,973.4 L458.6,968.9 L460.3,964.1 L461.9,958.9 L463.6,953.4 L465.2,947.6 L466.9,941.6 L468.5,935.4 L470.2,929.0 L471.8,922.7 L473.5,916.4 L475.1,910.2 L476.8,904.2 L478.4,898.6 L480.1,893.3 L481.7,888.5 L483.4,884.4 L485.0,880.8 L486.7,878.0 L488.3,875.9 L490.0,874.7 L491.6,874.3 L493.2,874.7 L494.9,875.9 L496.5,878.0 L498.2,880.8 L499.8,884.3 L501.5,888.5 L503.1,893.3 L504.8,898.5 L506.4,904.2 L508.1,910.1 L509.7,916.3 L511.4,922.6 L513.0,929.0 L514.7,935.3 L516.3,941.5 L518.0,947.5 L519.6,953.3 L521.3,958.8 L522.9,963.9 L524.6,968.8 L526.2,973.3 L527.9,977.4 L529.5,981.1 L531.2,984.5 L532.8,987.5 L534.4,990.1 L536.1,992.5 L537.7,994.5 L539.4,996.3 L541.0,997.8 L542.7,999.1 L544.3,1000.2 L546.0,1001.2 L547.6,1001.9 L549.3,1002.6 L550.9,1003.1 L552.6,1003.5 L554.2,1003.9 L555.9,1004.1 L557.5,1004.4" fill="none" stroke="#a0a0b4" stroke-width="0.7"/><path d="M373.6,1005.5 L633.3,1005.0" fill="none" stroke="#e8343a" stroke-width="1.2"/><g fill="none" stroke="#acacb8" stroke-width="0.7"><circle cx="535.9" cy="992.5" r="1.4"/><circle cx="566.6" cy="997.0" r="1.4"/><circle cx="381.1" cy="1008.3" r="1.4"/><circle cx="606.8" cy="1002.5" r="1.4"/><circle cx="494.9" cy="871.7" r="1.4"/><circle cx="376.4" cy="1003.3" r="1.4"/><circle cx="447.0" cy="983.5" r="1.4"/><circle cx="579.9" cy="1002.3" r="1.4"/><circle cx="533.2" cy="994.4" r="1.4"/><circle cx="427.4" cy="990.7" r="1.4"/><circle cx="629.5" cy="1002.1" r="1.4"/><circle cx="514.0" cy="937.7" r="1.4"/><circle cx="427.7" cy="988.2" r="1.4"/><circle cx="605.3" cy="996.8" r="1.4"/><circle cx="466.7" cy="937.4" r="1.4"/><circle cx="452.1" cy="977.7" r="1.4"/><circle cx="374.8" cy="1003.1" r="1.4"/><circle cx="586.1" cy="1006.3" r="1.4"/><circle cx="455.6" cy="970.1" r="1.4"/><circle cx="625.9" cy="1003.0" r="1.4"/><circle cx="569.0" cy="1009.2" r="1.4"/><circle cx="468.9" cy="932.7" r="1.4"/><circle cx="375.1" cy="1007.5" r="1.4"/><circle cx="425.1" cy="998.6" r="1.4"/><circle cx="615.9" cy="1002.5" r="1.4"/><circle cx="510.4" cy="918.1" r="1.4"/><circle cx="402.2" cy="1003.0" r="1.4"/><circle cx="384.0" cy="998.5" r="1.4"/><circle cx="397.0" cy="997.3" r="1.4"/><circle cx="462.7" cy="950.5" r="1.4"/><circle cx="514.8" cy="935.4" r="1.4"/><circle cx="393.2" cy="1004.8" r="1.4"/><circle cx="553.6" cy="1003.0" r="1.4"/><circle cx="629.9" cy="1004.8" r="1.4"/><circle cx="478.5" cy="890.5" r="1.4"/><circle cx="491.8" cy="870.1" r="1.4"/><circle cx="388.9" cy="1007.2" r="1.4"/><circle cx="590.6" cy="1004.8" r="1.4"/><circle cx="564.5" cy="1000.2" r="1.4"/><circle cx="401.2" cy="997.5" r="1.4"/><circle cx="413.0" cy="996.3" r="1.4"/><circle cx="633.8" cy="1007.2" r="1.4"/><circle cx="627.0" cy="999.2" r="1.4"/><circle cx="497.6" cy="879.8" r="1.4"/><circle cx="477.8" cy="890.5" r="1.4"/><circle cx="623.1" cy="1010.3" r="1.4"/><circle cx="503.0" cy="894.7" r="1.4"/><circle cx="577.4" cy="1005.4" r="1.4"/><circle cx="468.0" cy="937.3" r="1.4"/><circle cx="546.6" cy="995.6" r="1.4"/><circle cx="468.4" cy="934.0" r="1.4"/><circle cx="573.9" cy="1007.5" r="1.4"/><circle cx="450.8" cy="977.2" r="1.4"/><circle cx="376.7" cy="1001.2" r="1.4"/><circle cx="439.0" cy="982.0" r="1.4"/><circle cx="542.3" cy="998.7" r="1.4"/><circle cx="464.2" cy="948.0" r="1.4"/><circle cx="465.2" cy="941.0" r="1.4"/><circle cx="599.9" cy="1011.5" r="1.4"/><circle cx="508.2" cy="908.3" r="1.4"/><circle cx="417.4" cy="998.3" r="1.4"/><circle cx="553.6" cy="1001.3" r="1.4"/><circle cx="562.6" cy="1004.6" r="1.4"/><circle cx="546.3" cy="996.5" r="1.4"/><circle cx="536.1" cy="987.6" r="1.4"/><circle cx="380.1" cy="1000.6" r="1.4"/><circle cx="488.4" cy="875.9" r="1.4"/><circle cx="536.5" cy="997.6" r="1.4"/><circle cx="495.5" cy="877.9" r="1.4"/><circle cx="455.4" cy="970.0" r="1.4"/><circle cx="422.9" cy="989.2" r="1.4"/><circle cx="532.7" cy="986.5" r="1.4"/><circle cx="436.2" cy="991.5" r="1.4"/><circle cx="445.8" cy="983.5" r="1.4"/><circle cx="404.1" cy="1000.2" r="1.4"/><circle cx="532.1" cy="987.3" r="1.4"/><circle cx="514.9" cy="929.6" r="1.4"/><circle cx="586.0" cy="1000.4" r="1.4"/><circle cx="585.0" cy="1003.0" r="1.4"/><circle cx="528.5" cy="978.8" r="1.4"/><circle cx="623.1" cy="1001.9" r="1.4"/><circle cx="604.6" cy="1002.3" r="1.4"/><circle cx="401.8" cy="1000.1" r="1.4"/><circle cx="537.9" cy="991.6" r="1.4"/><circle cx="471.1" cy="923.2" r="1.4"/><circle cx="625.9" cy="1006.5" r="1.4"/><circle cx="624.0" cy="1002.1" r="1.4"/><circle cx="628.4" cy="1002.7" r="1.4"/><circle cx="481.1" cy="891.3" r="1.4"/><circle cx="447.9" cy="981.3" r="1.4"/><circle cx="405.5" cy="997.8" r="1.4"/><circle cx="577.3" cy="1005.0" r="1.4"/><circle cx="377.1" cy="1003.3" r="1.4"/><circle cx="576.2" cy="1011.0" r="1.4"/><circle cx="442.4" cy="987.9" r="1.4"/><circle cx="531.5" cy="983.9" r="1.4"/><circle cx="541.3" cy="996.8" r="1.4"/><circle cx="570.7" cy="1002.5" r="1.4"/><circle cx="511.8" cy="923.5" r="1.4"/><circle cx="493.9" cy="877.8" r="1.4"/><circle cx="567.3" cy="1006.2" r="1.4"/><circle cx="492.8" cy="873.8" r="1.4"/><circle cx="604.3" cy="1009.2" r="1.4"/><circle cx="484.8" cy="880.8" r="1.4"/><circle cx="557.8" cy="996.8" r="1.4"/><circle cx="473.5" cy="914.3" r="1.4"/><circle cx="594.2" cy="1002.4" r="1.4"/><circle cx="391.4" cy="1008.9" r="1.4"/><circle cx="553.9" cy="1001.6" r="1.4"/><circle cx="609.4" cy="1009.1" r="1.4"/><circle cx="497.9" cy="876.5" r="1.4"/><circle cx="413.6" cy="996.7" r="1.4"/><circle cx="583.6" cy="1004.8" r="1.4"/><circle cx="579.5" cy="1009.6" r="1.4"/><circle cx="380.7" cy="1014.9" r="1.4"/><circle cx="554.8" cy="1001.7" r="1.4"/><circle cx="591.7" cy="999.6" r="1.4"/><circle cx="557.9" cy="997.6" r="1.4"/><circle cx="450.4" cy="982.4" r="1.4"/><circle cx="480.4" cy="892.3" r="1.4"/><circle cx="534.3" cy="992.5" r="1.4"/><circle cx="391.4" cy="1005.2" r="1.4"/><circle cx="523.5" cy="964.4" r="1.4"/><circle cx="485.3" cy="877.3" r="1.4"/><circle cx="529.5" cy="982.7" r="1.4"/><circle cx="388.5" cy="1002.7" r="1.4"/><circle cx="413.1" cy="990.4" r="1.4"/><circle cx="517.9" cy="945.3" r="1.4"/><circle cx="442.1" cy="985.9" r="1.4"/><circle cx="507.1" cy="913.3" r="1.4"/><circle cx="434.2" cy="988.5" r="1.4"/><circle cx="559.2" cy="1001.6" r="1.4"/><circle cx="396.1" cy="1004.0" r="1.4"/><circle cx="527.3" cy="977.2" r="1.4"/><circle cx="601.3" cy="1001.7" r="1.4"/><circle cx="381.7" cy="1009.0" r="1.4"/><circle cx="386.8" cy="1008.2" r="1.4"/><circle cx="430.8" cy="988.2" r="1.4"/><circle cx="626.5" cy="1004.7" r="1.4"/><circle cx="535.6" cy="989.7" r="1.4"/><circle cx="434.3" cy="986.6" r="1.4"/><circle cx="473.1" cy="911.5" r="1.4"/><circle cx="589.7" cy="1005.2" r="1.4"/><circle cx="594.8" cy="1001.1" r="1.4"/><circle cx="527.7" cy="975.3" r="1.4"/><circle cx="397.9" cy="999.1" r="1.4"/><circle cx="425.2" cy="993.9" r="1.4"/><circle cx="570.1" cy="1001.8" r="1.4"/><circle cx="496.5" cy="873.5" r="1.4"/><circle cx="493.7" cy="872.4" r="1.4"/><circle cx="413.1" cy="994.4" r="1.4"/><circle cx="601.5" cy="1006.2" r="1.4"/><circle cx="439.1" cy="988.4" r="1.4"/><circle cx="434.6" cy="990.7" r="1.4"/><circle cx="382.8" cy="999.4" r="1.4"/><circle cx="552.5" cy="1007.6" r="1.4"/><circle cx="497.0" cy="879.7" r="1.4"/><circle cx="449.5" cy="983.4" r="1.4"/><circle cx="562.3" cy="1004.0" r="1.4"/><circle cx="432.6" cy="989.6" r="1.4"/><circle cx="478.7" cy="897.6" r="1.4"/><circle cx="494.7" cy="877.2" r="1.4"/><circle cx="564.2" cy="1005.0" r="1.4"/><circle cx="549.0" cy="1003.0" r="1.4"/><circle cx="541.2" cy="997.4" r="1.4"/><circle cx="390.0" cy="1003.6" r="1.4"/><circle cx="479.2" cy="883.1" r="1.4"/><circle cx="508.1" cy="907.5" r="1.4"/><circle cx="397.1" cy="1005.1" r="1.4"/><circle cx="615.7" cy="1002.0" r="1.4"/><circle cx="435.9" cy="987.2" r="1.4"/><circle cx="439.8" cy="987.6" r="1.4"/><circle cx="452.2" cy="982.8" r="1.4"/><circle cx="420.2" cy="995.5" r="1.4"/><circle cx="478.2" cy="900.4" r="1.4"/><circle cx="401.7" cy="1002.6" r="1.4"/><circle cx="613.1" cy="1005.3" r="1.4"/><circle cx="378.2" cy="1002.7" r="1.4"/><circle cx="500.1" cy="880.6" r="1.4"/><circle cx="562.9" cy="1006.7" r="1.4"/><circle cx="453.4" cy="975.3" r="1.4"/><circle cx="403.3" cy="998.8" r="1.4"/><circle cx="396.9" cy="1003.7" r="1.4"/><circle cx="406.5" cy="997.0" r="1.4"/><circle cx="436.4" cy="984.4" r="1.4"/><circle cx="436.4" cy="989.6" r="1.4"/><circle cx="554.6" cy="1003.9" r="1.4"/><circle cx="469.9" cy="927.2" r="1.4"/><circle cx="482.5" cy="884.5" r="1.4"/><circle cx="606.6" cy="1000.2" r="1.4"/><circle cx="571.0" cy="998.9" r="1.4"/><circle cx="544.7" cy="1000.9" r="1.4"/><circle cx="563.1" cy="1003.2" r="1.4"/><circle cx="472.2" cy="922.0" r="1.4"/><circle cx="390.1" cy="1003.2" r="1.4"/><circle cx="446.9" cy="986.4" r="1.4"/><circle cx="572.1" cy="1005.0" r="1.4"/><circle cx="407.1" cy="999.5" r="1.4"/><circle cx="597.8" cy="1002.4" r="1.4"/><circle cx="484.7" cy="878.3" r="1.4"/></g><path d="M373.6,1005.4 L374.9,1005.4 L376.2,1005.4 L377.5,1005.4 L378.8,1005.3 L380.1,1005.3 L381.4,1005.2 L382.7,1005.2 L384.0,1005.1 L385.3,1005.0 L386.6,1004.9 L387.9,1004.8 L389.2,1004.7 L390.5,1004.6 L391.8,1004.4 L393.1,1004.2 L394.4,1004.0 L395.7,1003.8 L397.0,1003.5 L398.3,1003.2 L399.6,1002.9 L400.9,1002.5 L402.2,1002.1 L403.5,1001.7 L404.8,1001.3 L406.1,1000.8 L407.4,1000.3 L408.7,999.8 L410.0,999.2 L411.3,998.7 L412.6,998.1 L413.9,997.5 L415.2,996.9 L416.5,996.3 L417.7,995.7 L419.0,995.1 L420.3,994.5 L421.6,994.0 L422.9,993.4 L424.2,992.9 L425.5,992.4 L426.8,992.0 L428.1,991.6 L429.4,991.1 L430.7,990.8 L432.0,990.4 L433.3,990.0 L434.6,989.7 L435.9,989.3 L437.2,988.9 L438.5,988.5 L439.8,988.0 L441.1,987.4 L442.4,986.8 L443.7,986.1 L445.0,985.2 L446.3,984.2 L447.6,983.0 L448.9,981.7 L450.2,980.2 L451.5,978.4 L452.8,976.4 L454.1,974.2 L455.4,971.8 L456.7,969.1 L458.0,966.1 L459.3,962.9 L460.6,959.4 L461.9,955.7 L463.2,951.8 L464.5,947.7 L465.8,943.3 L467.1,938.8 L468.4,934.2 L469.7,929.5 L471.0,924.7 L472.3,919.8 L473.6,915.0 L474.9,910.3 L476.2,905.7 L477.5,901.2 L478.8,896.9 L480.1,892.9 L481.4,889.2 L482.7,885.8 L484.0,882.8 L485.3,880.2 L486.6,878.0 L487.9,876.3 L489.2,875.1 L490.5,874.4 L491.8,874.2 L493.1,874.6 L494.4,875.4 L495.7,876.8 L497.0,878.6 L498.3,880.9 L499.6,883.7 L500.9,886.8 L502.2,890.4 L503.4,894.2 L504.7,898.4 L506.0,902.8 L507.3,907.4 L508.6,912.2 L509.9,917.1 L511.2,922.1 L512.5,927.1 L513.8,932.1 L515.1,937.0 L516.4,941.9 L517.7,946.6 L519.0,951.2 L520.3,955.7 L521.6,959.9 L522.9,964.0 L524.2,967.8 L525.5,971.5 L526.8,974.8 L528.1,978.0 L529.4,980.9 L530.7,983.6 L532.0,986.1 L533.3,988.3 L534.6,990.4 L535.9,992.2 L537.2,993.9 L538.5,995.4 L539.8,996.7 L541.1,997.9 L542.4,998.9 L543.7,999.8 L545.0,1000.6 L546.3,1001.3 L547.6,1001.9 L548.9,1002.4 L550.2,1002.9 L551.5,1003.2 L552.8,1003.6 L554.1,1003.8 L555.4,1004.1 L556.7,1004.3 L558.0,1004.4 L559.3,1004.5 L560.6,1004.7 L561.9,1004.7 L563.2,1004.8 L564.5,1004.9 L565.8,1004.9 L567.1,1005.0 L568.4,1005.0 L569.7,1005.0 L571.0,1005.0 L572.3,1005.1 L573.6,1005.1 L574.9,1005.1 L576.2,1005.1 L577.5,1005.1 L578.8,1005.1 L580.1,1005.1 L581.4,1005.1 L582.7,1005.1 L584.0,1005.1 L585.3,1005.1 L586.6,1005.1 L587.9,1005.1 L589.2,1005.1 L590.4,1005.1 L591.7,1005.1 L593.0,1005.1 L594.3,1005.1 L595.6,1005.1 L596.9,1005.1 L598.2,1005.1 L599.5,1005.1 L600.8,1005.1 L602.1,1005.1 L603.4,1005.1 L604.7,1005.1 L606.0,1005.1 L607.3,1005.0 L608.6,1005.0 L609.9,1005.0 L611.2,1005.0 L612.5,1005.0 L613.8,1005.0 L615.1,1005.0 L616.4,1005.0 L617.7,1005.0 L619.0,1005.0 L620.3,1005.0 L621.6,1005.0 L622.9,1005.0 L624.2,1005.0 L625.5,1005.0 L626.8,1005.0 L628.1,1005.0 L629.4,1005.0 L630.7,1005.0 L632.0,1005.0 L633.3,1005.0" fill="none" stroke="#1f2a70" stroke-width="1.6"/><rect x="373.6" y="840.7" width="259.7" height="192.0" fill="none" stroke="#444" stroke-width="1.1"/><line x1="373.6" y1="1032.7" x2="373.6" y2="1035.7" stroke="#444" stroke-width="1"/><text x="373.6" y="1048.5" font-size="11.6" text-anchor="middle" fill="#111" font-weight="normal" textLength="18.3" lengthAdjust="spacingAndGlyphs">404</text><line x1="431.3" y1="1032.7" x2="431.3" y2="1035.7" stroke="#444" stroke-width="1"/><text x="431.3" y="1048.5" font-size="11.6" text-anchor="middle" fill="#111" font-weight="normal" textLength="18.3" lengthAdjust="spacingAndGlyphs">402</text><line x1="489.0" y1="1032.7" x2="489.0" y2="1035.7" stroke="#444" stroke-width="1"/><text x="489.0" y="1048.5" font-size="11.6" text-anchor="middle" fill="#111" font-weight="normal" textLength="18.3" lengthAdjust="spacingAndGlyphs">400</text><line x1="546.7" y1="1032.7" x2="546.7" y2="1035.7" stroke="#444" stroke-width="1"/><text x="546.7" y="1048.5" font-size="11.6" text-anchor="middle" fill="#111" font-weight="normal" textLength="18.3" lengthAdjust="spacingAndGlyphs">398</text><line x1="604.4" y1="1032.7" x2="604.4" y2="1035.7" stroke="#444" stroke-width="1"/><text x="604.4" y="1048.5" font-size="11.6" text-anchor="middle" fill="#111" font-weight="normal" textLength="18.3" lengthAdjust="spacingAndGlyphs">396</text><line x1="402.5" y1="1032.7" x2="402.5" y2="1034.7" stroke="#444" stroke-width="0.8"/><line x1="460.2" y1="1032.7" x2="460.2" y2="1034.7" stroke="#444" stroke-width="0.8"/><line x1="517.9" y1="1032.7" x2="517.9" y2="1034.7" stroke="#444" stroke-width="0.8"/><line x1="575.6" y1="1032.7" x2="575.6" y2="1034.7" stroke="#444" stroke-width="0.8"/><text x="412.1" y="1067.0" font-size="17" text-anchor="start" fill="#111" font-weight="normal" textLength="153.8" lengthAdjust="spacingAndGlyphs">Binding Energy (eV)</text><text transform="translate(359.9,991.2) rotate(-90)" font-size="16.3" fill="#111" textLength="102.7" lengthAdjust="spacingAndGlyphs">Intensity (a.u.)</text><text x="396.8" y="870.0" font-size="14.5" text-anchor="start" fill="#111" font-weight="normal" textLength="33.1" lengthAdjust="spacingAndGlyphs">N 1s</text><text transform="translate(495.9,959.0) rotate(-90)" font-size="12" text-anchor="start" fill="#111" font-weight="normal" textLength="38.5" lengthAdjust="spacingAndGlyphs">399.27</text><text transform="translate(436.3,989.2) rotate(-90)" font-size="12" text-anchor="start" fill="#111" font-weight="normal" textLength="37.0" lengthAdjust="spacingAndGlyphs">401.03</text><text x="658.4" y="841.4" font-size="23" fill="#111">H</text><path d="M717.7,994.9 L719.0,994.8 L720.4,994.7 L721.8,994.5 L723.2,994.2 L724.5,993.9 L725.9,993.6 L727.3,993.1 L728.6,992.6 L730.0,992.0 L731.4,991.2 L732.7,990.4 L734.1,989.4 L735.5,988.2 L736.8,986.8 L738.2,985.3 L739.6,983.6 L740.9,981.7 L742.3,979.5 L743.7,977.2 L745.0,974.6 L746.4,971.8 L747.8,968.8 L749.1,965.7 L750.5,962.4 L751.9,958.9 L753.2,955.4 L754.6,951.7 L756.0,948.1 L757.4,944.5 L758.7,940.9 L760.1,937.5 L761.5,934.2 L762.8,931.2 L764.2,928.5 L765.6,926.1 L766.9,924.1 L768.3,922.5 L769.7,921.3 L771.0,920.6 L772.4,920.4 L773.8,920.6 L775.1,921.3 L776.5,922.5 L777.9,924.2 L779.2,926.2 L780.6,928.6 L782.0,931.4 L783.3,934.4 L784.7,937.7 L786.1,941.1 L787.4,944.7 L788.8,948.3 L790.2,952.0 L791.6,955.6 L792.9,959.2 L794.3,962.7 L795.7,966.0 L797.0,969.2 L798.4,972.2 L799.8,975.0 L801.1,977.6 L802.5,979.9 L803.9,982.1 L805.2,984.0 L806.6,985.8 L808.0,987.3 L809.3,988.7 L810.7,989.9 L812.1,990.9 L813.4,991.8 L814.8,992.6 L816.2,993.2 L817.5,993.7 L818.9,994.2 L820.3,994.6 L821.6,994.9 L823.0,995.2 L824.4,995.4 L825.8,995.5 L827.1,995.7 L827.1,996.1 L825.8,996.1 L824.4,996.1 L823.0,996.1 L821.6,996.1 L820.3,996.1 L818.9,996.1 L817.5,996.1 L816.2,996.1 L814.8,996.0 L813.4,996.0 L812.1,996.0 L810.7,996.0 L809.3,996.0 L808.0,996.0 L806.6,996.0 L805.2,996.0 L803.9,996.0 L802.5,996.0 L801.1,995.9 L799.8,995.9 L798.4,995.9 L797.0,995.9 L795.7,995.9 L794.3,995.9 L792.9,995.9 L791.6,995.9 L790.2,995.9 L788.8,995.9 L787.4,995.9 L786.1,995.8 L784.7,995.8 L783.3,995.8 L782.0,995.8 L780.6,995.8 L779.2,995.8 L777.9,995.8 L776.5,995.8 L775.1,995.8 L773.8,995.8 L772.4,995.8 L771.0,995.7 L769.7,995.7 L768.3,995.7 L766.9,995.7 L765.6,995.7 L764.2,995.7 L762.8,995.7 L761.5,995.7 L760.1,995.7 L758.7,995.7 L757.4,995.7 L756.0,995.6 L754.6,995.6 L753.2,995.6 L751.9,995.6 L750.5,995.6 L749.1,995.6 L747.8,995.6 L746.4,995.6 L745.0,995.6 L743.7,995.6 L742.3,995.5 L740.9,995.5 L739.6,995.5 L738.2,995.5 L736.8,995.5 L735.5,995.5 L734.1,995.5 L732.7,995.5 L731.4,995.5 L730.0,995.5 L728.6,995.5 L727.3,995.4 L725.9,995.4 L724.5,995.4 L723.2,995.4 L721.8,995.4 L720.4,995.4 L719.0,995.4 L717.7,995.4Z" fill="#d9ecb8" fill-opacity="0.72" stroke="none"/><path d="M717.7,994.9 L719.0,994.8 L720.4,994.7 L721.8,994.5 L723.2,994.2 L724.5,993.9 L725.9,993.6 L727.3,993.1 L728.6,992.6 L730.0,992.0 L731.4,991.2 L732.7,990.4 L734.1,989.4 L735.5,988.2 L736.8,986.8 L738.2,985.3 L739.6,983.6 L740.9,981.7 L742.3,979.5 L743.7,977.2 L745.0,974.6 L746.4,971.8 L747.8,968.8 L749.1,965.7 L750.5,962.4 L751.9,958.9 L753.2,955.4 L754.6,951.7 L756.0,948.1 L757.4,944.5 L758.7,940.9 L760.1,937.5 L761.5,934.2 L762.8,931.2 L764.2,928.5 L765.6,926.1 L766.9,924.1 L768.3,922.5 L769.7,921.3 L771.0,920.6 L772.4,920.4 L773.8,920.6 L775.1,921.3 L776.5,922.5 L777.9,924.2 L779.2,926.2 L780.6,928.6 L782.0,931.4 L783.3,934.4 L784.7,937.7 L786.1,941.1 L787.4,944.7 L788.8,948.3 L790.2,952.0 L791.6,955.6 L792.9,959.2 L794.3,962.7 L795.7,966.0 L797.0,969.2 L798.4,972.2 L799.8,975.0 L801.1,977.6 L802.5,979.9 L803.9,982.1 L805.2,984.0 L806.6,985.8 L808.0,987.3 L809.3,988.7 L810.7,989.9 L812.1,990.9 L813.4,991.8 L814.8,992.6 L816.2,993.2 L817.5,993.7 L818.9,994.2 L820.3,994.6 L821.6,994.9 L823.0,995.2 L824.4,995.4 L825.8,995.5 L827.1,995.7" fill="none" stroke="#a0a0b4" stroke-width="0.7"/><path d="M795.0,995.2 L796.6,995.0 L798.3,994.8 L799.9,994.5 L801.6,994.1 L803.2,993.7 L804.9,993.1 L806.6,992.4 L808.2,991.6 L809.9,990.7 L811.5,989.5 L813.2,988.2 L814.8,986.6 L816.5,984.8 L818.1,982.8 L819.8,980.4 L821.5,977.8 L823.1,974.8 L824.8,971.6 L826.4,968.0 L828.1,964.0 L829.7,959.8 L831.4,955.2 L833.0,950.4 L834.7,945.3 L836.4,940.0 L838.0,934.5 L839.7,929.0 L841.3,923.4 L843.0,917.8 L844.6,912.4 L846.3,907.1 L848.0,902.2 L849.6,897.5 L851.3,893.4 L852.9,889.7 L854.6,886.6 L856.2,884.1 L857.9,882.3 L859.5,881.2 L861.2,880.9 L862.9,881.2 L864.5,882.4 L866.2,884.2 L867.8,886.7 L869.5,889.8 L871.1,893.5 L872.8,897.7 L874.4,902.3 L876.1,907.3 L877.8,912.6 L879.4,918.1 L881.1,923.6 L882.7,929.3 L884.4,934.8 L886.0,940.3 L887.7,945.6 L889.4,950.7 L891.0,955.6 L892.7,960.2 L894.3,964.5 L896.0,968.4 L897.6,972.1 L899.3,975.4 L900.9,978.3 L902.6,981.0 L904.3,983.4 L905.9,985.5 L907.6,987.3 L909.2,988.9 L910.9,990.2 L912.5,991.4 L914.2,992.4 L915.8,993.2 L917.5,993.9 L919.2,994.5 L920.8,994.9 L922.5,995.3 L924.1,995.7 L925.8,995.9 L927.4,996.1 L927.4,996.8 L925.8,996.8 L924.1,996.8 L922.5,996.8 L920.8,996.8 L919.2,996.8 L917.5,996.7 L915.8,996.7 L914.2,996.7 L912.5,996.7 L910.9,996.7 L909.2,996.7 L907.6,996.7 L905.9,996.7 L904.3,996.7 L902.6,996.6 L900.9,996.6 L899.3,996.6 L897.6,996.6 L896.0,996.6 L894.3,996.6 L892.7,996.6 L891.0,996.6 L889.4,996.6 L887.7,996.5 L886.0,996.5 L884.4,996.5 L882.7,996.5 L881.1,996.5 L879.4,996.5 L877.8,996.5 L876.1,996.5 L874.4,996.4 L872.8,996.4 L871.1,996.4 L869.5,996.4 L867.8,996.4 L866.2,996.4 L864.5,996.4 L862.9,996.4 L861.2,996.4 L859.5,996.3 L857.9,996.3 L856.2,996.3 L854.6,996.3 L852.9,996.3 L851.3,996.3 L849.6,996.3 L848.0,996.3 L846.3,996.3 L844.6,996.2 L843.0,996.2 L841.3,996.2 L839.7,996.2 L838.0,996.2 L836.4,996.2 L834.7,996.2 L833.0,996.2 L831.4,996.2 L829.7,996.1 L828.1,996.1 L826.4,996.1 L824.8,996.1 L823.1,996.1 L821.5,996.1 L819.8,996.1 L818.1,996.1 L816.5,996.1 L814.8,996.0 L813.2,996.0 L811.5,996.0 L809.9,996.0 L808.2,996.0 L806.6,996.0 L804.9,996.0 L803.2,996.0 L801.6,996.0 L799.9,995.9 L798.3,995.9 L796.6,995.9 L795.0,995.9Z" fill="#bcc3e6" fill-opacity="0.72" stroke="none"/><path d="M795.0,995.2 L796.6,995.0 L798.3,994.8 L799.9,994.5 L801.6,994.1 L803.2,993.7 L804.9,993.1 L806.6,992.4 L808.2,991.6 L809.9,990.7 L811.5,989.5 L813.2,988.2 L814.8,986.6 L816.5,984.8 L818.1,982.8 L819.8,980.4 L821.5,977.8 L823.1,974.8 L824.8,971.6 L826.4,968.0 L828.1,964.0 L829.7,959.8 L831.4,955.2 L833.0,950.4 L834.7,945.3 L836.4,940.0 L838.0,934.5 L839.7,929.0 L841.3,923.4 L843.0,917.8 L844.6,912.4 L846.3,907.1 L848.0,902.2 L849.6,897.5 L851.3,893.4 L852.9,889.7 L854.6,886.6 L856.2,884.1 L857.9,882.3 L859.5,881.2 L861.2,880.9 L862.9,881.2 L864.5,882.4 L866.2,884.2 L867.8,886.7 L869.5,889.8 L871.1,893.5 L872.8,897.7 L874.4,902.3 L876.1,907.3 L877.8,912.6 L879.4,918.1 L881.1,923.6 L882.7,929.3 L884.4,934.8 L886.0,940.3 L887.7,945.6 L889.4,950.7 L891.0,955.6 L892.7,960.2 L894.3,964.5 L896.0,968.4 L897.6,972.1 L899.3,975.4 L900.9,978.3 L902.6,981.0 L904.3,983.4 L905.9,985.5 L907.6,987.3 L909.2,988.9 L910.9,990.2 L912.5,991.4 L914.2,992.4 L915.8,993.2 L917.5,993.9 L919.2,994.5 L920.8,994.9 L922.5,995.3 L924.1,995.7 L925.8,995.9 L927.4,996.1" fill="none" stroke="#a0a0b4" stroke-width="0.7"/><path d="M691.3,995.2 L940.6,996.9" fill="none" stroke="#e8343a" stroke-width="1.2"/><g fill="none" stroke="#acacb8" stroke-width="0.7"><circle cx="806.5" cy="990.3" r="1.4"/><circle cx="692.9" cy="1005.0" r="1.4"/><circle cx="914.4" cy="982.8" r="1.4"/><circle cx="701.3" cy="991.0" r="1.4"/><circle cx="866.6" cy="883.3" r="1.4"/><circle cx="749.9" cy="957.0" r="1.4"/><circle cx="818.4" cy="970.1" r="1.4"/><circle cx="787.4" cy="935.7" r="1.4"/><circle cx="716.2" cy="988.8" r="1.4"/><circle cx="795.6" cy="956.0" r="1.4"/><circle cx="757.2" cy="939.8" r="1.4"/><circle cx="741.8" cy="993.0" r="1.4"/><circle cx="909.6" cy="983.0" r="1.4"/><circle cx="697.0" cy="999.9" r="1.4"/><circle cx="916.5" cy="989.9" r="1.4"/><circle cx="836.4" cy="939.4" r="1.4"/><circle cx="740.9" cy="986.7" r="1.4"/><circle cx="694.8" cy="998.6" r="1.4"/><circle cx="816.0" cy="975.8" r="1.4"/><circle cx="849.7" cy="897.6" r="1.4"/><circle cx="835.2" cy="926.9" r="1.4"/><circle cx="704.9" cy="983.1" r="1.4"/><circle cx="841.8" cy="915.9" r="1.4"/><circle cx="939.3" cy="1018.4" r="1.4"/><circle cx="868.1" cy="885.4" r="1.4"/><circle cx="701.8" cy="1003.8" r="1.4"/><circle cx="859.5" cy="880.8" r="1.4"/><circle cx="778.6" cy="920.2" r="1.4"/><circle cx="836.8" cy="920.3" r="1.4"/><circle cx="833.5" cy="956.6" r="1.4"/><circle cx="890.2" cy="948.9" r="1.4"/><circle cx="801.6" cy="978.1" r="1.4"/><circle cx="713.7" cy="1003.9" r="1.4"/><circle cx="698.2" cy="1001.6" r="1.4"/><circle cx="892.6" cy="957.7" r="1.4"/><circle cx="875.0" cy="898.4" r="1.4"/><circle cx="749.8" cy="959.8" r="1.4"/><circle cx="905.4" cy="988.1" r="1.4"/><circle cx="857.1" cy="884.5" r="1.4"/><circle cx="704.8" cy="989.7" r="1.4"/><circle cx="735.3" cy="997.6" r="1.4"/><circle cx="693.4" cy="993.4" r="1.4"/><circle cx="743.1" cy="962.9" r="1.4"/><circle cx="779.0" cy="914.1" r="1.4"/><circle cx="830.7" cy="961.6" r="1.4"/><circle cx="863.9" cy="886.3" r="1.4"/><circle cx="804.2" cy="979.2" r="1.4"/><circle cx="911.8" cy="983.5" r="1.4"/><circle cx="870.2" cy="895.2" r="1.4"/><circle cx="715.1" cy="988.5" r="1.4"/><circle cx="822.5" cy="970.8" r="1.4"/><circle cx="885.2" cy="936.4" r="1.4"/><circle cx="693.9" cy="985.6" r="1.4"/><circle cx="787.4" cy="947.6" r="1.4"/><circle cx="812.4" cy="966.7" r="1.4"/><circle cx="699.5" cy="990.6" r="1.4"/><circle cx="913.0" cy="982.0" r="1.4"/><circle cx="917.2" cy="991.8" r="1.4"/><circle cx="851.6" cy="888.2" r="1.4"/><circle cx="870.2" cy="902.8" r="1.4"/><circle cx="865.6" cy="872.6" r="1.4"/><circle cx="704.7" cy="994.9" r="1.4"/><circle cx="785.1" cy="937.2" r="1.4"/><circle cx="873.4" cy="910.7" r="1.4"/><circle cx="908.7" cy="980.3" r="1.4"/><circle cx="860.2" cy="874.5" r="1.4"/><circle cx="707.9" cy="990.8" r="1.4"/><circle cx="707.2" cy="991.5" r="1.4"/><circle cx="808.6" cy="994.3" r="1.4"/><circle cx="775.1" cy="921.9" r="1.4"/><circle cx="694.3" cy="978.1" r="1.4"/><circle cx="937.9" cy="985.4" r="1.4"/><circle cx="717.5" cy="995.3" r="1.4"/><circle cx="738.6" cy="995.1" r="1.4"/><circle cx="718.1" cy="1011.5" r="1.4"/><circle cx="784.6" cy="927.9" r="1.4"/><circle cx="807.9" cy="975.2" r="1.4"/><circle cx="749.7" cy="969.5" r="1.4"/><circle cx="819.8" cy="961.4" r="1.4"/><circle cx="696.0" cy="1000.5" r="1.4"/><circle cx="889.8" cy="953.7" r="1.4"/><circle cx="841.6" cy="933.1" r="1.4"/><circle cx="705.5" cy="990.4" r="1.4"/><circle cx="935.1" cy="1007.6" r="1.4"/><circle cx="917.0" cy="1003.5" r="1.4"/><circle cx="931.7" cy="984.5" r="1.4"/><circle cx="770.0" cy="913.4" r="1.4"/><circle cx="778.5" cy="918.1" r="1.4"/><circle cx="790.2" cy="951.0" r="1.4"/><circle cx="843.6" cy="922.8" r="1.4"/><circle cx="800.3" cy="969.5" r="1.4"/><circle cx="733.9" cy="992.1" r="1.4"/><circle cx="738.7" cy="982.1" r="1.4"/><circle cx="846.9" cy="900.2" r="1.4"/><circle cx="803.0" cy="978.2" r="1.4"/><circle cx="873.6" cy="886.1" r="1.4"/><circle cx="826.1" cy="975.3" r="1.4"/><circle cx="809.4" cy="983.5" r="1.4"/><circle cx="772.7" cy="916.2" r="1.4"/><circle cx="869.6" cy="889.7" r="1.4"/><circle cx="823.4" cy="986.5" r="1.4"/><circle cx="701.1" cy="995.3" r="1.4"/><circle cx="731.2" cy="1000.1" r="1.4"/><circle cx="852.9" cy="867.8" r="1.4"/><circle cx="912.8" cy="997.6" r="1.4"/><circle cx="780.3" cy="936.0" r="1.4"/><circle cx="771.0" cy="923.5" r="1.4"/><circle cx="907.9" cy="995.3" r="1.4"/><circle cx="694.0" cy="1002.1" r="1.4"/><circle cx="907.5" cy="986.8" r="1.4"/><circle cx="918.2" cy="992.4" r="1.4"/><circle cx="804.2" cy="982.4" r="1.4"/><circle cx="748.8" cy="964.6" r="1.4"/><circle cx="841.2" cy="916.6" r="1.4"/><circle cx="921.9" cy="999.1" r="1.4"/><circle cx="857.3" cy="892.4" r="1.4"/><circle cx="724.3" cy="978.3" r="1.4"/><circle cx="744.7" cy="969.0" r="1.4"/><circle cx="862.1" cy="894.9" r="1.4"/><circle cx="925.1" cy="973.4" r="1.4"/><circle cx="814.1" cy="984.6" r="1.4"/><circle cx="807.1" cy="974.8" r="1.4"/><circle cx="931.8" cy="1011.2" r="1.4"/><circle cx="712.2" cy="985.3" r="1.4"/><circle cx="913.3" cy="994.9" r="1.4"/><circle cx="824.6" cy="971.0" r="1.4"/><circle cx="826.2" cy="971.9" r="1.4"/><circle cx="706.1" cy="993.6" r="1.4"/><circle cx="835.6" cy="942.4" r="1.4"/><circle cx="723.2" cy="988.2" r="1.4"/><circle cx="700.1" cy="995.7" r="1.4"/><circle cx="930.9" cy="987.9" r="1.4"/><circle cx="733.7" cy="983.9" r="1.4"/><circle cx="857.7" cy="879.5" r="1.4"/><circle cx="836.8" cy="943.6" r="1.4"/><circle cx="729.0" cy="976.0" r="1.4"/><circle cx="930.5" cy="993.6" r="1.4"/><circle cx="737.1" cy="994.1" r="1.4"/><circle cx="849.0" cy="904.2" r="1.4"/><circle cx="754.8" cy="949.0" r="1.4"/><circle cx="927.7" cy="999.8" r="1.4"/><circle cx="706.0" cy="994.7" r="1.4"/><circle cx="769.7" cy="921.2" r="1.4"/><circle cx="806.4" cy="982.8" r="1.4"/><circle cx="768.1" cy="925.4" r="1.4"/><circle cx="924.4" cy="1003.7" r="1.4"/><circle cx="850.1" cy="901.9" r="1.4"/><circle cx="699.1" cy="989.7" r="1.4"/><circle cx="742.7" cy="989.6" r="1.4"/><circle cx="868.0" cy="888.1" r="1.4"/><circle cx="830.7" cy="966.7" r="1.4"/><circle cx="868.9" cy="891.0" r="1.4"/><circle cx="706.2" cy="980.7" r="1.4"/><circle cx="782.4" cy="929.8" r="1.4"/><circle cx="914.6" cy="977.0" r="1.4"/><circle cx="700.8" cy="992.8" r="1.4"/><circle cx="769.2" cy="917.6" r="1.4"/><circle cx="824.6" cy="983.3" r="1.4"/><circle cx="717.9" cy="998.5" r="1.4"/><circle cx="746.4" cy="960.3" r="1.4"/><circle cx="803.1" cy="985.6" r="1.4"/><circle cx="928.3" cy="993.2" r="1.4"/><circle cx="853.5" cy="884.3" r="1.4"/><circle cx="695.9" cy="988.4" r="1.4"/><circle cx="789.4" cy="963.7" r="1.4"/><circle cx="935.0" cy="992.8" r="1.4"/><circle cx="698.3" cy="997.8" r="1.4"/><circle cx="834.6" cy="942.8" r="1.4"/><circle cx="843.3" cy="912.1" r="1.4"/><circle cx="738.5" cy="1003.1" r="1.4"/><circle cx="823.0" cy="980.8" r="1.4"/><circle cx="912.5" cy="999.8" r="1.4"/><circle cx="809.5" cy="971.1" r="1.4"/><circle cx="851.6" cy="892.7" r="1.4"/><circle cx="861.6" cy="870.8" r="1.4"/><circle cx="849.5" cy="898.9" r="1.4"/><circle cx="713.3" cy="996.1" r="1.4"/><circle cx="709.8" cy="983.2" r="1.4"/><circle cx="837.9" cy="940.1" r="1.4"/><circle cx="865.2" cy="890.2" r="1.4"/><circle cx="925.7" cy="1000.6" r="1.4"/><circle cx="865.5" cy="883.9" r="1.4"/><circle cx="932.3" cy="995.9" r="1.4"/><circle cx="693.7" cy="990.0" r="1.4"/><circle cx="818.6" cy="967.2" r="1.4"/><circle cx="784.7" cy="933.9" r="1.4"/><circle cx="732.6" cy="988.0" r="1.4"/><circle cx="811.0" cy="977.1" r="1.4"/><circle cx="772.9" cy="934.4" r="1.4"/><circle cx="755.6" cy="939.9" r="1.4"/><circle cx="843.7" cy="923.2" r="1.4"/><circle cx="804.5" cy="981.6" r="1.4"/><circle cx="803.1" cy="982.1" r="1.4"/><circle cx="911.5" cy="1002.4" r="1.4"/><circle cx="711.7" cy="998.1" r="1.4"/><circle cx="811.0" cy="978.7" r="1.4"/><circle cx="705.1" cy="995.9" r="1.4"/><circle cx="917.2" cy="995.6" r="1.4"/><circle cx="881.3" cy="921.3" r="1.4"/><circle cx="747.3" cy="976.6" r="1.4"/><circle cx="934.5" cy="986.9" r="1.4"/><circle cx="793.4" cy="958.3" r="1.4"/><circle cx="757.9" cy="938.8" r="1.4"/><circle cx="938.1" cy="990.7" r="1.4"/><circle cx="736.2" cy="982.4" r="1.4"/><circle cx="816.1" cy="979.4" r="1.4"/><circle cx="892.6" cy="947.4" r="1.4"/><circle cx="724.5" cy="989.2" r="1.4"/><circle cx="892.6" cy="962.5" r="1.4"/><circle cx="712.2" cy="992.9" r="1.4"/><circle cx="806.7" cy="982.9" r="1.4"/><circle cx="915.1" cy="998.9" r="1.4"/><circle cx="846.9" cy="899.3" r="1.4"/><circle cx="707.5" cy="992.2" r="1.4"/><circle cx="757.2" cy="943.6" r="1.4"/><circle cx="749.6" cy="958.7" r="1.4"/><circle cx="914.1" cy="992.3" r="1.4"/><circle cx="916.6" cy="995.3" r="1.4"/><circle cx="869.8" cy="882.0" r="1.4"/><circle cx="794.5" cy="958.4" r="1.4"/><circle cx="851.8" cy="884.3" r="1.4"/><circle cx="783.8" cy="933.3" r="1.4"/><circle cx="833.0" cy="949.9" r="1.4"/><circle cx="887.3" cy="940.5" r="1.4"/><circle cx="877.4" cy="919.7" r="1.4"/><circle cx="759.6" cy="922.1" r="1.4"/><circle cx="774.5" cy="920.9" r="1.4"/><circle cx="693.3" cy="997.1" r="1.4"/><circle cx="692.8" cy="1000.7" r="1.4"/><circle cx="704.8" cy="985.3" r="1.4"/></g><path d="M691.3,995.2 L692.5,995.2 L693.8,995.2 L695.0,995.2 L696.3,995.2 L697.5,995.2 L698.8,995.2 L700.0,995.2 L701.3,995.3 L702.5,995.3 L703.8,995.3 L705.0,995.3 L706.3,995.3 L707.5,995.3 L708.8,995.2 L710.0,995.2 L711.2,995.2 L712.5,995.2 L713.7,995.1 L715.0,995.1 L716.2,995.0 L717.5,994.9 L718.7,994.8 L720.0,994.7 L721.2,994.5 L722.5,994.4 L723.7,994.1 L725.0,993.8 L726.2,993.5 L727.4,993.1 L728.7,992.6 L729.9,992.0 L731.2,991.3 L732.4,990.6 L733.7,989.7 L734.9,988.7 L736.2,987.5 L737.4,986.2 L738.7,984.7 L739.9,983.1 L741.2,981.3 L742.4,979.4 L743.7,977.2 L744.9,974.9 L746.1,972.4 L747.4,969.7 L748.6,966.9 L749.9,963.9 L751.1,960.8 L752.4,957.6 L753.6,954.4 L754.9,951.0 L756.1,947.7 L757.4,944.4 L758.6,941.2 L759.9,938.1 L761.1,935.1 L762.4,932.2 L763.6,929.6 L764.8,927.3 L766.1,925.3 L767.3,923.5 L768.6,922.2 L769.8,921.2 L771.1,920.6 L772.3,920.3 L773.6,920.5 L774.8,921.1 L776.1,922.1 L777.3,923.4 L778.6,925.1 L779.8,927.1 L781.0,929.4 L782.3,932.0 L783.5,934.7 L784.8,937.7 L786.0,940.8 L787.3,944.0 L788.5,947.3 L789.8,950.6 L791.0,953.8 L792.3,957.0 L793.5,960.2 L794.8,963.2 L796.0,966.0 L797.3,968.7 L798.5,971.2 L799.7,973.5 L801.0,975.6 L802.2,977.5 L803.5,979.1 L804.7,980.6 L806.0,981.7 L807.2,982.7 L808.5,983.3 L809.7,983.8 L811.0,984.0 L812.2,984.0 L813.5,983.7 L814.7,983.2 L816.0,982.5 L817.2,981.6 L818.4,980.4 L819.7,979.0 L820.9,977.3 L822.2,975.5 L823.4,973.4 L824.7,971.1 L825.9,968.5 L827.2,965.8 L828.4,962.8 L829.7,959.7 L830.9,956.3 L832.2,952.8 L833.4,949.2 L834.6,945.3 L835.9,941.4 L837.1,937.4 L838.4,933.2 L839.6,929.1 L840.9,924.9 L842.1,920.7 L843.4,916.5 L844.6,912.4 L845.9,908.5 L847.1,904.6 L848.4,901.0 L849.6,897.5 L850.9,894.4 L852.1,891.4 L853.3,888.8 L854.6,886.6 L855.8,884.6 L857.1,883.1 L858.3,881.9 L859.6,881.2 L860.8,880.9 L862.1,881.0 L863.3,881.5 L864.6,882.4 L865.8,883.7 L867.1,885.4 L868.3,887.5 L869.5,889.9 L870.8,892.7 L872.0,895.7 L873.3,899.0 L874.5,902.6 L875.8,906.3 L877.0,910.2 L878.3,914.3 L879.5,918.4 L880.8,922.6 L882.0,926.8 L883.3,931.1 L884.5,935.2 L885.8,939.4 L887.0,943.4 L888.2,947.4 L889.5,951.2 L890.7,954.8 L892.0,958.4 L893.2,961.7 L894.5,964.9 L895.7,967.9 L897.0,970.7 L898.2,973.3 L899.5,975.7 L900.7,977.9 L902.0,980.0 L903.2,981.9 L904.5,983.6 L905.7,985.2 L906.9,986.6 L908.2,987.9 L909.4,989.0 L910.7,990.1 L911.9,991.0 L913.2,991.8 L914.4,992.5 L915.7,993.1 L916.9,993.7 L918.2,994.1 L919.4,994.5 L920.7,994.9 L921.9,995.2 L923.1,995.5 L924.4,995.7 L925.6,995.9 L926.9,996.1 L928.1,996.2 L929.4,996.3 L930.6,996.4 L931.9,996.5 L933.1,996.6 L934.4,996.6 L935.6,996.7 L936.9,996.7 L938.1,996.8 L939.4,996.8 L940.6,996.8" fill="none" stroke="#1f2a70" stroke-width="1.6"/><rect x="691.3" y="840.7" width="249.3" height="192.0" fill="none" stroke="#444" stroke-width="1.1"/><line x1="691.3" y1="1032.7" x2="691.3" y2="1035.7" stroke="#444" stroke-width="1"/><text x="691.3" y="1048.5" font-size="11.6" text-anchor="middle" fill="#111" font-weight="normal" textLength="18.3" lengthAdjust="spacingAndGlyphs">354</text><line x1="741.2" y1="1032.7" x2="741.2" y2="1035.7" stroke="#444" stroke-width="1"/><text x="741.2" y="1048.5" font-size="11.6" text-anchor="middle" fill="#111" font-weight="normal" textLength="18.3" lengthAdjust="spacingAndGlyphs">352</text><line x1="791.0" y1="1032.7" x2="791.0" y2="1035.7" stroke="#444" stroke-width="1"/><text x="791.0" y="1048.5" font-size="11.6" text-anchor="middle" fill="#111" font-weight="normal" textLength="18.3" lengthAdjust="spacingAndGlyphs">350</text><line x1="840.9" y1="1032.7" x2="840.9" y2="1035.7" stroke="#444" stroke-width="1"/><text x="840.9" y="1048.5" font-size="11.6" text-anchor="middle" fill="#111" font-weight="normal" textLength="18.3" lengthAdjust="spacingAndGlyphs">348</text><line x1="890.7" y1="1032.7" x2="890.7" y2="1035.7" stroke="#444" stroke-width="1"/><text x="890.7" y="1048.5" font-size="11.6" text-anchor="middle" fill="#111" font-weight="normal" textLength="18.3" lengthAdjust="spacingAndGlyphs">346</text><line x1="940.6" y1="1032.7" x2="940.6" y2="1035.7" stroke="#444" stroke-width="1"/><text x="940.6" y="1048.5" font-size="11.6" text-anchor="middle" fill="#111" font-weight="normal" textLength="18.3" lengthAdjust="spacingAndGlyphs">344</text><line x1="716.2" y1="1032.7" x2="716.2" y2="1034.7" stroke="#444" stroke-width="0.8"/><line x1="766.1" y1="1032.7" x2="766.1" y2="1034.7" stroke="#444" stroke-width="0.8"/><line x1="816.0" y1="1032.7" x2="816.0" y2="1034.7" stroke="#444" stroke-width="0.8"/><line x1="865.8" y1="1032.7" x2="865.8" y2="1034.7" stroke="#444" stroke-width="0.8"/><line x1="915.7" y1="1032.7" x2="915.7" y2="1034.7" stroke="#444" stroke-width="0.8"/><text x="741.1" y="1067.0" font-size="17" text-anchor="start" fill="#111" font-weight="normal" textLength="152.8" lengthAdjust="spacingAndGlyphs">Binding Energy (eV)</text><text transform="translate(676.7,988.9) rotate(-90)" font-size="16.3" fill="#111" textLength="105.8" lengthAdjust="spacingAndGlyphs">Intensity (a.u.)</text><text x="706.1" y="870.0" font-size="14.5" text-anchor="start" fill="#111" font-weight="normal" textLength="42.1" lengthAdjust="spacingAndGlyphs">Ca 2p</text><text transform="translate(775.7,987.5) rotate(-90)" font-size="12" text-anchor="start" fill="#111" font-weight="normal" textLength="40.0" lengthAdjust="spacingAndGlyphs">350.13</text><text transform="translate(862.8,960.7) rotate(-90)" font-size="12" text-anchor="start" fill="#111" font-weight="normal" textLength="40.0" lengthAdjust="spacingAndGlyphs">346.59</text><text x="5.5" y="1095.2" font-size="23" fill="#111">I</text><path d="M71.0,1218.8 L71.6,1218.7 L72.2,1218.7 L72.8,1218.7 L73.4,1218.7 L74.0,1218.7 L74.6,1218.6 L75.2,1218.5 L75.8,1218.4 L76.4,1218.2 L77.0,1217.9 L77.6,1217.6 L78.2,1217.2 L78.8,1216.8 L79.4,1216.2 L80.0,1215.6 L80.6,1215.0 L81.2,1214.3 L81.8,1213.5 L82.4,1212.6 L83.0,1211.5 L83.6,1210.4 L84.2,1209.2 L84.8,1207.9 L85.4,1206.5 L86.0,1205.1 L86.6,1203.6 L87.2,1202.1 L87.8,1200.5 L88.4,1199.0 L89.0,1197.5 L89.6,1196.1 L90.2,1194.8 L90.8,1193.6 L91.4,1192.5 L92.0,1191.7 L92.6,1191.0 L93.2,1190.5 L93.8,1190.2 L94.4,1190.1 L95.0,1190.2 L95.6,1190.6 L96.2,1191.2 L96.8,1192.1 L97.4,1193.1 L98.0,1194.4 L98.6,1195.8 L99.2,1197.4 L99.8,1199.1 L100.4,1200.9 L101.0,1202.8 L101.6,1204.8 L102.2,1206.8 L102.8,1208.8 L103.4,1210.8 L104.0,1212.8 L104.6,1214.7 L105.2,1216.6 L105.8,1218.3 L106.4,1220.0 L107.0,1221.6 L107.6,1223.1 L108.2,1224.5 L108.8,1225.8 L109.4,1227.0 L110.0,1228.1 L110.6,1229.1 L111.2,1230.0 L111.8,1230.9 L112.4,1231.6 L113.0,1232.3 L113.6,1233.0 L114.2,1233.5 L114.8,1234.1 L115.4,1234.5 L116.0,1235.0 L116.6,1235.4 L117.2,1235.8 L117.8,1236.2 L118.4,1236.5 L119.0,1236.8 L119.0,1237.0 L118.4,1236.8 L117.8,1236.5 L117.2,1236.2 L116.6,1236.0 L116.0,1235.7 L115.4,1235.4 L114.8,1235.2 L114.2,1234.9 L113.6,1234.6 L113.0,1234.3 L112.4,1234.1 L111.8,1233.8 L111.2,1233.5 L110.6,1233.3 L110.0,1233.0 L109.4,1232.7 L108.8,1232.5 L108.2,1232.2 L107.6,1231.9 L107.0,1231.7 L106.4,1231.4 L105.8,1231.1 L105.2,1230.8 L104.6,1230.6 L104.0,1230.3 L103.4,1230.0 L102.8,1229.8 L102.2,1229.5 L101.6,1229.2 L101.0,1229.0 L100.4,1228.7 L99.8,1228.4 L99.2,1228.1 L98.6,1227.9 L98.0,1227.6 L97.4,1227.3 L96.8,1227.1 L96.2,1226.8 L95.6,1226.5 L95.0,1226.2 L94.4,1226.0 L93.8,1225.7 L93.2,1225.4 L92.6,1225.2 L92.0,1224.9 L91.4,1224.6 L90.8,1224.4 L90.2,1224.1 L89.6,1223.9 L89.0,1223.7 L88.4,1223.4 L87.8,1223.2 L87.2,1223.0 L86.6,1222.8 L86.0,1222.6 L85.4,1222.4 L84.8,1222.2 L84.2,1222.0 L83.6,1221.8 L83.0,1221.5 L82.4,1221.3 L81.8,1221.1 L81.2,1220.9 L80.6,1220.7 L80.0,1220.5 L79.4,1220.4 L78.8,1220.3 L78.2,1220.2 L77.6,1220.0 L77.0,1219.9 L76.4,1219.8 L75.8,1219.7 L75.2,1219.6 L74.6,1219.5 L74.0,1219.4 L73.4,1219.3 L72.8,1219.2 L72.2,1219.0 L71.6,1219.0 L71.0,1219.0Z" fill="#f8f4b4" fill-opacity="0.72" stroke="none"/><path d="M71.0,1218.8 L71.6,1218.7 L72.2,1218.7 L72.8,1218.7 L73.4,1218.7 L74.0,1218.7 L74.6,1218.6 L75.2,1218.5 L75.8,1218.4 L76.4,1218.2 L77.0,1217.9 L77.6,1217.6 L78.2,1217.2 L78.8,1216.8 L79.4,1216.2 L80.0,1215.6 L80.6,1215.0 L81.2,1214.3 L81.8,1213.5 L82.4,1212.6 L83.0,1211.5 L83.6,1210.4 L84.2,1209.2 L84.8,1207.9 L85.4,1206.5 L86.0,1205.1 L86.6,1203.6 L87.2,1202.1 L87.8,1200.5 L88.4,1199.0 L89.0,1197.5 L89.6,1196.1 L90.2,1194.8 L90.8,1193.6 L91.4,1192.5 L92.0,1191.7 L92.6,1191.0 L93.2,1190.5 L93.8,1190.2 L94.4,1190.1 L95.0,1190.2 L95.6,1190.6 L96.2,1191.2 L96.8,1192.1 L97.4,1193.1 L98.0,1194.4 L98.6,1195.8 L99.2,1197.4 L99.8,1199.1 L100.4,1200.9 L101.0,1202.8 L101.6,1204.8 L102.2,1206.8 L102.8,1208.8 L103.4,1210.8 L104.0,1212.8 L104.6,1214.7 L105.2,1216.6 L105.8,1218.3 L106.4,1220.0 L107.0,1221.6 L107.6,1223.1 L108.2,1224.5 L108.8,1225.8 L109.4,1227.0 L110.0,1228.1 L110.6,1229.1 L111.2,1230.0 L111.8,1230.9 L112.4,1231.6 L113.0,1232.3 L113.6,1233.0 L114.2,1233.5 L114.8,1234.1 L115.4,1234.5 L116.0,1235.0 L116.6,1235.4 L117.2,1235.8 L117.8,1236.2 L118.4,1236.5 L119.0,1236.8" fill="none" stroke="#a0a0b4" stroke-width="0.7"/><path d="M92.8,1225.0 L93.2,1225.1 L93.6,1225.2 L94.0,1225.2 L94.4,1225.2 L94.8,1225.2 L95.2,1225.2 L95.6,1225.1 L96.0,1224.9 L96.3,1224.7 L96.7,1224.5 L97.1,1224.1 L97.5,1223.6 L97.9,1223.1 L98.3,1222.5 L98.7,1221.7 L99.1,1220.8 L99.5,1219.8 L99.9,1218.7 L100.3,1217.4 L100.7,1216.0 L101.1,1214.5 L101.4,1212.8 L101.8,1211.1 L102.2,1209.2 L102.6,1207.3 L103.0,1205.3 L103.4,1203.2 L103.8,1201.2 L104.2,1199.2 L104.6,1197.2 L105.0,1195.2 L105.4,1193.4 L105.8,1191.8 L106.1,1190.3 L106.5,1189.0 L106.9,1187.9 L107.3,1187.1 L107.7,1186.6 L108.1,1186.3 L108.5,1186.3 L108.9,1186.6 L109.3,1187.3 L109.7,1188.2 L110.1,1189.3 L110.5,1190.7 L110.9,1192.4 L111.2,1194.2 L111.6,1196.3 L112.0,1198.4 L112.4,1200.7 L112.8,1203.0 L113.2,1205.4 L113.6,1207.8 L114.0,1210.2 L114.4,1212.6 L114.8,1214.9 L115.2,1217.1 L115.6,1219.2 L115.9,1221.2 L116.3,1223.1 L116.7,1224.8 L117.1,1226.4 L117.5,1227.9 L117.9,1229.3 L118.3,1230.5 L118.7,1231.6 L119.1,1232.6 L119.5,1233.5 L119.9,1234.3 L120.3,1235.0 L120.7,1235.6 L121.0,1236.1 L121.4,1236.6 L121.8,1237.0 L122.2,1237.4 L122.6,1237.7 L123.0,1238.0 L123.4,1238.3 L123.8,1238.5 L124.2,1238.7 L124.2,1239.0 L123.8,1238.9 L123.4,1238.7 L123.0,1238.6 L122.6,1238.4 L122.2,1238.3 L121.8,1238.2 L121.4,1238.0 L121.0,1237.9 L120.7,1237.7 L120.3,1237.6 L119.9,1237.4 L119.5,1237.3 L119.1,1237.1 L118.7,1236.9 L118.3,1236.7 L117.9,1236.6 L117.5,1236.4 L117.1,1236.2 L116.7,1236.0 L116.3,1235.9 L115.9,1235.7 L115.6,1235.5 L115.2,1235.3 L114.8,1235.1 L114.4,1235.0 L114.0,1234.8 L113.6,1234.6 L113.2,1234.4 L112.8,1234.3 L112.4,1234.1 L112.0,1233.9 L111.6,1233.7 L111.2,1233.6 L110.9,1233.4 L110.5,1233.2 L110.1,1233.0 L109.7,1232.9 L109.3,1232.7 L108.9,1232.5 L108.5,1232.3 L108.1,1232.1 L107.7,1232.0 L107.3,1231.8 L106.9,1231.6 L106.5,1231.4 L106.1,1231.3 L105.8,1231.1 L105.4,1230.9 L105.0,1230.7 L104.6,1230.6 L104.2,1230.4 L103.8,1230.2 L103.4,1230.0 L103.0,1229.9 L102.6,1229.7 L102.2,1229.5 L101.8,1229.3 L101.4,1229.1 L101.1,1229.0 L100.7,1228.8 L100.3,1228.6 L99.9,1228.4 L99.5,1228.3 L99.1,1228.1 L98.7,1227.9 L98.3,1227.7 L97.9,1227.6 L97.5,1227.4 L97.1,1227.2 L96.7,1227.0 L96.3,1226.9 L96.0,1226.7 L95.6,1226.5 L95.2,1226.3 L94.8,1226.2 L94.4,1226.0 L94.0,1225.8 L93.6,1225.6 L93.2,1225.4 L92.8,1225.3Z" fill="#d4eec0" fill-opacity="0.72" stroke="none"/><path d="M92.8,1225.0 L93.2,1225.1 L93.6,1225.2 L94.0,1225.2 L94.4,1225.2 L94.8,1225.2 L95.2,1225.2 L95.6,1225.1 L96.0,1224.9 L96.3,1224.7 L96.7,1224.5 L97.1,1224.1 L97.5,1223.6 L97.9,1223.1 L98.3,1222.5 L98.7,1221.7 L99.1,1220.8 L99.5,1219.8 L99.9,1218.7 L100.3,1217.4 L100.7,1216.0 L101.1,1214.5 L101.4,1212.8 L101.8,1211.1 L102.2,1209.2 L102.6,1207.3 L103.0,1205.3 L103.4,1203.2 L103.8,1201.2 L104.2,1199.2 L104.6,1197.2 L105.0,1195.2 L105.4,1193.4 L105.8,1191.8 L106.1,1190.3 L106.5,1189.0 L106.9,1187.9 L107.3,1187.1 L107.7,1186.6 L108.1,1186.3 L108.5,1186.3 L108.9,1186.6 L109.3,1187.3 L109.7,1188.2 L110.1,1189.3 L110.5,1190.7 L110.9,1192.4 L111.2,1194.2 L111.6,1196.3 L112.0,1198.4 L112.4,1200.7 L112.8,1203.0 L113.2,1205.4 L113.6,1207.8 L114.0,1210.2 L114.4,1212.6 L114.8,1214.9 L115.2,1217.1 L115.6,1219.2 L115.9,1221.2 L116.3,1223.1 L116.7,1224.8 L117.1,1226.4 L117.5,1227.9 L117.9,1229.3 L118.3,1230.5 L118.7,1231.6 L119.1,1232.6 L119.5,1233.5 L119.9,1234.3 L120.3,1235.0 L120.7,1235.6 L121.0,1236.1 L121.4,1236.6 L121.8,1237.0 L122.2,1237.4 L122.6,1237.7 L123.0,1238.0 L123.4,1238.3 L123.8,1238.5 L124.2,1238.7" fill="none" stroke="#a0a0b4" stroke-width="0.7"/><path d="M153.0,1241.5 L153.6,1241.5 L154.2,1241.5 L154.8,1241.5 L155.4,1241.4 L156.0,1241.4 L156.6,1241.3 L157.2,1241.2 L157.8,1241.1 L158.4,1241.0 L159.0,1240.8 L159.6,1240.6 L160.2,1240.3 L160.8,1240.0 L161.4,1239.7 L162.0,1239.3 L162.6,1238.8 L163.2,1238.3 L163.8,1237.7 L164.4,1237.1 L165.0,1236.4 L165.6,1235.7 L166.2,1234.9 L166.8,1234.0 L167.4,1233.1 L168.0,1232.2 L168.6,1231.2 L169.2,1230.2 L169.8,1229.2 L170.4,1228.3 L171.0,1227.3 L171.6,1226.4 L172.2,1225.5 L172.8,1224.7 L173.4,1224.0 L174.0,1223.3 L174.6,1222.8 L175.2,1222.4 L175.8,1222.1 L176.4,1221.9 L177.0,1221.8 L177.6,1221.9 L178.2,1222.2 L178.8,1222.5 L179.4,1223.0 L180.0,1223.6 L180.6,1224.3 L181.2,1225.1 L181.8,1226.0 L182.4,1226.9 L183.0,1227.9 L183.6,1228.9 L184.2,1230.0 L184.8,1231.0 L185.4,1232.1 L186.0,1233.1 L186.6,1234.1 L187.2,1235.0 L187.8,1235.9 L188.4,1236.8 L189.0,1237.6 L189.6,1238.4 L190.2,1239.0 L190.8,1239.7 L191.4,1240.2 L192.0,1240.8 L192.6,1241.2 L193.2,1241.6 L193.8,1242.0 L194.4,1242.3 L195.0,1242.6 L195.6,1242.8 L196.2,1243.0 L196.8,1243.2 L197.4,1243.4 L198.0,1243.5 L198.6,1243.6 L199.2,1243.7 L199.8,1243.8 L200.4,1243.9 L201.0,1243.9 L201.0,1244.1 L200.4,1244.0 L199.8,1244.0 L199.2,1244.0 L198.6,1243.9 L198.0,1243.9 L197.4,1243.9 L196.8,1243.8 L196.2,1243.8 L195.6,1243.8 L195.0,1243.8 L194.4,1243.7 L193.8,1243.7 L193.2,1243.7 L192.6,1243.6 L192.0,1243.6 L191.4,1243.6 L190.8,1243.5 L190.2,1243.5 L189.6,1243.5 L189.0,1243.5 L188.4,1243.4 L187.8,1243.4 L187.2,1243.4 L186.6,1243.3 L186.0,1243.3 L185.4,1243.3 L184.8,1243.2 L184.2,1243.2 L183.6,1243.2 L183.0,1243.2 L182.4,1243.1 L181.8,1243.1 L181.2,1243.1 L180.6,1243.0 L180.0,1243.0 L179.4,1243.0 L178.8,1242.9 L178.2,1242.9 L177.6,1242.9 L177.0,1242.8 L176.4,1242.8 L175.8,1242.8 L175.2,1242.8 L174.6,1242.7 L174.0,1242.7 L173.4,1242.7 L172.8,1242.6 L172.2,1242.6 L171.6,1242.6 L171.0,1242.5 L170.4,1242.5 L169.8,1242.5 L169.2,1242.5 L168.6,1242.4 L168.0,1242.4 L167.4,1242.4 L166.8,1242.3 L166.2,1242.3 L165.6,1242.3 L165.0,1242.2 L164.4,1242.2 L163.8,1242.2 L163.2,1242.2 L162.6,1242.1 L162.0,1242.1 L161.4,1242.1 L160.8,1242.0 L160.2,1242.0 L159.6,1242.0 L159.0,1242.0 L158.4,1241.9 L157.8,1241.9 L157.2,1241.9 L156.6,1241.8 L156.0,1241.8 L155.4,1241.8 L154.8,1241.7 L154.2,1241.7 L153.6,1241.7 L153.0,1241.7Z" fill="#eccfea" fill-opacity="0.72" stroke="none"/><path d="M153.0,1241.5 L153.6,1241.5 L154.2,1241.5 L154.8,1241.5 L155.4,1241.4 L156.0,1241.4 L156.6,1241.3 L157.2,1241.2 L157.8,1241.1 L158.4,1241.0 L159.0,1240.8 L159.6,1240.6 L160.2,1240.3 L160.8,1240.0 L161.4,1239.7 L162.0,1239.3 L162.6,1238.8 L163.2,1238.3 L163.8,1237.7 L164.4,1237.1 L165.0,1236.4 L165.6,1235.7 L166.2,1234.9 L166.8,1234.0 L167.4,1233.1 L168.0,1232.2 L168.6,1231.2 L169.2,1230.2 L169.8,1229.2 L170.4,1228.3 L171.0,1227.3 L171.6,1226.4 L172.2,1225.5 L172.8,1224.7 L173.4,1224.0 L174.0,1223.3 L174.6,1222.8 L175.2,1222.4 L175.8,1222.1 L176.4,1221.9 L177.0,1221.8 L177.6,1221.9 L178.2,1222.2 L178.8,1222.5 L179.4,1223.0 L180.0,1223.6 L180.6,1224.3 L181.2,1225.1 L181.8,1226.0 L182.4,1226.9 L183.0,1227.9 L183.6,1228.9 L184.2,1230.0 L184.8,1231.0 L185.4,1232.1 L186.0,1233.1 L186.6,1234.1 L187.2,1235.0 L187.8,1235.9 L188.4,1236.8 L189.0,1237.6 L189.6,1238.4 L190.2,1239.0 L190.8,1239.7 L191.4,1240.2 L192.0,1240.8 L192.6,1241.2 L193.2,1241.6 L193.8,1242.0 L194.4,1242.3 L195.0,1242.6 L195.6,1242.8 L196.2,1243.0 L196.8,1243.2 L197.4,1243.4 L198.0,1243.5 L198.6,1243.6 L199.2,1243.7 L199.8,1243.8 L200.4,1243.9 L201.0,1243.9" fill="none" stroke="#a0a0b4" stroke-width="0.7"/><path d="M164.8,1242.2 L165.7,1242.2 L166.6,1242.2 L167.4,1242.2 L168.3,1242.2 L169.2,1242.2 L170.1,1242.1 L171.0,1242.1 L171.8,1242.0 L172.7,1241.9 L173.6,1241.8 L174.5,1241.7 L175.4,1241.5 L176.2,1241.4 L177.1,1241.1 L178.0,1240.9 L178.9,1240.6 L179.8,1240.2 L180.6,1239.8 L181.5,1239.4 L182.4,1238.9 L183.3,1238.4 L184.2,1237.9 L185.0,1237.3 L185.9,1236.7 L186.8,1236.0 L187.7,1235.4 L188.6,1234.7 L189.4,1234.0 L190.3,1233.3 L191.2,1232.7 L192.1,1232.0 L193.0,1231.4 L193.8,1230.9 L194.7,1230.4 L195.6,1229.9 L196.5,1229.6 L197.4,1229.3 L198.2,1229.1 L199.1,1229.0 L200.0,1229.0 L200.9,1229.1 L201.8,1229.3 L202.6,1229.6 L203.5,1230.0 L204.4,1230.5 L205.3,1231.0 L206.2,1231.6 L207.0,1232.3 L207.9,1233.0 L208.8,1233.8 L209.7,1234.5 L210.6,1235.3 L211.4,1236.1 L212.3,1236.9 L213.2,1237.7 L214.1,1238.4 L215.0,1239.2 L215.8,1239.9 L216.7,1240.5 L217.6,1241.1 L218.5,1241.7 L219.4,1242.3 L220.2,1242.8 L221.1,1243.2 L222.0,1243.6 L222.9,1244.0 L223.8,1244.3 L224.6,1244.6 L225.5,1244.9 L226.4,1245.1 L227.3,1245.4 L228.2,1245.5 L229.0,1245.7 L229.9,1245.9 L230.8,1246.0 L231.7,1246.1 L232.6,1246.3 L233.4,1246.4 L234.3,1246.5 L235.2,1246.6 L235.2,1246.6 L234.3,1246.6 L233.4,1246.5 L232.6,1246.4 L231.7,1246.4 L230.8,1246.3 L229.9,1246.2 L229.0,1246.2 L228.2,1246.1 L227.3,1246.0 L226.4,1246.0 L225.5,1245.9 L224.6,1245.8 L223.8,1245.8 L222.9,1245.7 L222.0,1245.7 L221.1,1245.6 L220.2,1245.5 L219.4,1245.5 L218.5,1245.4 L217.6,1245.3 L216.7,1245.3 L215.8,1245.2 L215.0,1245.1 L214.1,1245.1 L213.2,1245.0 L212.3,1244.9 L211.4,1244.9 L210.6,1244.8 L209.7,1244.7 L208.8,1244.7 L207.9,1244.6 L207.0,1244.5 L206.2,1244.5 L205.3,1244.4 L204.4,1244.3 L203.5,1244.3 L202.6,1244.2 L201.8,1244.1 L200.9,1244.1 L200.0,1244.0 L199.1,1244.0 L198.2,1243.9 L197.4,1243.9 L196.5,1243.8 L195.6,1243.8 L194.7,1243.7 L193.8,1243.7 L193.0,1243.6 L192.1,1243.6 L191.2,1243.6 L190.3,1243.5 L189.4,1243.5 L188.6,1243.4 L187.7,1243.4 L186.8,1243.3 L185.9,1243.3 L185.0,1243.3 L184.2,1243.2 L183.3,1243.2 L182.4,1243.1 L181.5,1243.1 L180.6,1243.0 L179.8,1243.0 L178.9,1242.9 L178.0,1242.9 L177.1,1242.9 L176.2,1242.8 L175.4,1242.8 L174.5,1242.7 L173.6,1242.7 L172.7,1242.6 L171.8,1242.6 L171.0,1242.5 L170.1,1242.5 L169.2,1242.5 L168.3,1242.4 L167.4,1242.4 L166.6,1242.3 L165.7,1242.3 L164.8,1242.2Z" fill="#cfd2ee" fill-opacity="0.72" stroke="none"/><path d="M164.8,1242.2 L165.7,1242.2 L166.6,1242.2 L167.4,1242.2 L168.3,1242.2 L169.2,1242.2 L170.1,1242.1 L171.0,1242.1 L171.8,1242.0 L172.7,1241.9 L173.6,1241.8 L174.5,1241.7 L175.4,1241.5 L176.2,1241.4 L177.1,1241.1 L178.0,1240.9 L178.9,1240.6 L179.8,1240.2 L180.6,1239.8 L181.5,1239.4 L182.4,1238.9 L183.3,1238.4 L184.2,1237.9 L185.0,1237.3 L185.9,1236.7 L186.8,1236.0 L187.7,1235.4 L188.6,1234.7 L189.4,1234.0 L190.3,1233.3 L191.2,1232.7 L192.1,1232.0 L193.0,1231.4 L193.8,1230.9 L194.7,1230.4 L195.6,1229.9 L196.5,1229.6 L197.4,1229.3 L198.2,1229.1 L199.1,1229.0 L200.0,1229.0 L200.9,1229.1 L201.8,1229.3 L202.6,1229.6 L203.5,1230.0 L204.4,1230.5 L205.3,1231.0 L206.2,1231.6 L207.0,1232.3 L207.9,1233.0 L208.8,1233.8 L209.7,1234.5 L210.6,1235.3 L211.4,1236.1 L212.3,1236.9 L213.2,1237.7 L214.1,1238.4 L215.0,1239.2 L215.8,1239.9 L216.7,1240.5 L217.6,1241.1 L218.5,1241.7 L219.4,1242.3 L220.2,1242.8 L221.1,1243.2 L222.0,1243.6 L222.9,1244.0 L223.8,1244.3 L224.6,1244.6 L225.5,1244.9 L226.4,1245.1 L227.3,1245.4 L228.2,1245.5 L229.0,1245.7 L229.9,1245.9 L230.8,1246.0 L231.7,1246.1 L232.6,1246.3 L233.4,1246.4 L234.3,1246.5 L235.2,1246.6" fill="none" stroke="#a0a0b4" stroke-width="0.7"/><path d="M227.1,1245.5 L227.9,1245.5 L228.6,1245.3 L229.4,1245.2 L230.1,1245.0 L230.9,1244.7 L231.7,1244.3 L232.4,1243.9 L233.2,1243.4 L233.9,1242.8 L234.7,1242.0 L235.5,1241.1 L236.2,1240.0 L237.0,1238.8 L237.7,1237.4 L238.5,1235.8 L239.3,1234.0 L240.0,1231.9 L240.8,1229.7 L241.5,1227.3 L242.3,1224.6 L243.1,1221.7 L243.8,1218.6 L244.6,1215.2 L245.3,1211.7 L246.1,1208.1 L246.9,1204.3 L247.6,1200.5 L248.4,1196.7 L249.1,1192.8 L249.9,1189.1 L250.7,1185.5 L251.4,1182.1 L252.2,1179.0 L252.9,1176.3 L253.7,1174.0 L254.5,1172.1 L255.2,1170.6 L256.0,1169.6 L256.7,1169.2 L257.5,1169.2 L258.3,1169.8 L259.0,1170.9 L259.8,1172.4 L260.5,1174.5 L261.3,1177.0 L262.1,1179.9 L262.8,1183.3 L263.6,1186.9 L264.3,1190.8 L265.1,1194.9 L265.9,1199.1 L266.6,1203.4 L267.4,1207.7 L268.1,1212.0 L268.9,1216.2 L269.7,1220.3 L270.4,1224.3 L271.2,1228.1 L271.9,1231.6 L272.7,1235.0 L273.5,1238.1 L274.2,1241.0 L275.0,1243.6 L275.7,1246.0 L276.5,1248.2 L277.3,1250.2 L278.0,1252.0 L278.8,1253.5 L279.5,1255.0 L280.3,1256.2 L281.1,1257.3 L281.8,1258.3 L282.6,1259.1 L283.3,1259.8 L284.1,1260.4 L284.9,1260.9 L285.6,1261.3 L286.4,1261.7 L287.1,1262.1 L287.9,1262.4 L287.9,1262.9 L287.1,1262.7 L286.4,1262.5 L285.6,1262.4 L284.9,1262.2 L284.1,1262.0 L283.3,1261.8 L282.6,1261.6 L281.8,1261.4 L281.1,1261.1 L280.3,1260.8 L279.5,1260.5 L278.8,1260.2 L278.0,1259.9 L277.3,1259.6 L276.5,1259.3 L275.7,1259.0 L275.0,1258.7 L274.2,1258.4 L273.5,1258.1 L272.7,1257.8 L271.9,1257.5 L271.2,1257.1 L270.4,1256.8 L269.7,1256.4 L268.9,1256.1 L268.1,1255.8 L267.4,1255.4 L266.6,1255.1 L265.9,1254.7 L265.1,1254.4 L264.3,1254.1 L263.6,1253.7 L262.8,1253.4 L262.1,1253.0 L261.3,1252.7 L260.5,1252.4 L259.8,1252.1 L259.0,1251.8 L258.3,1251.5 L257.5,1251.2 L256.7,1250.9 L256.0,1250.6 L255.2,1250.3 L254.5,1250.0 L253.7,1249.7 L252.9,1249.4 L252.2,1249.1 L251.4,1248.9 L250.7,1248.8 L249.9,1248.7 L249.1,1248.5 L248.4,1248.4 L247.6,1248.3 L246.9,1248.1 L246.1,1248.0 L245.3,1247.9 L244.6,1247.8 L243.8,1247.6 L243.1,1247.5 L242.3,1247.4 L241.5,1247.3 L240.8,1247.1 L240.0,1247.0 L239.3,1246.9 L238.5,1246.9 L237.7,1246.8 L237.0,1246.8 L236.2,1246.7 L235.5,1246.7 L234.7,1246.6 L233.9,1246.5 L233.2,1246.5 L232.4,1246.4 L231.7,1246.4 L230.9,1246.3 L230.1,1246.3 L229.4,1246.2 L228.6,1246.1 L227.9,1246.1 L227.1,1246.0Z" fill="#f8bea4" fill-opacity="0.72" stroke="none"/><path d="M227.1,1245.5 L227.9,1245.5 L228.6,1245.3 L229.4,1245.2 L230.1,1245.0 L230.9,1244.7 L231.7,1244.3 L232.4,1243.9 L233.2,1243.4 L233.9,1242.8 L234.7,1242.0 L235.5,1241.1 L236.2,1240.0 L237.0,1238.8 L237.7,1237.4 L238.5,1235.8 L239.3,1234.0 L240.0,1231.9 L240.8,1229.7 L241.5,1227.3 L242.3,1224.6 L243.1,1221.7 L243.8,1218.6 L244.6,1215.2 L245.3,1211.7 L246.1,1208.1 L246.9,1204.3 L247.6,1200.5 L248.4,1196.7 L249.1,1192.8 L249.9,1189.1 L250.7,1185.5 L251.4,1182.1 L252.2,1179.0 L252.9,1176.3 L253.7,1174.0 L254.5,1172.1 L255.2,1170.6 L256.0,1169.6 L256.7,1169.2 L257.5,1169.2 L258.3,1169.8 L259.0,1170.9 L259.8,1172.4 L260.5,1174.5 L261.3,1177.0 L262.1,1179.9 L262.8,1183.3 L263.6,1186.9 L264.3,1190.8 L265.1,1194.9 L265.9,1199.1 L266.6,1203.4 L267.4,1207.7 L268.1,1212.0 L268.9,1216.2 L269.7,1220.3 L270.4,1224.3 L271.2,1228.1 L271.9,1231.6 L272.7,1235.0 L273.5,1238.1 L274.2,1241.0 L275.0,1243.6 L275.7,1246.0 L276.5,1248.2 L277.3,1250.2 L278.0,1252.0 L278.8,1253.5 L279.5,1255.0 L280.3,1256.2 L281.1,1257.3 L281.8,1258.3 L282.6,1259.1 L283.3,1259.8 L284.1,1260.4 L284.9,1260.9 L285.6,1261.3 L286.4,1261.7 L287.1,1262.1 L287.9,1262.4" fill="none" stroke="#a0a0b4" stroke-width="0.7"/><path d="M251.9,1248.4 L252.3,1248.4 L252.8,1248.4 L253.2,1248.3 L253.7,1248.2 L254.1,1248.0 L254.6,1247.7 L255.0,1247.3 L255.5,1246.8 L255.9,1246.2 L256.4,1245.4 L256.8,1244.5 L257.3,1243.4 L257.7,1242.1 L258.2,1240.5 L258.6,1238.8 L259.0,1236.8 L259.5,1234.5 L259.9,1232.0 L260.4,1229.2 L260.8,1226.1 L261.3,1222.8 L261.7,1219.2 L262.2,1215.4 L262.6,1211.4 L263.1,1207.2 L263.5,1202.9 L264.0,1198.6 L264.4,1194.2 L264.9,1189.8 L265.3,1185.5 L265.8,1181.4 L266.2,1177.5 L266.7,1173.9 L267.1,1170.6 L267.6,1167.8 L268.0,1165.4 L268.5,1163.6 L268.9,1162.3 L269.4,1161.6 L269.8,1161.5 L270.2,1162.0 L270.7,1163.1 L271.1,1164.8 L271.6,1167.1 L272.0,1169.8 L272.5,1173.0 L272.9,1176.7 L273.4,1180.6 L273.8,1184.9 L274.3,1189.4 L274.7,1194.1 L275.2,1198.8 L275.6,1203.6 L276.1,1208.4 L276.5,1213.1 L277.0,1217.6 L277.4,1222.0 L277.9,1226.2 L278.3,1230.1 L278.8,1233.8 L279.2,1237.2 L279.7,1240.4 L280.1,1243.3 L280.6,1245.9 L281.0,1248.2 L281.4,1250.4 L281.9,1252.2 L282.3,1253.9 L282.8,1255.2 L283.2,1256.5 L283.7,1257.5 L284.1,1258.4 L284.6,1259.2 L285.0,1259.9 L285.5,1260.4 L285.9,1260.9 L286.4,1261.4 L286.8,1261.7 L287.3,1262.0 L287.7,1262.3 L287.7,1262.9 L287.3,1262.8 L286.8,1262.6 L286.4,1262.5 L285.9,1262.4 L285.5,1262.3 L285.0,1262.2 L284.6,1262.1 L284.1,1262.0 L283.7,1261.9 L283.2,1261.8 L282.8,1261.7 L282.3,1261.6 L281.9,1261.5 L281.4,1261.3 L281.0,1261.1 L280.6,1260.9 L280.1,1260.7 L279.7,1260.6 L279.2,1260.4 L278.8,1260.2 L278.3,1260.0 L277.9,1259.8 L277.4,1259.7 L277.0,1259.5 L276.5,1259.3 L276.1,1259.1 L275.6,1258.9 L275.2,1258.8 L274.7,1258.6 L274.3,1258.4 L273.8,1258.2 L273.4,1258.1 L272.9,1257.9 L272.5,1257.7 L272.0,1257.5 L271.6,1257.3 L271.1,1257.1 L270.7,1256.9 L270.2,1256.7 L269.8,1256.5 L269.4,1256.3 L268.9,1256.1 L268.5,1255.9 L268.0,1255.7 L267.6,1255.5 L267.1,1255.3 L266.7,1255.1 L266.2,1254.9 L265.8,1254.7 L265.3,1254.5 L264.9,1254.3 L264.4,1254.1 L264.0,1253.9 L263.5,1253.7 L263.1,1253.5 L262.6,1253.3 L262.2,1253.1 L261.7,1252.9 L261.3,1252.7 L260.8,1252.5 L260.4,1252.4 L259.9,1252.2 L259.5,1252.0 L259.0,1251.8 L258.6,1251.6 L258.2,1251.5 L257.7,1251.3 L257.3,1251.1 L256.8,1250.9 L256.4,1250.7 L255.9,1250.6 L255.5,1250.4 L255.0,1250.2 L254.6,1250.0 L254.1,1249.8 L253.7,1249.7 L253.2,1249.5 L252.8,1249.3 L252.3,1249.1 L251.9,1249.0Z" fill="#a8dcc8" fill-opacity="0.72" stroke="none"/><path d="M251.9,1248.4 L252.3,1248.4 L252.8,1248.4 L253.2,1248.3 L253.7,1248.2 L254.1,1248.0 L254.6,1247.7 L255.0,1247.3 L255.5,1246.8 L255.9,1246.2 L256.4,1245.4 L256.8,1244.5 L257.3,1243.4 L257.7,1242.1 L258.2,1240.5 L258.6,1238.8 L259.0,1236.8 L259.5,1234.5 L259.9,1232.0 L260.4,1229.2 L260.8,1226.1 L261.3,1222.8 L261.7,1219.2 L262.2,1215.4 L262.6,1211.4 L263.1,1207.2 L263.5,1202.9 L264.0,1198.6 L264.4,1194.2 L264.9,1189.8 L265.3,1185.5 L265.8,1181.4 L266.2,1177.5 L266.7,1173.9 L267.1,1170.6 L267.6,1167.8 L268.0,1165.4 L268.5,1163.6 L268.9,1162.3 L269.4,1161.6 L269.8,1161.5 L270.2,1162.0 L270.7,1163.1 L271.1,1164.8 L271.6,1167.1 L272.0,1169.8 L272.5,1173.0 L272.9,1176.7 L273.4,1180.6 L273.8,1184.9 L274.3,1189.4 L274.7,1194.1 L275.2,1198.8 L275.6,1203.6 L276.1,1208.4 L276.5,1213.1 L277.0,1217.6 L277.4,1222.0 L277.9,1226.2 L278.3,1230.1 L278.8,1233.8 L279.2,1237.2 L279.7,1240.4 L280.1,1243.3 L280.6,1245.9 L281.0,1248.2 L281.4,1250.4 L281.9,1252.2 L282.3,1253.9 L282.8,1255.2 L283.2,1256.5 L283.7,1257.5 L284.1,1258.4 L284.6,1259.2 L285.0,1259.9 L285.5,1260.4 L285.9,1260.9 L286.4,1261.4 L286.8,1261.7 L287.3,1262.0 L287.7,1262.3" fill="none" stroke="#a0a0b4" stroke-width="0.7"/><path d="M46.9,1219.0 L72.0,1219.0 L80.0,1220.5 L90.0,1224.0 L100.0,1228.5 L110.0,1233.0 L120.0,1237.5 L127.0,1240.0 L140.0,1241.0 L160.0,1242.0 L200.0,1244.0 L240.0,1247.0 L252.0,1249.0 L262.0,1253.0 L272.0,1257.5 L282.0,1261.5 L290.0,1263.4 L307.6,1263.6" fill="none" stroke="#c8503a" stroke-width="1.2"/><g fill="none" stroke="#acacb8" stroke-width="0.7"><circle cx="189.7" cy="1231.6" r="1.4"/><circle cx="204.8" cy="1226.7" r="1.4"/><circle cx="108.7" cy="1176.7" r="1.4"/><circle cx="86.1" cy="1191.8" r="1.4"/><circle cx="86.0" cy="1197.1" r="1.4"/><circle cx="301.0" cy="1261.9" r="1.4"/><circle cx="240.1" cy="1216.0" r="1.4"/><circle cx="208.5" cy="1231.0" r="1.4"/><circle cx="108.9" cy="1185.1" r="1.4"/><circle cx="187.5" cy="1226.7" r="1.4"/><circle cx="207.6" cy="1224.2" r="1.4"/><circle cx="190.4" cy="1228.9" r="1.4"/><circle cx="307.6" cy="1265.5" r="1.4"/><circle cx="135.7" cy="1236.0" r="1.4"/><circle cx="124.1" cy="1236.1" r="1.4"/><circle cx="274.8" cy="1166.7" r="1.4"/><circle cx="291.4" cy="1264.4" r="1.4"/><circle cx="283.9" cy="1245.6" r="1.4"/><circle cx="299.0" cy="1267.1" r="1.4"/><circle cx="267.0" cy="1140.3" r="1.4"/><circle cx="84.1" cy="1204.6" r="1.4"/><circle cx="94.1" cy="1188.0" r="1.4"/><circle cx="87.7" cy="1194.2" r="1.4"/><circle cx="217.6" cy="1235.2" r="1.4"/><circle cx="110.0" cy="1184.7" r="1.4"/><circle cx="93.9" cy="1193.2" r="1.4"/><circle cx="111.7" cy="1191.9" r="1.4"/><circle cx="130.1" cy="1238.8" r="1.4"/><circle cx="111.7" cy="1188.3" r="1.4"/><circle cx="89.4" cy="1190.0" r="1.4"/><circle cx="111.7" cy="1186.4" r="1.4"/><circle cx="126.1" cy="1234.8" r="1.4"/><circle cx="85.4" cy="1197.9" r="1.4"/><circle cx="166.5" cy="1234.1" r="1.4"/><circle cx="290.8" cy="1256.1" r="1.4"/><circle cx="107.8" cy="1177.5" r="1.4"/><circle cx="284.3" cy="1243.9" r="1.4"/><circle cx="262.6" cy="1159.6" r="1.4"/><circle cx="111.2" cy="1185.5" r="1.4"/><circle cx="180.8" cy="1218.6" r="1.4"/><circle cx="73.6" cy="1217.7" r="1.4"/><circle cx="119.0" cy="1223.0" r="1.4"/><circle cx="226.4" cy="1245.2" r="1.4"/><circle cx="79.2" cy="1212.3" r="1.4"/><circle cx="218.4" cy="1235.2" r="1.4"/><circle cx="284.3" cy="1248.1" r="1.4"/><circle cx="58.6" cy="1217.3" r="1.4"/><circle cx="107.3" cy="1180.8" r="1.4"/><circle cx="220.6" cy="1235.4" r="1.4"/><circle cx="299.5" cy="1268.2" r="1.4"/><circle cx="247.9" cy="1179.1" r="1.4"/><circle cx="60.8" cy="1219.2" r="1.4"/><circle cx="251.4" cy="1176.4" r="1.4"/><circle cx="197.5" cy="1229.6" r="1.4"/><circle cx="139.4" cy="1244.5" r="1.4"/><circle cx="261.9" cy="1160.0" r="1.4"/><circle cx="261.5" cy="1160.0" r="1.4"/><circle cx="161.0" cy="1230.1" r="1.4"/><circle cx="283.4" cy="1231.8" r="1.4"/><circle cx="277.5" cy="1198.0" r="1.4"/><circle cx="232.8" cy="1235.0" r="1.4"/><circle cx="82.9" cy="1199.9" r="1.4"/><circle cx="305.5" cy="1262.2" r="1.4"/><circle cx="260.7" cy="1155.2" r="1.4"/><circle cx="187.5" cy="1230.9" r="1.4"/><circle cx="68.2" cy="1221.0" r="1.4"/><circle cx="196.2" cy="1227.8" r="1.4"/><circle cx="231.8" cy="1237.7" r="1.4"/><circle cx="117.2" cy="1215.3" r="1.4"/><circle cx="110.3" cy="1188.3" r="1.4"/><circle cx="283.6" cy="1234.8" r="1.4"/><circle cx="145.8" cy="1243.3" r="1.4"/><circle cx="110.4" cy="1185.1" r="1.4"/><circle cx="279.5" cy="1209.5" r="1.4"/><circle cx="223.3" cy="1244.2" r="1.4"/><circle cx="274.5" cy="1159.6" r="1.4"/><circle cx="254.6" cy="1165.8" r="1.4"/><circle cx="188.7" cy="1230.1" r="1.4"/><circle cx="112.1" cy="1183.4" r="1.4"/><circle cx="136.9" cy="1237.7" r="1.4"/><circle cx="299.9" cy="1263.6" r="1.4"/><circle cx="277.8" cy="1208.4" r="1.4"/><circle cx="253.0" cy="1165.3" r="1.4"/><circle cx="60.1" cy="1224.1" r="1.4"/><circle cx="189.3" cy="1229.8" r="1.4"/><circle cx="100.7" cy="1183.7" r="1.4"/><circle cx="234.1" cy="1232.7" r="1.4"/><circle cx="271.4" cy="1130.7" r="1.4"/><circle cx="245.5" cy="1182.3" r="1.4"/><circle cx="54.7" cy="1218.6" r="1.4"/><circle cx="254.0" cy="1164.1" r="1.4"/><circle cx="249.3" cy="1176.6" r="1.4"/><circle cx="231.5" cy="1236.8" r="1.4"/><circle cx="282.5" cy="1245.7" r="1.4"/><circle cx="287.5" cy="1260.2" r="1.4"/><circle cx="234.0" cy="1241.3" r="1.4"/><circle cx="168.2" cy="1231.9" r="1.4"/><circle cx="288.6" cy="1256.3" r="1.4"/><circle cx="238.8" cy="1217.1" r="1.4"/><circle cx="238.1" cy="1221.2" r="1.4"/><circle cx="113.0" cy="1195.3" r="1.4"/><circle cx="211.9" cy="1230.7" r="1.4"/><circle cx="140.2" cy="1242.7" r="1.4"/><circle cx="83.2" cy="1198.5" r="1.4"/><circle cx="215.6" cy="1234.4" r="1.4"/><circle cx="269.8" cy="1135.0" r="1.4"/><circle cx="269.0" cy="1130.2" r="1.4"/><circle cx="100.8" cy="1191.1" r="1.4"/><circle cx="207.1" cy="1231.7" r="1.4"/><circle cx="288.9" cy="1256.4" r="1.4"/><circle cx="288.6" cy="1262.0" r="1.4"/><circle cx="125.7" cy="1240.2" r="1.4"/><circle cx="236.9" cy="1231.7" r="1.4"/><circle cx="133.8" cy="1236.7" r="1.4"/><circle cx="275.6" cy="1169.8" r="1.4"/><circle cx="293.6" cy="1269.1" r="1.4"/><circle cx="220.9" cy="1236.2" r="1.4"/><circle cx="228.2" cy="1242.2" r="1.4"/><circle cx="294.0" cy="1257.7" r="1.4"/><circle cx="218.7" cy="1241.6" r="1.4"/><circle cx="246.8" cy="1175.3" r="1.4"/><circle cx="291.4" cy="1261.1" r="1.4"/><circle cx="120.3" cy="1228.3" r="1.4"/><circle cx="272.2" cy="1139.9" r="1.4"/><circle cx="195.3" cy="1230.9" r="1.4"/><circle cx="285.3" cy="1259.0" r="1.4"/><circle cx="266.6" cy="1138.6" r="1.4"/><circle cx="246.3" cy="1184.5" r="1.4"/><circle cx="161.8" cy="1240.8" r="1.4"/><circle cx="96.4" cy="1191.8" r="1.4"/><circle cx="116.8" cy="1209.8" r="1.4"/><circle cx="167.6" cy="1227.1" r="1.4"/><circle cx="208.9" cy="1232.0" r="1.4"/><circle cx="236.8" cy="1234.2" r="1.4"/><circle cx="275.9" cy="1178.8" r="1.4"/><circle cx="262.7" cy="1155.0" r="1.4"/><circle cx="282.5" cy="1235.7" r="1.4"/><circle cx="113.9" cy="1196.0" r="1.4"/><circle cx="280.0" cy="1224.6" r="1.4"/><circle cx="117.9" cy="1224.8" r="1.4"/><circle cx="273.1" cy="1151.6" r="1.4"/><circle cx="175.5" cy="1219.5" r="1.4"/><circle cx="59.3" cy="1215.4" r="1.4"/><circle cx="292.8" cy="1255.8" r="1.4"/><circle cx="204.6" cy="1223.1" r="1.4"/><circle cx="108.4" cy="1181.2" r="1.4"/><circle cx="89.3" cy="1187.8" r="1.4"/><circle cx="219.7" cy="1238.0" r="1.4"/><circle cx="108.1" cy="1186.4" r="1.4"/><circle cx="285.5" cy="1246.9" r="1.4"/><circle cx="79.0" cy="1204.8" r="1.4"/><circle cx="145.2" cy="1242.1" r="1.4"/><circle cx="206.2" cy="1228.4" r="1.4"/><circle cx="251.2" cy="1171.2" r="1.4"/><circle cx="108.2" cy="1180.2" r="1.4"/><circle cx="109.5" cy="1178.4" r="1.4"/><circle cx="204.8" cy="1233.5" r="1.4"/><circle cx="252.4" cy="1165.8" r="1.4"/><circle cx="234.0" cy="1232.7" r="1.4"/><circle cx="300.8" cy="1260.4" r="1.4"/><circle cx="119.4" cy="1218.3" r="1.4"/><circle cx="271.1" cy="1131.0" r="1.4"/><circle cx="282.8" cy="1231.2" r="1.4"/><circle cx="266.0" cy="1140.1" r="1.4"/><circle cx="256.2" cy="1160.0" r="1.4"/><circle cx="54.4" cy="1221.5" r="1.4"/><circle cx="237.1" cy="1230.3" r="1.4"/><circle cx="241.8" cy="1211.3" r="1.4"/><circle cx="241.0" cy="1206.6" r="1.4"/><circle cx="307.8" cy="1261.9" r="1.4"/><circle cx="251.1" cy="1172.2" r="1.4"/><circle cx="231.6" cy="1241.2" r="1.4"/><circle cx="118.1" cy="1219.6" r="1.4"/><circle cx="167.0" cy="1228.5" r="1.4"/><circle cx="118.2" cy="1209.7" r="1.4"/><circle cx="293.1" cy="1261.4" r="1.4"/><circle cx="305.8" cy="1263.1" r="1.4"/><circle cx="227.6" cy="1241.6" r="1.4"/><circle cx="75.0" cy="1218.0" r="1.4"/><circle cx="106.6" cy="1184.4" r="1.4"/><circle cx="229.5" cy="1245.6" r="1.4"/><circle cx="209.2" cy="1229.0" r="1.4"/><circle cx="164.2" cy="1229.8" r="1.4"/><circle cx="123.9" cy="1230.0" r="1.4"/><circle cx="125.9" cy="1237.8" r="1.4"/><circle cx="105.2" cy="1183.8" r="1.4"/><circle cx="172.1" cy="1223.8" r="1.4"/><circle cx="303.7" cy="1261.6" r="1.4"/><circle cx="81.7" cy="1201.8" r="1.4"/><circle cx="295.3" cy="1264.4" r="1.4"/><circle cx="209.1" cy="1229.1" r="1.4"/><circle cx="299.1" cy="1259.0" r="1.4"/><circle cx="227.9" cy="1240.4" r="1.4"/><circle cx="110.2" cy="1181.1" r="1.4"/><circle cx="208.5" cy="1225.7" r="1.4"/><circle cx="189.9" cy="1230.4" r="1.4"/><circle cx="223.3" cy="1242.2" r="1.4"/><circle cx="307.5" cy="1258.5" r="1.4"/><circle cx="259.8" cy="1164.2" r="1.4"/><circle cx="268.2" cy="1139.8" r="1.4"/><circle cx="162.2" cy="1233.3" r="1.4"/><circle cx="225.9" cy="1238.6" r="1.4"/><circle cx="264.4" cy="1152.5" r="1.4"/><circle cx="285.5" cy="1258.5" r="1.4"/><circle cx="72.0" cy="1216.7" r="1.4"/><circle cx="231.9" cy="1242.9" r="1.4"/><circle cx="211.8" cy="1237.4" r="1.4"/><circle cx="215.4" cy="1237.9" r="1.4"/><circle cx="167.0" cy="1229.6" r="1.4"/><circle cx="263.9" cy="1158.9" r="1.4"/><circle cx="80.4" cy="1206.7" r="1.4"/><circle cx="266.0" cy="1139.1" r="1.4"/><circle cx="182.2" cy="1223.4" r="1.4"/><circle cx="240.8" cy="1212.9" r="1.4"/><circle cx="144.0" cy="1240.5" r="1.4"/><circle cx="183.7" cy="1215.2" r="1.4"/><circle cx="88.1" cy="1196.3" r="1.4"/><circle cx="219.1" cy="1239.0" r="1.4"/><circle cx="245.9" cy="1183.9" r="1.4"/><circle cx="112.5" cy="1184.6" r="1.4"/><circle cx="82.7" cy="1200.7" r="1.4"/><circle cx="122.7" cy="1228.1" r="1.4"/><circle cx="162.7" cy="1234.6" r="1.4"/><circle cx="253.2" cy="1168.4" r="1.4"/><circle cx="286.0" cy="1253.8" r="1.4"/><circle cx="269.6" cy="1131.1" r="1.4"/><circle cx="137.5" cy="1247.2" r="1.4"/><circle cx="116.8" cy="1208.8" r="1.4"/><circle cx="164.4" cy="1229.6" r="1.4"/><circle cx="110.2" cy="1183.9" r="1.4"/><circle cx="269.4" cy="1135.7" r="1.4"/><circle cx="108.2" cy="1176.7" r="1.4"/><circle cx="279.4" cy="1221.3" r="1.4"/><circle cx="213.5" cy="1234.2" r="1.4"/><circle cx="292.9" cy="1263.0" r="1.4"/><circle cx="214.7" cy="1233.1" r="1.4"/><circle cx="82.8" cy="1199.8" r="1.4"/><circle cx="84.1" cy="1192.9" r="1.4"/><circle cx="102.9" cy="1183.9" r="1.4"/><circle cx="113.8" cy="1188.6" r="1.4"/><circle cx="208.4" cy="1227.1" r="1.4"/><circle cx="293.8" cy="1264.5" r="1.4"/><circle cx="200.8" cy="1227.4" r="1.4"/><circle cx="284.4" cy="1243.3" r="1.4"/><circle cx="272.9" cy="1148.3" r="1.4"/><circle cx="274.2" cy="1148.1" r="1.4"/><circle cx="290.9" cy="1256.7" r="1.4"/><circle cx="269.7" cy="1132.3" r="1.4"/><circle cx="180.5" cy="1220.9" r="1.4"/><circle cx="167.1" cy="1217.4" r="1.4"/><circle cx="111.0" cy="1181.5" r="1.4"/><circle cx="77.0" cy="1220.3" r="1.4"/><circle cx="93.7" cy="1190.2" r="1.4"/><circle cx="78.1" cy="1208.1" r="1.4"/><circle cx="224.7" cy="1243.3" r="1.4"/><circle cx="108.1" cy="1181.2" r="1.4"/><circle cx="115.9" cy="1199.6" r="1.4"/><circle cx="108.3" cy="1179.5" r="1.4"/><circle cx="107.6" cy="1179.2" r="1.4"/><circle cx="271.6" cy="1141.8" r="1.4"/></g><path d="M46.9,1219.0 L60.0,1219.5 L72.0,1219.0 L76.0,1215.0 L80.4,1207.3 L85.0,1199.0 L90.5,1192.3 L97.2,1189.0 L102.2,1186.6 L105.5,1183.0 L107.9,1181.2 L110.3,1183.0 L112.3,1187.2 L115.0,1200.0 L117.3,1214.0 L120.0,1226.0 L124.0,1235.8 L129.0,1240.9 L140.0,1241.8 L157.5,1241.5 L162.0,1237.0 L167.6,1229.0 L172.0,1224.0 L177.6,1220.7 L184.3,1224.0 L188.0,1228.5 L192.7,1230.8 L197.0,1230.0 L202.7,1229.0 L207.0,1230.0 L211.0,1232.5 L216.0,1237.0 L221.2,1240.9 L225.0,1243.5 L229.6,1244.2 L233.0,1240.0 L238.0,1227.5 L241.0,1210.0 L244.6,1190.6 L249.0,1175.0 L254.7,1165.5 L259.7,1160.4 L264.7,1155.4 L266.5,1145.0 L268.1,1135.3 L270.0,1134.0 L272.1,1140.3 L274.0,1160.0 L276.5,1187.2 L279.0,1212.0 L281.5,1230.8 L284.0,1247.0 L286.5,1257.6 L289.0,1262.0 L291.6,1263.6 L300.0,1263.8 L307.6,1263.6" fill="none" stroke="#1f2a70" stroke-width="2.0" stroke-linejoin="round"/><rect x="46.9" y="1099.4" width="260.7" height="186.7" fill="none" stroke="#444" stroke-width="1.1"/><line x1="46.9" y1="1286.1" x2="46.9" y2="1289.1" stroke="#444" stroke-width="1"/><text x="46.9" y="1302.9" font-size="12.2" text-anchor="middle" fill="#111" font-weight="normal" textLength="19.8" lengthAdjust="spacingAndGlyphs">960</text><line x1="87.1" y1="1286.1" x2="87.1" y2="1289.1" stroke="#444" stroke-width="1"/><text x="87.1" y="1302.9" font-size="12.2" text-anchor="middle" fill="#111" font-weight="normal" textLength="19.8" lengthAdjust="spacingAndGlyphs">955</text><line x1="127.4" y1="1286.1" x2="127.4" y2="1289.1" stroke="#444" stroke-width="1"/><text x="127.4" y="1302.9" font-size="12.2" text-anchor="middle" fill="#111" font-weight="normal" textLength="19.8" lengthAdjust="spacingAndGlyphs">950</text><line x1="167.6" y1="1286.1" x2="167.6" y2="1289.1" stroke="#444" stroke-width="1"/><text x="167.6" y="1302.9" font-size="12.2" text-anchor="middle" fill="#111" font-weight="normal" textLength="19.8" lengthAdjust="spacingAndGlyphs">945</text><line x1="207.8" y1="1286.1" x2="207.8" y2="1289.1" stroke="#444" stroke-width="1"/><text x="207.8" y="1302.9" font-size="12.2" text-anchor="middle" fill="#111" font-weight="normal" textLength="19.8" lengthAdjust="spacingAndGlyphs">940</text><line x1="248.1" y1="1286.1" x2="248.1" y2="1289.1" stroke="#444" stroke-width="1"/><text x="248.1" y="1302.9" font-size="12.2" text-anchor="middle" fill="#111" font-weight="normal" textLength="19.8" lengthAdjust="spacingAndGlyphs">935</text><line x1="288.3" y1="1286.1" x2="288.3" y2="1289.1" stroke="#444" stroke-width="1"/><text x="288.3" y="1302.9" font-size="12.2" text-anchor="middle" fill="#111" font-weight="normal" textLength="19.8" lengthAdjust="spacingAndGlyphs">930</text><line x1="67.0" y1="1286.1" x2="67.0" y2="1288.1" stroke="#444" stroke-width="0.8"/><line x1="107.2" y1="1286.1" x2="107.2" y2="1288.1" stroke="#444" stroke-width="0.8"/><line x1="147.5" y1="1286.1" x2="147.5" y2="1288.1" stroke="#444" stroke-width="0.8"/><line x1="187.7" y1="1286.1" x2="187.7" y2="1288.1" stroke="#444" stroke-width="0.8"/><line x1="227.9" y1="1286.1" x2="227.9" y2="1288.1" stroke="#444" stroke-width="0.8"/><line x1="268.2" y1="1286.1" x2="268.2" y2="1288.1" stroke="#444" stroke-width="0.8"/><text x="94.6" y="1320.3" font-size="17.5" text-anchor="start" fill="#111" font-weight="normal" textLength="152.6" lengthAdjust="spacingAndGlyphs">Binding Energy (eV)</text><text transform="translate(33.0,1243.1) rotate(-90)" font-size="16.3" fill="#111" textLength="91.4" lengthAdjust="spacingAndGlyphs">Intensity (a.u.)</text><text x="170.9" y="1211.9" font-size="12.3" text-anchor="start" fill="#111" font-weight="normal" textLength="20.1" lengthAdjust="spacingAndGlyphs">Sat.</text><rect x="53.8" y="1104.5" width="21.6" height="11.9" fill="#f9f7b4"/><text x="81.4" y="1116.1" font-size="11.8" fill="#111">Cu 2p<tspan font-size="7.1" dy="3">1/2</tspan><tspan dy="-3" font-size="11.8"> Cu</tspan><tspan font-size="7.1" dy="-5">2+</tspan></text><rect x="156.0" y="1104.5" width="21.5" height="11.9" fill="#f9c2aa"/><text x="183.2" y="1116.1" font-size="11.8" fill="#111">Cu 2p<tspan font-size="7.1" dy="3">3/2</tspan><tspan dy="-3" font-size="11.8"> Cu</tspan><tspan font-size="7.1" dy="-5">2+</tspan></text><rect x="53.8" y="1127.5" width="21.6" height="11.9" fill="#d8efc2"/><text x="81.4" y="1138.3" font-size="11.8" fill="#111">Cu 2p<tspan font-size="7.1" dy="3">1/2</tspan><tspan dy="-3" font-size="11.8"> Cu</tspan><tspan font-size="7.1" dy="-5">+</tspan></text><rect x="156.0" y="1127.5" width="21.5" height="11.9" fill="#b0e0d2"/><text x="183.2" y="1138.3" font-size="11.8" fill="#111">Cu 2p<tspan font-size="7.1" dy="3">3/2</tspan><tspan dy="-3" font-size="11.8"> Cu</tspan><tspan font-size="7.1" dy="-5">+</tspan></text><text x="338.0" y="1095.0" font-size="23" fill="#111">J</text><path d="M410.0,1217.2 L410.6,1217.2 L411.3,1217.3 L411.9,1217.3 L412.6,1217.4 L413.2,1217.4 L413.8,1217.4 L414.5,1217.3 L415.1,1217.3 L415.8,1217.2 L416.4,1217.1 L417.0,1216.9 L417.7,1216.8 L418.3,1216.5 L419.0,1216.2 L419.6,1215.9 L420.2,1215.5 L420.9,1215.0 L421.5,1214.5 L422.2,1214.0 L422.8,1213.4 L423.4,1212.7 L424.1,1211.9 L424.7,1211.1 L425.4,1210.3 L426.0,1209.4 L426.6,1208.5 L427.3,1207.6 L427.9,1206.6 L428.6,1205.7 L429.2,1204.8 L429.8,1203.9 L430.5,1203.1 L431.1,1202.4 L431.8,1201.7 L432.4,1201.1 L433.0,1200.7 L433.7,1200.3 L434.3,1200.1 L435.0,1200.0 L435.6,1200.1 L436.2,1200.3 L436.9,1200.6 L437.5,1201.1 L438.2,1201.7 L438.8,1202.4 L439.4,1203.3 L440.1,1204.2 L440.7,1205.3 L441.4,1206.5 L442.0,1207.7 L442.6,1208.9 L443.3,1210.2 L443.9,1211.4 L444.6,1212.7 L445.2,1214.0 L445.8,1215.2 L446.5,1216.4 L447.1,1217.5 L447.8,1218.6 L448.4,1219.6 L449.0,1220.5 L449.7,1221.4 L450.3,1222.3 L451.0,1223.0 L451.6,1223.8 L452.2,1224.4 L452.9,1225.0 L453.5,1225.6 L454.2,1226.1 L454.8,1226.6 L455.4,1227.2 L456.1,1227.6 L456.7,1228.1 L457.4,1228.5 L458.0,1228.9 L458.6,1229.3 L459.3,1229.7 L459.9,1230.0 L460.6,1230.4 L461.2,1230.7 L461.2,1230.8 L460.6,1230.5 L459.9,1230.2 L459.3,1230.0 L458.6,1229.7 L458.0,1229.4 L457.4,1229.1 L456.7,1228.8 L456.1,1228.5 L455.4,1228.2 L454.8,1227.9 L454.2,1227.6 L453.5,1227.3 L452.9,1227.1 L452.2,1226.9 L451.6,1226.7 L451.0,1226.5 L450.3,1226.3 L449.7,1226.1 L449.0,1225.9 L448.4,1225.7 L447.8,1225.5 L447.1,1225.3 L446.5,1225.1 L445.8,1224.9 L445.2,1224.7 L444.6,1224.5 L443.9,1224.3 L443.3,1224.1 L442.6,1223.8 L442.0,1223.6 L441.4,1223.4 L440.7,1223.2 L440.1,1223.0 L439.4,1222.9 L438.8,1222.8 L438.2,1222.6 L437.5,1222.5 L436.9,1222.4 L436.2,1222.2 L435.6,1222.1 L435.0,1222.0 L434.3,1221.8 L433.7,1221.7 L433.0,1221.6 L432.4,1221.4 L431.8,1221.3 L431.1,1221.2 L430.5,1221.0 L429.8,1220.9 L429.2,1220.8 L428.6,1220.7 L427.9,1220.5 L427.3,1220.4 L426.6,1220.3 L426.0,1220.1 L425.4,1220.0 L424.7,1219.9 L424.1,1219.7 L423.4,1219.6 L422.8,1219.5 L422.2,1219.3 L421.5,1219.2 L420.9,1219.1 L420.2,1219.0 L419.6,1218.9 L419.0,1218.8 L418.3,1218.6 L417.7,1218.5 L417.0,1218.4 L416.4,1218.3 L415.8,1218.2 L415.1,1218.1 L414.5,1218.0 L413.8,1217.9 L413.2,1217.8 L412.6,1217.7 L411.9,1217.6 L411.3,1217.5 L410.6,1217.4 L410.0,1217.3Z" fill="#b4e0cc" fill-opacity="0.72" stroke="none"/><path d="M410.0,1217.2 L410.6,1217.2 L411.3,1217.3 L411.9,1217.3 L412.6,1217.4 L413.2,1217.4 L413.8,1217.4 L414.5,1217.3 L415.1,1217.3 L415.8,1217.2 L416.4,1217.1 L417.0,1216.9 L417.7,1216.8 L418.3,1216.5 L419.0,1216.2 L419.6,1215.9 L420.2,1215.5 L420.9,1215.0 L421.5,1214.5 L422.2,1214.0 L422.8,1213.4 L423.4,1212.7 L424.1,1211.9 L424.7,1211.1 L425.4,1210.3 L426.0,1209.4 L426.6,1208.5 L427.3,1207.6 L427.9,1206.6 L428.6,1205.7 L429.2,1204.8 L429.8,1203.9 L430.5,1203.1 L431.1,1202.4 L431.8,1201.7 L432.4,1201.1 L433.0,1200.7 L433.7,1200.3 L434.3,1200.1 L435.0,1200.0 L435.6,1200.1 L436.2,1200.3 L436.9,1200.6 L437.5,1201.1 L438.2,1201.7 L438.8,1202.4 L439.4,1203.3 L440.1,1204.2 L440.7,1205.3 L441.4,1206.5 L442.0,1207.7 L442.6,1208.9 L443.3,1210.2 L443.9,1211.4 L444.6,1212.7 L445.2,1214.0 L445.8,1215.2 L446.5,1216.4 L447.1,1217.5 L447.8,1218.6 L448.4,1219.6 L449.0,1220.5 L449.7,1221.4 L450.3,1222.3 L451.0,1223.0 L451.6,1223.8 L452.2,1224.4 L452.9,1225.0 L453.5,1225.6 L454.2,1226.1 L454.8,1226.6 L455.4,1227.2 L456.1,1227.6 L456.7,1228.1 L457.4,1228.5 L458.0,1228.9 L458.6,1229.3 L459.3,1229.7 L459.9,1230.0 L460.6,1230.4 L461.2,1230.7" fill="none" stroke="#a0a0b4" stroke-width="0.7"/><path d="M436.3,1222.0 L436.7,1222.0 L437.0,1222.0 L437.4,1222.0 L437.7,1221.9 L438.1,1221.8 L438.5,1221.7 L438.8,1221.5 L439.2,1221.3 L439.5,1221.1 L439.9,1220.7 L440.3,1220.4 L440.6,1219.9 L441.0,1219.4 L441.3,1218.8 L441.7,1218.1 L442.1,1217.3 L442.4,1216.4 L442.8,1215.4 L443.1,1214.3 L443.5,1213.0 L443.9,1211.6 L444.2,1210.2 L444.6,1208.6 L444.9,1207.0 L445.3,1205.2 L445.7,1203.5 L446.0,1201.6 L446.4,1199.8 L446.7,1198.0 L447.1,1196.2 L447.5,1194.5 L447.8,1192.9 L448.2,1191.4 L448.5,1190.1 L448.9,1188.9 L449.3,1188.0 L449.6,1187.2 L450.0,1186.7 L450.3,1186.5 L450.7,1186.4 L451.1,1186.7 L451.4,1187.2 L451.8,1187.9 L452.1,1188.9 L452.5,1190.1 L452.9,1191.5 L453.2,1193.1 L453.6,1194.8 L453.9,1196.6 L454.3,1198.6 L454.7,1200.6 L455.0,1202.7 L455.4,1204.8 L455.7,1206.9 L456.1,1209.0 L456.5,1211.0 L456.8,1212.9 L457.2,1214.8 L457.5,1216.5 L457.9,1218.2 L458.3,1219.7 L458.6,1221.1 L459.0,1222.5 L459.3,1223.6 L459.7,1224.7 L460.1,1225.7 L460.4,1226.6 L460.8,1227.4 L461.1,1228.1 L461.5,1228.7 L461.9,1229.3 L462.2,1229.8 L462.6,1230.3 L462.9,1230.7 L463.3,1231.0 L463.7,1231.4 L464.0,1231.7 L464.4,1231.9 L464.7,1232.2 L465.1,1232.4 L465.1,1232.7 L464.7,1232.5 L464.4,1232.3 L464.0,1232.2 L463.7,1232.0 L463.3,1231.8 L462.9,1231.7 L462.6,1231.5 L462.2,1231.3 L461.9,1231.1 L461.5,1231.0 L461.1,1230.8 L460.8,1230.6 L460.4,1230.5 L460.1,1230.3 L459.7,1230.1 L459.3,1230.0 L459.0,1229.8 L458.6,1229.6 L458.3,1229.5 L457.9,1229.3 L457.5,1229.1 L457.2,1229.0 L456.8,1228.8 L456.5,1228.6 L456.1,1228.5 L455.7,1228.3 L455.4,1228.1 L455.0,1228.0 L454.7,1227.8 L454.3,1227.6 L453.9,1227.5 L453.6,1227.4 L453.2,1227.2 L452.9,1227.1 L452.5,1227.0 L452.1,1226.9 L451.8,1226.8 L451.4,1226.7 L451.1,1226.6 L450.7,1226.4 L450.3,1226.3 L450.0,1226.2 L449.6,1226.1 L449.3,1226.0 L448.9,1225.9 L448.5,1225.7 L448.2,1225.6 L447.8,1225.5 L447.5,1225.4 L447.1,1225.3 L446.7,1225.2 L446.4,1225.1 L446.0,1224.9 L445.7,1224.8 L445.3,1224.7 L444.9,1224.6 L444.6,1224.5 L444.2,1224.4 L443.9,1224.2 L443.5,1224.1 L443.1,1224.0 L442.8,1223.9 L442.4,1223.8 L442.1,1223.7 L441.7,1223.5 L441.3,1223.4 L441.0,1223.3 L440.6,1223.2 L440.3,1223.1 L439.9,1223.0 L439.5,1222.9 L439.2,1222.8 L438.8,1222.8 L438.5,1222.7 L438.1,1222.6 L437.7,1222.5 L437.4,1222.5 L437.0,1222.4 L436.7,1222.3 L436.3,1222.2Z" fill="#faf0a8" fill-opacity="0.72" stroke="none"/><path d="M436.3,1222.0 L436.7,1222.0 L437.0,1222.0 L437.4,1222.0 L437.7,1221.9 L438.1,1221.8 L438.5,1221.7 L438.8,1221.5 L439.2,1221.3 L439.5,1221.1 L439.9,1220.7 L440.3,1220.4 L440.6,1219.9 L441.0,1219.4 L441.3,1218.8 L441.7,1218.1 L442.1,1217.3 L442.4,1216.4 L442.8,1215.4 L443.1,1214.3 L443.5,1213.0 L443.9,1211.6 L444.2,1210.2 L444.6,1208.6 L444.9,1207.0 L445.3,1205.2 L445.7,1203.5 L446.0,1201.6 L446.4,1199.8 L446.7,1198.0 L447.1,1196.2 L447.5,1194.5 L447.8,1192.9 L448.2,1191.4 L448.5,1190.1 L448.9,1188.9 L449.3,1188.0 L449.6,1187.2 L450.0,1186.7 L450.3,1186.5 L450.7,1186.4 L451.1,1186.7 L451.4,1187.2 L451.8,1187.9 L452.1,1188.9 L452.5,1190.1 L452.9,1191.5 L453.2,1193.1 L453.6,1194.8 L453.9,1196.6 L454.3,1198.6 L454.7,1200.6 L455.0,1202.7 L455.4,1204.8 L455.7,1206.9 L456.1,1209.0 L456.5,1211.0 L456.8,1212.9 L457.2,1214.8 L457.5,1216.5 L457.9,1218.2 L458.3,1219.7 L458.6,1221.1 L459.0,1222.5 L459.3,1223.6 L459.7,1224.7 L460.1,1225.7 L460.4,1226.6 L460.8,1227.4 L461.1,1228.1 L461.5,1228.7 L461.9,1229.3 L462.2,1229.8 L462.6,1230.3 L462.9,1230.7 L463.3,1231.0 L463.7,1231.4 L464.0,1231.7 L464.4,1231.9 L464.7,1232.2 L465.1,1232.4" fill="none" stroke="#a0a0b4" stroke-width="0.7"/><path d="M438.4,1222.2 L439.0,1222.2 L439.6,1222.2 L440.2,1222.1 L440.8,1222.1 L441.4,1222.0 L442.0,1221.8 L442.6,1221.5 L443.2,1221.2 L443.8,1220.8 L444.4,1220.2 L445.0,1219.5 L445.6,1218.7 L446.2,1217.7 L446.8,1216.6 L447.4,1215.2 L448.0,1213.7 L448.6,1212.0 L449.2,1210.0 L449.8,1207.9 L450.4,1205.5 L451.0,1202.9 L451.6,1200.1 L452.2,1197.2 L452.8,1194.1 L453.4,1190.8 L454.0,1187.4 L454.6,1184.1 L455.2,1180.7 L455.8,1177.4 L456.4,1174.2 L457.0,1171.0 L457.6,1168.1 L458.2,1165.3 L458.8,1162.9 L459.4,1160.8 L460.0,1159.0 L460.6,1157.7 L461.2,1156.8 L461.8,1156.4 L462.4,1156.4 L463.0,1156.9 L463.6,1157.9 L464.2,1159.4 L464.8,1161.3 L465.4,1163.6 L466.0,1166.2 L466.6,1169.2 L467.2,1172.5 L467.8,1176.0 L468.4,1179.8 L469.0,1183.6 L469.6,1187.5 L470.2,1191.5 L470.8,1195.4 L471.4,1199.3 L472.0,1203.1 L472.6,1206.7 L473.2,1210.2 L473.8,1213.5 L474.4,1216.6 L475.0,1219.5 L475.6,1222.1 L476.2,1224.6 L476.8,1226.8 L477.4,1228.9 L478.0,1230.7 L478.6,1232.4 L479.2,1233.9 L479.8,1235.2 L480.4,1236.4 L481.0,1237.5 L481.6,1238.2 L482.2,1238.9 L482.8,1239.5 L483.4,1240.0 L484.0,1240.5 L484.6,1240.9 L485.2,1241.2 L485.8,1241.5 L486.4,1241.8 L486.4,1242.3 L485.8,1242.1 L485.2,1242.0 L484.6,1241.8 L484.0,1241.7 L483.4,1241.5 L482.8,1241.4 L482.2,1241.2 L481.6,1241.1 L481.0,1240.9 L480.4,1240.6 L479.8,1240.3 L479.2,1240.0 L478.6,1239.7 L478.0,1239.3 L477.4,1239.0 L476.8,1238.7 L476.2,1238.4 L475.6,1238.1 L475.0,1237.7 L474.4,1237.4 L473.8,1237.1 L473.2,1236.8 L472.6,1236.5 L472.0,1236.1 L471.4,1235.8 L470.8,1235.5 L470.2,1235.2 L469.6,1234.9 L469.0,1234.5 L468.4,1234.2 L467.8,1233.9 L467.2,1233.6 L466.6,1233.3 L466.0,1233.1 L465.4,1232.8 L464.8,1232.5 L464.2,1232.2 L463.6,1232.0 L463.0,1231.7 L462.4,1231.4 L461.8,1231.1 L461.2,1230.8 L460.6,1230.6 L460.0,1230.3 L459.4,1230.0 L458.8,1229.7 L458.2,1229.5 L457.6,1229.2 L457.0,1228.9 L456.4,1228.6 L455.8,1228.3 L455.2,1228.1 L454.6,1227.8 L454.0,1227.5 L453.4,1227.3 L452.8,1227.1 L452.2,1226.9 L451.6,1226.7 L451.0,1226.5 L450.4,1226.3 L449.8,1226.2 L449.2,1226.0 L448.6,1225.8 L448.0,1225.6 L447.4,1225.4 L446.8,1225.2 L446.2,1225.0 L445.6,1224.8 L445.0,1224.6 L444.4,1224.4 L443.8,1224.2 L443.2,1224.0 L442.6,1223.8 L442.0,1223.6 L441.4,1223.5 L440.8,1223.3 L440.2,1223.1 L439.6,1222.9 L439.0,1222.8 L438.4,1222.7Z" fill="#b0ddc6" fill-opacity="0.72" stroke="none"/><path d="M438.4,1222.2 L439.0,1222.2 L439.6,1222.2 L440.2,1222.1 L440.8,1222.1 L441.4,1222.0 L442.0,1221.8 L442.6,1221.5 L443.2,1221.2 L443.8,1220.8 L444.4,1220.2 L445.0,1219.5 L445.6,1218.7 L446.2,1217.7 L446.8,1216.6 L447.4,1215.2 L448.0,1213.7 L448.6,1212.0 L449.2,1210.0 L449.8,1207.9 L450.4,1205.5 L451.0,1202.9 L451.6,1200.1 L452.2,1197.2 L452.8,1194.1 L453.4,1190.8 L454.0,1187.4 L454.6,1184.1 L455.2,1180.7 L455.8,1177.4 L456.4,1174.2 L457.0,1171.0 L457.6,1168.1 L458.2,1165.3 L458.8,1162.9 L459.4,1160.8 L460.0,1159.0 L460.6,1157.7 L461.2,1156.8 L461.8,1156.4 L462.4,1156.4 L463.0,1156.9 L463.6,1157.9 L464.2,1159.4 L464.8,1161.3 L465.4,1163.6 L466.0,1166.2 L466.6,1169.2 L467.2,1172.5 L467.8,1176.0 L468.4,1179.8 L469.0,1183.6 L469.6,1187.5 L470.2,1191.5 L470.8,1195.4 L471.4,1199.3 L472.0,1203.1 L472.6,1206.7 L473.2,1210.2 L473.8,1213.5 L474.4,1216.6 L475.0,1219.5 L475.6,1222.1 L476.2,1224.6 L476.8,1226.8 L477.4,1228.9 L478.0,1230.7 L478.6,1232.4 L479.2,1233.9 L479.8,1235.2 L480.4,1236.4 L481.0,1237.5 L481.6,1238.2 L482.2,1238.9 L482.8,1239.5 L483.4,1240.0 L484.0,1240.5 L484.6,1240.9 L485.2,1241.2 L485.8,1241.5 L486.4,1241.8" fill="none" stroke="#a0a0b4" stroke-width="0.7"/><path d="M456.7,1228.4 L457.2,1228.5 L457.7,1228.6 L458.3,1228.7 L458.8,1228.7 L459.3,1228.7 L459.8,1228.6 L460.3,1228.5 L460.9,1228.2 L461.4,1227.9 L461.9,1227.5 L462.4,1227.0 L462.9,1226.4 L463.5,1225.6 L464.0,1224.7 L464.5,1223.6 L465.0,1222.3 L465.5,1220.9 L466.1,1219.3 L466.6,1217.5 L467.1,1215.5 L467.6,1213.3 L468.1,1211.0 L468.7,1208.6 L469.2,1206.0 L469.7,1203.3 L470.2,1200.5 L470.7,1197.6 L471.3,1194.7 L471.8,1191.9 L472.3,1189.1 L472.8,1186.4 L473.3,1183.9 L473.9,1181.6 L474.4,1179.5 L474.9,1177.7 L475.4,1176.2 L475.9,1175.1 L476.5,1174.4 L477.0,1174.0 L477.5,1174.1 L478.0,1174.6 L478.5,1175.5 L479.1,1176.8 L479.6,1178.4 L480.1,1180.5 L480.6,1182.8 L481.1,1185.4 L481.7,1188.1 L482.2,1191.1 L482.7,1194.1 L483.2,1197.3 L483.7,1200.6 L484.3,1203.9 L484.8,1207.1 L485.3,1210.4 L485.8,1213.5 L486.3,1216.5 L486.9,1219.3 L487.4,1222.0 L487.9,1224.6 L488.4,1226.9 L488.9,1229.1 L489.5,1231.1 L490.0,1232.9 L490.5,1234.5 L491.0,1235.9 L491.5,1237.2 L492.1,1238.4 L492.6,1239.4 L493.1,1240.3 L493.6,1241.1 L494.1,1241.7 L494.7,1242.3 L495.2,1242.8 L495.7,1243.3 L496.2,1243.7 L496.7,1244.0 L497.3,1244.3 L497.8,1244.6 L498.3,1244.8 L498.3,1245.2 L497.8,1245.1 L497.3,1245.0 L496.7,1244.8 L496.2,1244.7 L495.7,1244.6 L495.2,1244.5 L494.7,1244.3 L494.1,1244.2 L493.6,1244.1 L493.1,1243.9 L492.6,1243.8 L492.1,1243.7 L491.5,1243.5 L491.0,1243.4 L490.5,1243.3 L490.0,1243.2 L489.5,1243.0 L488.9,1242.9 L488.4,1242.8 L487.9,1242.6 L487.4,1242.5 L486.9,1242.4 L486.3,1242.3 L485.8,1242.1 L485.3,1242.0 L484.8,1241.9 L484.3,1241.7 L483.7,1241.6 L483.2,1241.5 L482.7,1241.3 L482.2,1241.2 L481.7,1241.1 L481.1,1241.0 L480.6,1240.8 L480.1,1240.5 L479.6,1240.2 L479.1,1239.9 L478.5,1239.6 L478.0,1239.4 L477.5,1239.1 L477.0,1238.8 L476.5,1238.5 L475.9,1238.2 L475.4,1238.0 L474.9,1237.7 L474.4,1237.4 L473.9,1237.1 L473.3,1236.9 L472.8,1236.6 L472.3,1236.3 L471.8,1236.0 L471.3,1235.7 L470.7,1235.5 L470.2,1235.2 L469.7,1234.9 L469.2,1234.6 L468.7,1234.4 L468.1,1234.1 L467.6,1233.8 L467.1,1233.6 L466.6,1233.3 L466.1,1233.1 L465.5,1232.9 L465.0,1232.6 L464.5,1232.4 L464.0,1232.1 L463.5,1231.9 L462.9,1231.7 L462.4,1231.4 L461.9,1231.2 L461.4,1230.9 L460.9,1230.7 L460.3,1230.4 L459.8,1230.2 L459.3,1230.0 L458.8,1229.7 L458.3,1229.5 L457.7,1229.2 L457.2,1229.0 L456.7,1228.8Z" fill="#b0ddc6" fill-opacity="0.72" stroke="none"/><path d="M456.7,1228.4 L457.2,1228.5 L457.7,1228.6 L458.3,1228.7 L458.8,1228.7 L459.3,1228.7 L459.8,1228.6 L460.3,1228.5 L460.9,1228.2 L461.4,1227.9 L461.9,1227.5 L462.4,1227.0 L462.9,1226.4 L463.5,1225.6 L464.0,1224.7 L464.5,1223.6 L465.0,1222.3 L465.5,1220.9 L466.1,1219.3 L466.6,1217.5 L467.1,1215.5 L467.6,1213.3 L468.1,1211.0 L468.7,1208.6 L469.2,1206.0 L469.7,1203.3 L470.2,1200.5 L470.7,1197.6 L471.3,1194.7 L471.8,1191.9 L472.3,1189.1 L472.8,1186.4 L473.3,1183.9 L473.9,1181.6 L474.4,1179.5 L474.9,1177.7 L475.4,1176.2 L475.9,1175.1 L476.5,1174.4 L477.0,1174.0 L477.5,1174.1 L478.0,1174.6 L478.5,1175.5 L479.1,1176.8 L479.6,1178.4 L480.1,1180.5 L480.6,1182.8 L481.1,1185.4 L481.7,1188.1 L482.2,1191.1 L482.7,1194.1 L483.2,1197.3 L483.7,1200.6 L484.3,1203.9 L484.8,1207.1 L485.3,1210.4 L485.8,1213.5 L486.3,1216.5 L486.9,1219.3 L487.4,1222.0 L487.9,1224.6 L488.4,1226.9 L488.9,1229.1 L489.5,1231.1 L490.0,1232.9 L490.5,1234.5 L491.0,1235.9 L491.5,1237.2 L492.1,1238.4 L492.6,1239.4 L493.1,1240.3 L493.6,1241.1 L494.1,1241.7 L494.7,1242.3 L495.2,1242.8 L495.7,1243.3 L496.2,1243.7 L496.7,1244.0 L497.3,1244.3 L497.8,1244.6 L498.3,1244.8" fill="none" stroke="#a0a0b4" stroke-width="0.7"/><path d="M541.9,1248.1 L542.3,1248.0 L542.6,1247.9 L543.0,1247.7 L543.3,1247.6 L543.7,1247.4 L544.1,1247.1 L544.4,1246.8 L544.8,1246.4 L545.1,1245.9 L545.5,1245.3 L545.9,1244.7 L546.2,1243.9 L546.6,1243.0 L546.9,1241.9 L547.3,1240.8 L547.7,1239.4 L548.0,1237.9 L548.4,1236.3 L548.7,1234.5 L549.1,1232.5 L549.5,1230.3 L549.8,1228.0 L550.2,1225.5 L550.5,1222.9 L550.9,1220.3 L551.3,1217.5 L551.6,1214.7 L552.0,1211.8 L552.3,1209.0 L552.7,1206.2 L553.1,1203.6 L553.4,1201.1 L553.8,1198.7 L554.1,1196.6 L554.5,1194.7 L554.9,1193.2 L555.2,1192.0 L555.6,1191.1 L555.9,1190.6 L556.3,1190.5 L556.7,1190.7 L557.0,1191.3 L557.4,1192.3 L557.7,1193.6 L558.1,1195.3 L558.5,1197.2 L558.8,1199.4 L559.2,1201.8 L559.5,1204.4 L559.9,1207.2 L560.3,1210.0 L560.6,1212.9 L561.0,1215.8 L561.3,1218.7 L561.7,1221.6 L562.1,1224.3 L562.4,1227.0 L562.8,1229.5 L563.1,1231.9 L563.5,1234.2 L563.9,1236.2 L564.2,1238.1 L564.6,1239.9 L564.9,1241.4 L565.3,1242.8 L565.7,1244.1 L566.0,1245.2 L566.4,1246.2 L566.7,1247.1 L567.1,1247.8 L567.5,1248.4 L567.8,1249.0 L568.2,1249.5 L568.5,1249.9 L568.9,1250.2 L569.3,1250.5 L569.6,1250.8 L570.0,1251.0 L570.3,1251.1 L570.7,1251.3 L570.7,1251.7 L570.3,1251.6 L570.0,1251.5 L569.6,1251.5 L569.3,1251.4 L568.9,1251.4 L568.5,1251.3 L568.2,1251.3 L567.8,1251.2 L567.5,1251.2 L567.1,1251.1 L566.7,1251.1 L566.4,1251.0 L566.0,1250.9 L565.7,1250.9 L565.3,1250.8 L564.9,1250.8 L564.6,1250.7 L564.2,1250.7 L563.9,1250.6 L563.5,1250.6 L563.1,1250.5 L562.8,1250.4 L562.4,1250.4 L562.1,1250.3 L561.7,1250.3 L561.3,1250.2 L561.0,1250.2 L560.6,1250.1 L560.3,1250.1 L559.9,1250.0 L559.5,1250.0 L559.2,1249.9 L558.8,1249.8 L558.5,1249.8 L558.1,1249.7 L557.7,1249.7 L557.4,1249.6 L557.0,1249.6 L556.7,1249.5 L556.3,1249.5 L555.9,1249.4 L555.6,1249.3 L555.2,1249.3 L554.9,1249.2 L554.5,1249.2 L554.1,1249.2 L553.8,1249.1 L553.4,1249.1 L553.1,1249.1 L552.7,1249.1 L552.3,1249.1 L552.0,1249.0 L551.6,1249.0 L551.3,1249.0 L550.9,1249.0 L550.5,1249.0 L550.2,1248.9 L549.8,1248.9 L549.5,1248.9 L549.1,1248.9 L548.7,1248.8 L548.4,1248.8 L548.0,1248.8 L547.7,1248.8 L547.3,1248.8 L546.9,1248.7 L546.6,1248.7 L546.2,1248.7 L545.9,1248.7 L545.5,1248.6 L545.1,1248.6 L544.8,1248.6 L544.4,1248.6 L544.1,1248.6 L543.7,1248.5 L543.3,1248.5 L543.0,1248.5 L542.6,1248.5 L542.3,1248.4 L541.9,1248.4Z" fill="#cdd2ee" fill-opacity="0.72" stroke="none"/><path d="M541.9,1248.1 L542.3,1248.0 L542.6,1247.9 L543.0,1247.7 L543.3,1247.6 L543.7,1247.4 L544.1,1247.1 L544.4,1246.8 L544.8,1246.4 L545.1,1245.9 L545.5,1245.3 L545.9,1244.7 L546.2,1243.9 L546.6,1243.0 L546.9,1241.9 L547.3,1240.8 L547.7,1239.4 L548.0,1237.9 L548.4,1236.3 L548.7,1234.5 L549.1,1232.5 L549.5,1230.3 L549.8,1228.0 L550.2,1225.5 L550.5,1222.9 L550.9,1220.3 L551.3,1217.5 L551.6,1214.7 L552.0,1211.8 L552.3,1209.0 L552.7,1206.2 L553.1,1203.6 L553.4,1201.1 L553.8,1198.7 L554.1,1196.6 L554.5,1194.7 L554.9,1193.2 L555.2,1192.0 L555.6,1191.1 L555.9,1190.6 L556.3,1190.5 L556.7,1190.7 L557.0,1191.3 L557.4,1192.3 L557.7,1193.6 L558.1,1195.3 L558.5,1197.2 L558.8,1199.4 L559.2,1201.8 L559.5,1204.4 L559.9,1207.2 L560.3,1210.0 L560.6,1212.9 L561.0,1215.8 L561.3,1218.7 L561.7,1221.6 L562.1,1224.3 L562.4,1227.0 L562.8,1229.5 L563.1,1231.9 L563.5,1234.2 L563.9,1236.2 L564.2,1238.1 L564.6,1239.9 L564.9,1241.4 L565.3,1242.8 L565.7,1244.1 L566.0,1245.2 L566.4,1246.2 L566.7,1247.1 L567.1,1247.8 L567.5,1248.4 L567.8,1249.0 L568.2,1249.5 L568.5,1249.9 L568.9,1250.2 L569.3,1250.5 L569.6,1250.8 L570.0,1251.0 L570.3,1251.1 L570.7,1251.3" fill="none" stroke="#a0a0b4" stroke-width="0.7"/><path d="M545.6,1248.0 L546.2,1247.8 L546.7,1247.6 L547.3,1247.3 L547.8,1247.0 L548.4,1246.6 L549.0,1246.1 L549.5,1245.5 L550.1,1244.7 L550.6,1243.8 L551.2,1242.7 L551.8,1241.4 L552.3,1239.9 L552.9,1238.2 L553.4,1236.3 L554.0,1234.0 L554.6,1231.5 L555.1,1228.7 L555.7,1225.6 L556.2,1222.1 L556.8,1218.4 L557.4,1214.3 L557.9,1210.0 L558.5,1205.4 L559.0,1200.5 L559.6,1195.4 L560.2,1190.2 L560.7,1184.9 L561.3,1179.6 L561.8,1174.3 L562.4,1169.1 L563.0,1164.0 L563.5,1159.3 L564.1,1154.9 L564.6,1150.9 L565.2,1147.4 L565.8,1144.5 L566.3,1142.2 L566.9,1140.5 L567.4,1139.5 L568.0,1139.2 L568.6,1139.7 L569.1,1140.8 L569.7,1142.7 L570.2,1145.2 L570.8,1148.3 L571.4,1151.9 L571.9,1156.1 L572.5,1160.7 L573.0,1165.6 L573.6,1170.8 L574.2,1176.1 L574.7,1181.6 L575.3,1187.1 L575.8,1192.6 L576.4,1198.0 L577.0,1203.2 L577.5,1208.3 L578.1,1213.1 L578.6,1217.6 L579.2,1221.8 L579.8,1225.7 L580.3,1229.3 L580.9,1232.6 L581.4,1235.6 L582.0,1238.2 L582.6,1240.6 L583.1,1242.7 L583.7,1244.5 L584.2,1246.1 L584.8,1247.5 L585.4,1248.7 L585.9,1249.8 L586.5,1250.6 L587.0,1251.4 L587.6,1252.0 L588.2,1252.5 L588.7,1252.9 L589.3,1253.3 L589.8,1253.5 L590.4,1253.7 L590.4,1254.4 L589.8,1254.4 L589.3,1254.4 L588.7,1254.3 L588.2,1254.3 L587.6,1254.2 L587.0,1254.2 L586.5,1254.1 L585.9,1254.0 L585.4,1253.9 L584.8,1253.8 L584.2,1253.7 L583.7,1253.6 L583.1,1253.6 L582.6,1253.5 L582.0,1253.4 L581.4,1253.3 L580.9,1253.2 L580.3,1253.1 L579.8,1253.0 L579.2,1253.0 L578.6,1252.9 L578.1,1252.8 L577.5,1252.7 L577.0,1252.6 L576.4,1252.5 L575.8,1252.4 L575.3,1252.4 L574.7,1252.3 L574.2,1252.2 L573.6,1252.1 L573.0,1252.0 L572.5,1251.9 L571.9,1251.8 L571.4,1251.8 L570.8,1251.7 L570.2,1251.6 L569.7,1251.5 L569.1,1251.4 L568.6,1251.3 L568.0,1251.2 L567.4,1251.2 L566.9,1251.1 L566.3,1251.0 L565.8,1250.9 L565.2,1250.8 L564.6,1250.7 L564.1,1250.6 L563.5,1250.6 L563.0,1250.5 L562.4,1250.4 L561.8,1250.3 L561.3,1250.2 L560.7,1250.1 L560.2,1250.0 L559.6,1250.0 L559.0,1249.9 L558.5,1249.8 L557.9,1249.7 L557.4,1249.6 L556.8,1249.5 L556.2,1249.5 L555.7,1249.4 L555.1,1249.3 L554.6,1249.2 L554.0,1249.2 L553.4,1249.1 L552.9,1249.1 L552.3,1249.1 L551.8,1249.0 L551.2,1249.0 L550.6,1249.0 L550.1,1248.9 L549.5,1248.9 L549.0,1248.9 L548.4,1248.8 L547.8,1248.8 L547.3,1248.7 L546.7,1248.7 L546.2,1248.7 L545.6,1248.6Z" fill="#f8bea6" fill-opacity="0.72" stroke="none"/><path d="M545.6,1248.0 L546.2,1247.8 L546.7,1247.6 L547.3,1247.3 L547.8,1247.0 L548.4,1246.6 L549.0,1246.1 L549.5,1245.5 L550.1,1244.7 L550.6,1243.8 L551.2,1242.7 L551.8,1241.4 L552.3,1239.9 L552.9,1238.2 L553.4,1236.3 L554.0,1234.0 L554.6,1231.5 L555.1,1228.7 L555.7,1225.6 L556.2,1222.1 L556.8,1218.4 L557.4,1214.3 L557.9,1210.0 L558.5,1205.4 L559.0,1200.5 L559.6,1195.4 L560.2,1190.2 L560.7,1184.9 L561.3,1179.6 L561.8,1174.3 L562.4,1169.1 L563.0,1164.0 L563.5,1159.3 L564.1,1154.9 L564.6,1150.9 L565.2,1147.4 L565.8,1144.5 L566.3,1142.2 L566.9,1140.5 L567.4,1139.5 L568.0,1139.2 L568.6,1139.7 L569.1,1140.8 L569.7,1142.7 L570.2,1145.2 L570.8,1148.3 L571.4,1151.9 L571.9,1156.1 L572.5,1160.7 L573.0,1165.6 L573.6,1170.8 L574.2,1176.1 L574.7,1181.6 L575.3,1187.1 L575.8,1192.6 L576.4,1198.0 L577.0,1203.2 L577.5,1208.3 L578.1,1213.1 L578.6,1217.6 L579.2,1221.8 L579.8,1225.7 L580.3,1229.3 L580.9,1232.6 L581.4,1235.6 L582.0,1238.2 L582.6,1240.6 L583.1,1242.7 L583.7,1244.5 L584.2,1246.1 L584.8,1247.5 L585.4,1248.7 L585.9,1249.8 L586.5,1250.6 L587.0,1251.4 L587.6,1252.0 L588.2,1252.5 L588.7,1252.9 L589.3,1253.3 L589.8,1253.5 L590.4,1253.7" fill="none" stroke="#a0a0b4" stroke-width="0.7"/><path d="M567.2,1250.6 L567.7,1250.5 L568.2,1250.4 L568.6,1250.3 L569.1,1250.1 L569.6,1249.8 L570.1,1249.4 L570.6,1249.0 L571.0,1248.5 L571.5,1247.8 L572.0,1247.0 L572.5,1246.1 L573.0,1245.0 L573.4,1243.7 L573.9,1242.3 L574.4,1240.6 L574.9,1238.7 L575.4,1236.5 L575.8,1234.2 L576.3,1231.5 L576.8,1228.7 L577.3,1225.6 L577.8,1222.2 L578.2,1218.7 L578.7,1215.0 L579.2,1211.1 L579.7,1207.1 L580.2,1203.0 L580.6,1198.9 L581.1,1194.9 L581.6,1190.9 L582.1,1187.0 L582.6,1183.4 L583.0,1180.0 L583.5,1177.0 L584.0,1174.3 L584.5,1172.1 L585.0,1170.3 L585.4,1169.0 L585.9,1168.3 L586.4,1168.1 L586.9,1168.4 L587.4,1169.3 L587.8,1170.7 L588.3,1172.6 L588.8,1174.9 L589.3,1177.7 L589.8,1180.9 L590.2,1184.3 L590.7,1188.1 L591.2,1192.0 L591.7,1196.1 L592.2,1200.2 L592.6,1204.4 L593.1,1208.6 L593.6,1212.7 L594.1,1216.6 L594.6,1220.5 L595.0,1224.1 L595.5,1227.5 L596.0,1230.7 L596.5,1233.7 L597.0,1236.4 L597.4,1238.9 L597.9,1241.1 L598.4,1243.1 L598.9,1244.9 L599.4,1246.4 L599.8,1247.8 L600.3,1249.0 L600.8,1250.0 L601.3,1250.9 L601.8,1251.6 L602.2,1252.3 L602.7,1252.8 L603.2,1253.2 L603.7,1253.6 L604.2,1253.9 L604.6,1254.2 L605.1,1254.4 L605.6,1254.5 L605.6,1255.0 L605.1,1255.0 L604.6,1255.0 L604.2,1255.0 L603.7,1255.0 L603.2,1254.9 L602.7,1254.9 L602.2,1254.9 L601.8,1254.9 L601.3,1254.9 L600.8,1254.8 L600.3,1254.8 L599.8,1254.8 L599.4,1254.8 L598.9,1254.8 L598.4,1254.7 L597.9,1254.7 L597.4,1254.7 L597.0,1254.7 L596.5,1254.7 L596.0,1254.6 L595.5,1254.6 L595.0,1254.6 L594.6,1254.6 L594.1,1254.6 L593.6,1254.5 L593.1,1254.5 L592.6,1254.5 L592.2,1254.5 L591.7,1254.5 L591.2,1254.4 L590.7,1254.4 L590.2,1254.4 L589.8,1254.4 L589.3,1254.4 L588.8,1254.3 L588.3,1254.3 L587.8,1254.3 L587.4,1254.2 L586.9,1254.1 L586.4,1254.1 L585.9,1254.0 L585.4,1253.9 L585.0,1253.8 L584.5,1253.8 L584.0,1253.7 L583.5,1253.6 L583.0,1253.5 L582.6,1253.5 L582.1,1253.4 L581.6,1253.3 L581.1,1253.2 L580.6,1253.2 L580.2,1253.1 L579.7,1253.0 L579.2,1253.0 L578.7,1252.9 L578.2,1252.8 L577.8,1252.7 L577.3,1252.7 L576.8,1252.6 L576.3,1252.5 L575.8,1252.4 L575.4,1252.4 L574.9,1252.3 L574.4,1252.2 L573.9,1252.2 L573.4,1252.1 L573.0,1252.0 L572.5,1251.9 L572.0,1251.9 L571.5,1251.8 L571.0,1251.7 L570.6,1251.6 L570.1,1251.6 L569.6,1251.5 L569.1,1251.4 L568.6,1251.3 L568.2,1251.3 L567.7,1251.2 L567.2,1251.1Z" fill="#cdd2ee" fill-opacity="0.72" stroke="none"/><path d="M567.2,1250.6 L567.7,1250.5 L568.2,1250.4 L568.6,1250.3 L569.1,1250.1 L569.6,1249.8 L570.1,1249.4 L570.6,1249.0 L571.0,1248.5 L571.5,1247.8 L572.0,1247.0 L572.5,1246.1 L573.0,1245.0 L573.4,1243.7 L573.9,1242.3 L574.4,1240.6 L574.9,1238.7 L575.4,1236.5 L575.8,1234.2 L576.3,1231.5 L576.8,1228.7 L577.3,1225.6 L577.8,1222.2 L578.2,1218.7 L578.7,1215.0 L579.2,1211.1 L579.7,1207.1 L580.2,1203.0 L580.6,1198.9 L581.1,1194.9 L581.6,1190.9 L582.1,1187.0 L582.6,1183.4 L583.0,1180.0 L583.5,1177.0 L584.0,1174.3 L584.5,1172.1 L585.0,1170.3 L585.4,1169.0 L585.9,1168.3 L586.4,1168.1 L586.9,1168.4 L587.4,1169.3 L587.8,1170.7 L588.3,1172.6 L588.8,1174.9 L589.3,1177.7 L589.8,1180.9 L590.2,1184.3 L590.7,1188.1 L591.2,1192.0 L591.7,1196.1 L592.2,1200.2 L592.6,1204.4 L593.1,1208.6 L593.6,1212.7 L594.1,1216.6 L594.6,1220.5 L595.0,1224.1 L595.5,1227.5 L596.0,1230.7 L596.5,1233.7 L597.0,1236.4 L597.4,1238.9 L597.9,1241.1 L598.4,1243.1 L598.9,1244.9 L599.4,1246.4 L599.8,1247.8 L600.3,1249.0 L600.8,1250.0 L601.3,1250.9 L601.8,1251.6 L602.2,1252.3 L602.7,1252.8 L603.2,1253.2 L603.7,1253.6 L604.2,1253.9 L604.6,1254.2 L605.1,1254.4 L605.6,1254.5" fill="none" stroke="#a0a0b4" stroke-width="0.7"/><path d="M373.6,1211.4 L420.5,1219.0 L440.0,1223.0 L454.0,1227.5 L468.0,1234.0 L480.9,1240.9 L501.0,1245.9 L554.6,1249.2 L588.0,1254.3 L628.3,1256.0" fill="none" stroke="#c8503a" stroke-width="1.2"/><g fill="none" stroke="#acacb8" stroke-width="0.7"><circle cx="446.4" cy="1190.3" r="1.4"/><circle cx="426.5" cy="1198.3" r="1.4"/><circle cx="417.4" cy="1215.7" r="1.4"/><circle cx="493.1" cy="1232.3" r="1.4"/><circle cx="451.6" cy="1177.0" r="1.4"/><circle cx="376.0" cy="1200.1" r="1.4"/><circle cx="418.5" cy="1219.0" r="1.4"/><circle cx="580.0" cy="1159.4" r="1.4"/><circle cx="600.9" cy="1239.5" r="1.4"/><circle cx="485.4" cy="1208.2" r="1.4"/><circle cx="500.0" cy="1241.0" r="1.4"/><circle cx="453.8" cy="1163.1" r="1.4"/><circle cx="579.3" cy="1170.8" r="1.4"/><circle cx="498.9" cy="1242.2" r="1.4"/><circle cx="413.1" cy="1214.0" r="1.4"/><circle cx="432.6" cy="1201.5" r="1.4"/><circle cx="444.8" cy="1191.3" r="1.4"/><circle cx="409.1" cy="1213.3" r="1.4"/><circle cx="440.3" cy="1198.7" r="1.4"/><circle cx="384.8" cy="1213.0" r="1.4"/><circle cx="601.3" cy="1241.4" r="1.4"/><circle cx="379.9" cy="1193.9" r="1.4"/><circle cx="577.5" cy="1154.1" r="1.4"/><circle cx="475.7" cy="1169.9" r="1.4"/><circle cx="589.3" cy="1174.5" r="1.4"/><circle cx="467.0" cy="1166.1" r="1.4"/><circle cx="415.6" cy="1211.0" r="1.4"/><circle cx="435.4" cy="1194.1" r="1.4"/><circle cx="514.3" cy="1240.3" r="1.4"/><circle cx="459.5" cy="1155.9" r="1.4"/><circle cx="422.5" cy="1215.6" r="1.4"/><circle cx="384.0" cy="1210.2" r="1.4"/><circle cx="498.9" cy="1247.9" r="1.4"/><circle cx="459.5" cy="1151.0" r="1.4"/><circle cx="375.2" cy="1210.3" r="1.4"/><circle cx="448.0" cy="1194.1" r="1.4"/><circle cx="385.3" cy="1203.9" r="1.4"/><circle cx="374.4" cy="1213.5" r="1.4"/><circle cx="487.8" cy="1204.2" r="1.4"/><circle cx="550.3" cy="1208.7" r="1.4"/><circle cx="379.3" cy="1210.3" r="1.4"/><circle cx="446.3" cy="1190.0" r="1.4"/><circle cx="582.8" cy="1162.0" r="1.4"/><circle cx="442.5" cy="1194.2" r="1.4"/><circle cx="432.6" cy="1204.6" r="1.4"/><circle cx="387.6" cy="1212.7" r="1.4"/><circle cx="533.1" cy="1245.4" r="1.4"/><circle cx="483.7" cy="1190.2" r="1.4"/><circle cx="457.7" cy="1149.6" r="1.4"/><circle cx="585.1" cy="1165.9" r="1.4"/><circle cx="578.6" cy="1164.2" r="1.4"/><circle cx="378.8" cy="1208.1" r="1.4"/><circle cx="463.7" cy="1161.8" r="1.4"/><circle cx="380.7" cy="1194.6" r="1.4"/><circle cx="408.4" cy="1211.7" r="1.4"/><circle cx="495.9" cy="1249.0" r="1.4"/><circle cx="374.1" cy="1208.9" r="1.4"/><circle cx="483.1" cy="1189.6" r="1.4"/><circle cx="461.3" cy="1151.1" r="1.4"/><circle cx="551.0" cy="1219.4" r="1.4"/><circle cx="492.3" cy="1222.9" r="1.4"/><circle cx="541.7" cy="1244.2" r="1.4"/><circle cx="589.2" cy="1181.1" r="1.4"/><circle cx="577.8" cy="1164.4" r="1.4"/><circle cx="453.4" cy="1169.2" r="1.4"/><circle cx="380.6" cy="1206.9" r="1.4"/><circle cx="561.7" cy="1131.2" r="1.4"/><circle cx="628.5" cy="1246.0" r="1.4"/><circle cx="476.8" cy="1176.1" r="1.4"/><circle cx="451.6" cy="1170.9" r="1.4"/><circle cx="393.3" cy="1219.3" r="1.4"/><circle cx="448.2" cy="1191.5" r="1.4"/><circle cx="478.2" cy="1179.0" r="1.4"/><circle cx="458.8" cy="1152.7" r="1.4"/><circle cx="444.3" cy="1198.9" r="1.4"/><circle cx="621.7" cy="1251.0" r="1.4"/><circle cx="483.8" cy="1186.7" r="1.4"/><circle cx="494.2" cy="1239.7" r="1.4"/><circle cx="466.7" cy="1160.0" r="1.4"/><circle cx="380.3" cy="1209.3" r="1.4"/><circle cx="424.6" cy="1205.7" r="1.4"/><circle cx="588.6" cy="1169.4" r="1.4"/><circle cx="492.5" cy="1231.0" r="1.4"/><circle cx="546.6" cy="1235.9" r="1.4"/><circle cx="602.1" cy="1249.8" r="1.4"/><circle cx="581.0" cy="1164.6" r="1.4"/><circle cx="381.7" cy="1208.5" r="1.4"/><circle cx="485.0" cy="1197.3" r="1.4"/><circle cx="442.9" cy="1201.6" r="1.4"/><circle cx="567.9" cy="1128.2" r="1.4"/><circle cx="436.2" cy="1196.3" r="1.4"/><circle cx="593.5" cy="1192.7" r="1.4"/><circle cx="390.6" cy="1221.0" r="1.4"/><circle cx="580.7" cy="1163.9" r="1.4"/><circle cx="561.6" cy="1133.3" r="1.4"/><circle cx="412.0" cy="1214.6" r="1.4"/><circle cx="529.8" cy="1241.0" r="1.4"/><circle cx="490.4" cy="1217.5" r="1.4"/><circle cx="587.4" cy="1170.4" r="1.4"/><circle cx="504.1" cy="1239.9" r="1.4"/><circle cx="596.8" cy="1225.9" r="1.4"/><circle cx="552.0" cy="1205.2" r="1.4"/><circle cx="553.1" cy="1191.9" r="1.4"/><circle cx="475.7" cy="1174.5" r="1.4"/><circle cx="573.8" cy="1134.4" r="1.4"/><circle cx="500.7" cy="1245.8" r="1.4"/><circle cx="385.2" cy="1212.7" r="1.4"/><circle cx="453.4" cy="1172.7" r="1.4"/><circle cx="435.1" cy="1198.1" r="1.4"/><circle cx="606.6" cy="1256.9" r="1.4"/><circle cx="394.9" cy="1218.6" r="1.4"/><circle cx="434.6" cy="1200.4" r="1.4"/><circle cx="377.1" cy="1208.5" r="1.4"/><circle cx="501.2" cy="1245.4" r="1.4"/><circle cx="549.2" cy="1217.1" r="1.4"/><circle cx="583.3" cy="1157.5" r="1.4"/><circle cx="382.0" cy="1199.9" r="1.4"/><circle cx="571.6" cy="1136.2" r="1.4"/><circle cx="557.7" cy="1144.4" r="1.4"/><circle cx="450.0" cy="1186.4" r="1.4"/><circle cx="499.2" cy="1241.4" r="1.4"/><circle cx="389.4" cy="1220.0" r="1.4"/><circle cx="422.0" cy="1217.3" r="1.4"/><circle cx="576.6" cy="1156.6" r="1.4"/><circle cx="452.5" cy="1163.0" r="1.4"/><circle cx="557.6" cy="1151.3" r="1.4"/><circle cx="476.3" cy="1172.7" r="1.4"/><circle cx="463.3" cy="1156.7" r="1.4"/><circle cx="588.0" cy="1178.8" r="1.4"/><circle cx="578.4" cy="1168.0" r="1.4"/><circle cx="475.4" cy="1177.9" r="1.4"/><circle cx="442.1" cy="1196.6" r="1.4"/><circle cx="590.5" cy="1182.2" r="1.4"/><circle cx="565.1" cy="1134.4" r="1.4"/><circle cx="565.3" cy="1121.4" r="1.4"/><circle cx="575.8" cy="1142.1" r="1.4"/><circle cx="569.9" cy="1122.4" r="1.4"/><circle cx="540.5" cy="1239.5" r="1.4"/><circle cx="378.1" cy="1202.1" r="1.4"/><circle cx="450.8" cy="1183.8" r="1.4"/><circle cx="473.8" cy="1166.5" r="1.4"/><circle cx="572.4" cy="1134.5" r="1.4"/><circle cx="495.2" cy="1235.9" r="1.4"/><circle cx="589.3" cy="1166.4" r="1.4"/><circle cx="498.0" cy="1243.3" r="1.4"/><circle cx="488.1" cy="1216.7" r="1.4"/><circle cx="380.2" cy="1204.0" r="1.4"/><circle cx="582.5" cy="1160.6" r="1.4"/><circle cx="570.0" cy="1129.3" r="1.4"/><circle cx="474.0" cy="1170.8" r="1.4"/><circle cx="564.0" cy="1129.7" r="1.4"/><circle cx="556.3" cy="1160.5" r="1.4"/><circle cx="562.2" cy="1126.4" r="1.4"/><circle cx="411.2" cy="1221.7" r="1.4"/><circle cx="387.9" cy="1207.2" r="1.4"/><circle cx="597.5" cy="1222.4" r="1.4"/><circle cx="488.4" cy="1221.8" r="1.4"/><circle cx="441.1" cy="1190.8" r="1.4"/><circle cx="476.8" cy="1175.8" r="1.4"/><circle cx="380.5" cy="1200.1" r="1.4"/><circle cx="432.8" cy="1188.8" r="1.4"/><circle cx="418.6" cy="1215.9" r="1.4"/><circle cx="560.1" cy="1133.2" r="1.4"/><circle cx="556.6" cy="1165.3" r="1.4"/><circle cx="550.0" cy="1210.0" r="1.4"/><circle cx="480.5" cy="1179.3" r="1.4"/><circle cx="560.3" cy="1133.6" r="1.4"/><circle cx="499.1" cy="1243.6" r="1.4"/><circle cx="378.8" cy="1202.4" r="1.4"/><circle cx="553.1" cy="1188.6" r="1.4"/><circle cx="417.0" cy="1214.6" r="1.4"/><circle cx="415.5" cy="1214.6" r="1.4"/><circle cx="492.7" cy="1228.9" r="1.4"/><circle cx="385.8" cy="1203.9" r="1.4"/><circle cx="489.4" cy="1220.5" r="1.4"/><circle cx="453.7" cy="1159.9" r="1.4"/><circle cx="565.9" cy="1125.0" r="1.4"/><circle cx="551.6" cy="1208.9" r="1.4"/><circle cx="447.4" cy="1189.5" r="1.4"/><circle cx="449.0" cy="1190.4" r="1.4"/><circle cx="577.1" cy="1164.3" r="1.4"/><circle cx="513.2" cy="1245.0" r="1.4"/><circle cx="442.1" cy="1195.7" r="1.4"/><circle cx="416.4" cy="1213.5" r="1.4"/><circle cx="477.6" cy="1175.9" r="1.4"/><circle cx="464.8" cy="1151.8" r="1.4"/><circle cx="550.5" cy="1217.3" r="1.4"/><circle cx="587.9" cy="1174.4" r="1.4"/><circle cx="559.7" cy="1138.2" r="1.4"/><circle cx="460.1" cy="1139.1" r="1.4"/><circle cx="461.5" cy="1150.2" r="1.4"/><circle cx="587.5" cy="1158.5" r="1.4"/><circle cx="599.9" cy="1239.2" r="1.4"/><circle cx="517.0" cy="1244.2" r="1.4"/><circle cx="451.0" cy="1179.0" r="1.4"/><circle cx="429.4" cy="1205.2" r="1.4"/><circle cx="468.0" cy="1158.5" r="1.4"/><circle cx="482.5" cy="1197.4" r="1.4"/><circle cx="476.0" cy="1170.2" r="1.4"/><circle cx="401.5" cy="1213.1" r="1.4"/><circle cx="550.8" cy="1201.7" r="1.4"/><circle cx="422.1" cy="1212.4" r="1.4"/><circle cx="575.9" cy="1149.0" r="1.4"/><circle cx="591.9" cy="1189.9" r="1.4"/><circle cx="602.6" cy="1253.8" r="1.4"/><circle cx="570.3" cy="1136.7" r="1.4"/><circle cx="444.6" cy="1192.6" r="1.4"/><circle cx="390.0" cy="1212.5" r="1.4"/><circle cx="381.5" cy="1199.7" r="1.4"/><circle cx="580.9" cy="1175.1" r="1.4"/><circle cx="542.1" cy="1238.5" r="1.4"/><circle cx="600.7" cy="1234.9" r="1.4"/><circle cx="383.8" cy="1207.6" r="1.4"/><circle cx="587.3" cy="1170.0" r="1.4"/><circle cx="451.8" cy="1178.2" r="1.4"/><circle cx="547.6" cy="1230.0" r="1.4"/><circle cx="402.5" cy="1217.7" r="1.4"/><circle cx="457.7" cy="1153.6" r="1.4"/><circle cx="388.3" cy="1209.7" r="1.4"/><circle cx="489.7" cy="1226.7" r="1.4"/><circle cx="553.8" cy="1186.5" r="1.4"/><circle cx="472.5" cy="1172.3" r="1.4"/><circle cx="474.3" cy="1170.0" r="1.4"/><circle cx="482.6" cy="1198.9" r="1.4"/><circle cx="418.1" cy="1210.9" r="1.4"/><circle cx="540.6" cy="1249.5" r="1.4"/><circle cx="462.9" cy="1146.3" r="1.4"/><circle cx="598.5" cy="1237.9" r="1.4"/><circle cx="436.4" cy="1206.0" r="1.4"/><circle cx="584.6" cy="1160.9" r="1.4"/><circle cx="559.9" cy="1140.6" r="1.4"/><circle cx="485.4" cy="1197.9" r="1.4"/><circle cx="433.7" cy="1202.6" r="1.4"/><circle cx="477.9" cy="1170.0" r="1.4"/><circle cx="427.9" cy="1210.9" r="1.4"/><circle cx="466.1" cy="1147.3" r="1.4"/><circle cx="459.8" cy="1150.8" r="1.4"/><circle cx="454.0" cy="1161.6" r="1.4"/><circle cx="417.3" cy="1209.8" r="1.4"/><circle cx="445.6" cy="1185.3" r="1.4"/><circle cx="519.8" cy="1250.1" r="1.4"/><circle cx="480.5" cy="1182.5" r="1.4"/><circle cx="474.3" cy="1171.9" r="1.4"/><circle cx="440.8" cy="1199.9" r="1.4"/><circle cx="577.2" cy="1159.3" r="1.4"/><circle cx="433.3" cy="1201.7" r="1.4"/><circle cx="604.5" cy="1246.8" r="1.4"/><circle cx="476.7" cy="1177.9" r="1.4"/><circle cx="476.5" cy="1165.9" r="1.4"/><circle cx="478.4" cy="1179.5" r="1.4"/><circle cx="589.8" cy="1175.4" r="1.4"/><circle cx="483.7" cy="1202.3" r="1.4"/><circle cx="482.1" cy="1181.5" r="1.4"/><circle cx="465.2" cy="1148.5" r="1.4"/><circle cx="581.5" cy="1170.7" r="1.4"/><circle cx="474.8" cy="1168.0" r="1.4"/><circle cx="447.1" cy="1196.5" r="1.4"/><circle cx="385.9" cy="1208.2" r="1.4"/><circle cx="477.1" cy="1177.3" r="1.4"/><circle cx="451.3" cy="1169.2" r="1.4"/><circle cx="599.6" cy="1237.2" r="1.4"/><circle cx="483.5" cy="1191.2" r="1.4"/><circle cx="593.1" cy="1191.8" r="1.4"/><circle cx="587.9" cy="1163.0" r="1.4"/><circle cx="384.9" cy="1205.8" r="1.4"/><circle cx="442.7" cy="1195.8" r="1.4"/><circle cx="434.7" cy="1203.9" r="1.4"/><circle cx="603.5" cy="1253.0" r="1.4"/><circle cx="393.5" cy="1218.7" r="1.4"/><circle cx="451.4" cy="1170.7" r="1.4"/><circle cx="563.8" cy="1124.6" r="1.4"/><circle cx="389.3" cy="1215.5" r="1.4"/><circle cx="588.7" cy="1160.7" r="1.4"/><circle cx="588.6" cy="1171.9" r="1.4"/><circle cx="416.0" cy="1214.4" r="1.4"/><circle cx="491.9" cy="1228.4" r="1.4"/><circle cx="599.4" cy="1234.0" r="1.4"/><circle cx="462.2" cy="1146.3" r="1.4"/><circle cx="499.4" cy="1246.5" r="1.4"/><circle cx="381.0" cy="1205.4" r="1.4"/><circle cx="433.4" cy="1192.0" r="1.4"/><circle cx="481.1" cy="1175.3" r="1.4"/><circle cx="386.9" cy="1208.8" r="1.4"/><circle cx="591.5" cy="1185.7" r="1.4"/><circle cx="546.4" cy="1234.4" r="1.4"/><circle cx="595.6" cy="1218.6" r="1.4"/><circle cx="522.6" cy="1242.2" r="1.4"/><circle cx="468.7" cy="1162.7" r="1.4"/><circle cx="480.5" cy="1179.5" r="1.4"/><circle cx="482.3" cy="1184.1" r="1.4"/><circle cx="582.5" cy="1164.0" r="1.4"/><circle cx="457.6" cy="1152.1" r="1.4"/><circle cx="458.6" cy="1145.0" r="1.4"/><circle cx="490.6" cy="1219.4" r="1.4"/><circle cx="489.8" cy="1224.9" r="1.4"/><circle cx="565.5" cy="1134.6" r="1.4"/><circle cx="470.3" cy="1175.2" r="1.4"/><circle cx="519.3" cy="1233.2" r="1.4"/><circle cx="455.8" cy="1160.3" r="1.4"/><circle cx="594.1" cy="1203.7" r="1.4"/></g><path d="M373.6,1209.0 L377.0,1206.0 L379.7,1204.7 L381.5,1206.0 L383.7,1209.0 L387.0,1212.5 L390.4,1214.7 L400.0,1216.0 L415.5,1218.0 L420.0,1216.0 L423.9,1212.4 L428.0,1206.0 L434.0,1200.0 L438.0,1198.5 L442.3,1198.0 L446.0,1195.0 L449.0,1190.6 L451.5,1176.0 L454.0,1162.0 L457.0,1154.0 L460.7,1150.4 L464.0,1153.0 L467.5,1160.4 L472.5,1172.2 L475.0,1173.0 L477.5,1173.8 L479.0,1176.0 L480.9,1180.5 L484.0,1196.0 L487.6,1214.0 L491.0,1228.0 L494.3,1237.5 L498.0,1243.5 L501.0,1245.9 L520.0,1246.0 L537.8,1245.9 L541.0,1243.0 L544.5,1237.5 L548.0,1225.0 L551.2,1207.3 L554.5,1178.0 L558.0,1147.0 L562.0,1135.0 L565.0,1130.0 L568.0,1128.6 L571.0,1133.0 L574.7,1147.0 L577.5,1160.0 L579.7,1168.8 L582.5,1167.0 L585.7,1165.5 L588.0,1170.0 L589.8,1177.2 L593.0,1198.0 L596.5,1220.7 L600.0,1240.0 L604.8,1254.3 L610.0,1255.5 L628.3,1256.0" fill="none" stroke="#1f2a70" stroke-width="2.0" stroke-linejoin="round"/><rect x="373.6" y="1099.4" width="254.7" height="188.4" fill="none" stroke="#444" stroke-width="1.1"/><line x1="392.9" y1="1287.8" x2="392.9" y2="1290.8" stroke="#444" stroke-width="1"/><text x="392.9" y="1302.9" font-size="12.2" text-anchor="middle" fill="#111" font-weight="normal" textLength="18.9" lengthAdjust="spacingAndGlyphs">915</text><line x1="421.2" y1="1287.8" x2="421.2" y2="1290.8" stroke="#444" stroke-width="1"/><text x="421.2" y="1302.9" font-size="12.2" text-anchor="middle" fill="#111" font-weight="normal" textLength="18.9" lengthAdjust="spacingAndGlyphs">910</text><line x1="449.6" y1="1287.8" x2="449.6" y2="1290.8" stroke="#444" stroke-width="1"/><text x="449.6" y="1302.9" font-size="12.2" text-anchor="middle" fill="#111" font-weight="normal" textLength="18.9" lengthAdjust="spacingAndGlyphs">905</text><line x1="478.0" y1="1287.8" x2="478.0" y2="1290.8" stroke="#444" stroke-width="1"/><text x="478.0" y="1302.9" font-size="12.2" text-anchor="middle" fill="#111" font-weight="normal" textLength="18.9" lengthAdjust="spacingAndGlyphs">900</text><line x1="506.3" y1="1287.8" x2="506.3" y2="1290.8" stroke="#444" stroke-width="1"/><text x="506.3" y="1302.9" font-size="12.2" text-anchor="middle" fill="#111" font-weight="normal" textLength="18.9" lengthAdjust="spacingAndGlyphs">895</text><line x1="534.7" y1="1287.8" x2="534.7" y2="1290.8" stroke="#444" stroke-width="1"/><text x="534.7" y="1302.9" font-size="12.2" text-anchor="middle" fill="#111" font-weight="normal" textLength="18.9" lengthAdjust="spacingAndGlyphs">890</text><line x1="563.1" y1="1287.8" x2="563.1" y2="1290.8" stroke="#444" stroke-width="1"/><text x="563.1" y="1302.9" font-size="12.2" text-anchor="middle" fill="#111" font-weight="normal" textLength="18.9" lengthAdjust="spacingAndGlyphs">885</text><line x1="591.4" y1="1287.8" x2="591.4" y2="1290.8" stroke="#444" stroke-width="1"/><text x="591.4" y="1302.9" font-size="12.2" text-anchor="middle" fill="#111" font-weight="normal" textLength="18.9" lengthAdjust="spacingAndGlyphs">880</text><line x1="619.8" y1="1287.8" x2="619.8" y2="1290.8" stroke="#444" stroke-width="1"/><text x="619.8" y="1302.9" font-size="12.2" text-anchor="middle" fill="#111" font-weight="normal" textLength="18.9" lengthAdjust="spacingAndGlyphs">875</text><line x1="378.7" y1="1287.8" x2="378.7" y2="1289.8" stroke="#444" stroke-width="0.8"/><line x1="407.1" y1="1287.8" x2="407.1" y2="1289.8" stroke="#444" stroke-width="0.8"/><line x1="435.4" y1="1287.8" x2="435.4" y2="1289.8" stroke="#444" stroke-width="0.8"/><line x1="463.8" y1="1287.8" x2="463.8" y2="1289.8" stroke="#444" stroke-width="0.8"/><line x1="492.2" y1="1287.8" x2="492.2" y2="1289.8" stroke="#444" stroke-width="0.8"/><line x1="520.5" y1="1287.8" x2="520.5" y2="1289.8" stroke="#444" stroke-width="0.8"/><line x1="548.9" y1="1287.8" x2="548.9" y2="1289.8" stroke="#444" stroke-width="0.8"/><line x1="577.2" y1="1287.8" x2="577.2" y2="1289.8" stroke="#444" stroke-width="0.8"/><line x1="605.6" y1="1287.8" x2="605.6" y2="1289.8" stroke="#444" stroke-width="0.8"/><text x="421.3" y="1320.3" font-size="17.5" text-anchor="start" fill="#111" font-weight="normal" textLength="157.8" lengthAdjust="spacingAndGlyphs">Binding Energy (eV)</text><text transform="translate(359.9,1245.3) rotate(-90)" font-size="16.3" fill="#111" textLength="95.0" lengthAdjust="spacingAndGlyphs">Intensity (a.u.)</text><rect x="378.5" y="1104.9" width="21.1" height="11.5" fill="#fbf4b0"/><text x="405.4" y="1115.3" font-size="11.8" fill="#111">Ce 3d<tspan font-size="7.1" dy="3">3/2</tspan><tspan dy="-3" font-size="11.8"> Ce</tspan><tspan font-size="7.1" dy="-5">3+</tspan></text><rect x="479.0" y="1104.9" width="20.8" height="11.5" fill="#f9c2aa"/><text x="505.6" y="1115.3" font-size="11.8" fill="#111">Ce 3d<tspan font-size="7.1" dy="3">5/2</tspan><tspan dy="-3" font-size="11.8"> Ce</tspan><tspan font-size="7.1" dy="-5">3+</tspan></text><rect x="378.5" y="1121.0" width="21.1" height="11.6" fill="#a8dcc6"/><text x="405.4" y="1130.3" font-size="11.8" fill="#111">Ce 3d<tspan font-size="7.1" dy="3">3/2</tspan><tspan dy="-3" font-size="11.8"> Ce</tspan><tspan font-size="7.1" dy="-5">4+</tspan></text><rect x="479.0" y="1121.0" width="20.8" height="11.6" fill="#cdd2ee"/><text x="505.6" y="1130.3" font-size="11.8" fill="#111">Ce 3d<tspan font-size="7.1" dy="3">5/2</tspan><tspan dy="-3" font-size="11.8"> Ce</tspan><tspan font-size="7.1" dy="-5">4+</tspan></text><text x="666.2" y="1095.2" font-size="23" fill="#111">K</text><rect x="743.9" y="1202.6" width="39.2" height="87.9" fill="#fbd6c8"/><line x1="763.5" y1="1202.6" x2="763.5" y2="1185.4" stroke="#222" stroke-width="1.5"/><line x1="752.5" y1="1185.4" x2="774.5" y2="1185.4" stroke="#222" stroke-width="1.6"/><rect x="810" y="1163.2" width="38.5" height="127.3" fill="#cdeee0"/><line x1="829.2" y1="1163.2" x2="829.2" y2="1139.5" stroke="#222" stroke-width="1.5"/><line x1="818.2" y1="1139.5" x2="840.2" y2="1139.5" stroke="#222" stroke-width="1.6"/><rect x="876.3" y="1152.1" width="38.9" height="138.4" fill="#d6daf0"/><line x1="895.8" y1="1152.1" x2="895.8" y2="1131.9" stroke="#222" stroke-width="1.5"/><line x1="884.8" y1="1131.9" x2="906.8" y2="1131.9" stroke="#222" stroke-width="1.6"/><rect x="713.8" y="1099.4" width="227.2" height="191.1" fill="none" stroke="#444" stroke-width="1.1"/><line x1="710.3" y1="1290.5" x2="713.8" y2="1290.5" stroke="#444" stroke-width="1"/><text x="708.7" y="1294.6" font-size="12.5" text-anchor="end" fill="#111" font-weight="normal" textLength="6.7" lengthAdjust="spacingAndGlyphs">0</text><line x1="710.3" y1="1252.3" x2="713.8" y2="1252.3" stroke="#444" stroke-width="1"/><text x="708.7" y="1256.4" font-size="12.5" text-anchor="end" fill="#111" font-weight="normal" textLength="20.1" lengthAdjust="spacingAndGlyphs">100</text><line x1="710.3" y1="1214.1" x2="713.8" y2="1214.1" stroke="#444" stroke-width="1"/><text x="708.7" y="1218.2" font-size="12.5" text-anchor="end" fill="#111" font-weight="normal" textLength="20.1" lengthAdjust="spacingAndGlyphs">200</text><line x1="710.3" y1="1175.8" x2="713.8" y2="1175.8" stroke="#444" stroke-width="1"/><text x="708.7" y="1180.0" font-size="12.5" text-anchor="end" fill="#111" font-weight="normal" textLength="20.1" lengthAdjust="spacingAndGlyphs">300</text><line x1="710.3" y1="1137.6" x2="713.8" y2="1137.6" stroke="#444" stroke-width="1"/><text x="708.7" y="1141.7" font-size="12.5" text-anchor="end" fill="#111" font-weight="normal" textLength="20.1" lengthAdjust="spacingAndGlyphs">400</text><line x1="710.3" y1="1099.4" x2="713.8" y2="1099.4" stroke="#444" stroke-width="1"/><text x="708.7" y="1103.5" font-size="12.5" text-anchor="end" fill="#111" font-weight="normal" textLength="20.1" lengthAdjust="spacingAndGlyphs">500</text><line x1="711.8" y1="1271.4" x2="713.8" y2="1271.4" stroke="#444" stroke-width="0.8"/><line x1="711.8" y1="1233.2" x2="713.8" y2="1233.2" stroke="#444" stroke-width="0.8"/><line x1="711.8" y1="1195.0" x2="713.8" y2="1195.0" stroke="#444" stroke-width="0.8"/><line x1="711.8" y1="1156.7" x2="713.8" y2="1156.7" stroke="#444" stroke-width="0.8"/><line x1="711.8" y1="1118.5" x2="713.8" y2="1118.5" stroke="#444" stroke-width="0.8"/><line x1="763.5" y1="1290.5" x2="763.5" y2="1294.0" stroke="#444" stroke-width="1"/><line x1="829.2" y1="1290.5" x2="829.2" y2="1294.0" stroke="#444" stroke-width="1"/><line x1="895.8" y1="1290.5" x2="895.8" y2="1294.0" stroke="#444" stroke-width="1"/><line x1="761.7" y1="1121.2" x2="895.7" y2="1121.2" stroke="#333" stroke-width="1"/><text x="828.5" y="1124.1" font-size="21" text-anchor="middle" fill="#111" font-weight="bold">*</text><text transform="translate(669.4,1254.4) rotate(-90)" font-size="16.3" fill="#111" textLength="112.2" lengthAdjust="spacingAndGlyphs">Modulus (Mpa)</text><text x="763.2" y="1310.1" font-size="12.8" text-anchor="middle" fill="#111" font-weight="normal" textLength="18.4" lengthAdjust="spacingAndGlyphs">SF</text><text x="829.4" y="1310.1" font-size="12.8" text-anchor="middle" fill="#111" font-weight="normal" textLength="40.2" lengthAdjust="spacingAndGlyphs">HA-SF</text><text x="895.8" y="1310.1" font-size="12.8" text-anchor="middle" fill="#111" font-weight="normal" textLength="60.3" lengthAdjust="spacingAndGlyphs">Cu/Ce-TA</text><text x="894.7" y="1324.1" font-size="12.8" text-anchor="middle" fill="#111" font-weight="normal" textLength="57.0" lengthAdjust="spacingAndGlyphs">@HA-SF</text><text x="4.7" y="295.9" font-size="23" fill="#111">B</text><text x="102.0" y="295.7" font-size="15.5" text-anchor="start" fill="#111" font-weight="normal" textLength="19.5" lengthAdjust="spacingAndGlyphs">SF</text><text x="234.6" y="295.7" font-size="15.5" text-anchor="start" fill="#111" font-weight="normal" textLength="47.8" lengthAdjust="spacingAndGlyphs">HA-SF</text><text x="346.4" y="295.7" font-size="15.5" text-anchor="start" fill="#111" font-weight="normal" textLength="136.0" lengthAdjust="spacingAndGlyphs">Cu/Ce-TA@HA-SF</text><text x="503.6" y="295.7" font-size="15.5" text-anchor="start" fill="#111" font-weight="normal" textLength="135.2" lengthAdjust="spacingAndGlyphs">Cu/Ce-TA@HA-SF</text><text transform="translate(20.8,379.7) rotate(-90)" font-size="16.3" fill="#111" textLength="39.0" lengthAdjust="spacingAndGlyphs">300X</text><text transform="translate(20.8,479.2) rotate(-90)" font-size="16.3" fill="#111" textLength="38.4" lengthAdjust="spacingAndGlyphs">600X</text><text transform="translate(20.8,594.9) rotate(-90)" font-size="16.3" fill="#111" textLength="54.9" lengthAdjust="spacingAndGlyphs">10000X</text><g clip-path="url(#clipB00)"><rect x="31.3" y="305.5" width="148.7" height="100.3" fill="#1e1e1e"/><circle cx="54.7" cy="321.5" r="18.8" fill="url(#sSF)"/><circle cx="93.3" cy="333.9" r="20.4" fill="url(#sSF)"/><circle cx="93.7" cy="294" r="17" fill="url(#sSF)"/><circle cx="133.1" cy="312.8" r="18.8" fill="url(#sSF)"/><circle cx="133.5" cy="343" r="19" fill="url(#sSF)"/><circle cx="167.5" cy="323.9" r="16.7" fill="url(#sSF)"/><circle cx="26.8" cy="353.3" r="16.7" fill="url(#sSF)"/><circle cx="61.8" cy="362.1" r="18.6" fill="url(#sSF)"/><circle cx="98.4" cy="384.4" r="19.9" fill="url(#sSF)"/><circle cx="139.8" cy="383.6" r="19.9" fill="url(#sSF)"/><circle cx="42.7" cy="396.3" r="17.5" fill="url(#sSF)"/><circle cx="171.7" cy="393.1" r="15" fill="url(#sSF)"/><circle cx="187.6" cy="356.5" r="14.3" fill="url(#sSF)"/><g fill="#000" filter="url(#fine)" opacity="0.05"><circle cx="54.7" cy="321.5" r="17.9"/> <circle cx="93.3" cy="333.9" r="19.4"/> <circle cx="93.7" cy="294" r="16.1"/> <circle cx="133.1" cy="312.8" r="17.9"/> <circle cx="133.5" cy="343" r="18.1"/> <circle cx="167.5" cy="323.9" r="15.9"/> <circle cx="26.8" cy="353.3" r="15.9"/> <circle cx="61.8" cy="362.1" r="17.7"/> <circle cx="98.4" cy="384.4" r="18.9"/> <circle cx="139.8" cy="383.6" r="18.9"/> <circle cx="42.7" cy="396.3" r="16.6"/> <circle cx="171.7" cy="393.1" r="14.2"/> <circle cx="187.6" cy="356.5" r="13.6"/></g></g><g clip-path="url(#clipB10)"><rect x="183.6" y="305.5" width="149.2" height="100.3" fill="#1e1e1e"/><circle cx="232.9" cy="329.5" r="22.3" fill="url(#sHA)"/><circle cx="279.4" cy="343" r="20.4" fill="url(#sHA)"/><circle cx="314.1" cy="320.7" r="19.1" fill="url(#sHA)"/><circle cx="318" cy="356.5" r="17.5" fill="url(#sHA)"/><circle cx="217" cy="379.6" r="23.6" fill="url(#sHA)"/><circle cx="292.6" cy="384.4" r="19.9" fill="url(#sHA)"/><circle cx="330" cy="392" r="16" fill="url(#sHA)"/><circle cx="176" cy="335.8" r="16" fill="url(#sHA)"/><circle cx="180" cy="306" r="12" fill="url(#sHA)"/><circle cx="174" cy="389" r="14" fill="url(#sHA)"/><circle cx="260" cy="296" r="8" fill="url(#sHA)"/><circle cx="232.9" cy="329.5" r="21.6" fill="url(#sHA)" filter="url(#rl3)" opacity="0.45"/><circle cx="279.4" cy="343" r="19.8" fill="url(#sHA)" filter="url(#rl3)" opacity="0.45"/><circle cx="314.1" cy="320.7" r="18.5" fill="url(#sHA)" filter="url(#rl3)" opacity="0.45"/><circle cx="318" cy="356.5" r="17.0" fill="url(#sHA)" filter="url(#rl3)" opacity="0.45"/><circle cx="217" cy="379.6" r="22.9" fill="url(#sHA)" filter="url(#rl3)" opacity="0.45"/><circle cx="292.6" cy="384.4" r="19.3" fill="url(#sHA)" filter="url(#rl3)" opacity="0.45"/><circle cx="330" cy="392" r="15.5" fill="url(#sHA)" filter="url(#rl3)" opacity="0.45"/><circle cx="176" cy="335.8" r="15.5" fill="url(#sHA)" filter="url(#rl3)" opacity="0.45"/><circle cx="180" cy="306" r="11.6" fill="url(#sHA)" filter="url(#rl3)" opacity="0.45"/><circle cx="174" cy="389" r="13.6" fill="url(#sHA)" filter="url(#rl3)" opacity="0.45"/><circle cx="260" cy="296" r="7.8" fill="url(#sHA)" filter="url(#rl3)" opacity="0.45"/><g fill="#000" filter="url(#crk1)" opacity="0.25"><circle cx="232.9" cy="329.5" r="21.2"/> <circle cx="279.4" cy="343" r="19.4"/> <circle cx="314.1" cy="320.7" r="18.1"/> <circle cx="318" cy="356.5" r="16.6"/> <circle cx="217" cy="379.6" r="22.4"/> <circle cx="292.6" cy="384.4" r="18.9"/> <circle cx="330" cy="392" r="15.2"/> <circle cx="176" cy="335.8" r="15.2"/> <circle cx="180" cy="306" r="11.4"/> <circle cx="174" cy="389" r="13.3"/> <circle cx="260" cy="296" r="7.6"/></g><ellipse cx="189" cy="405" rx="13" ry="6" fill="#e8e8e8"/></g><g clip-path="url(#clipB20)"><rect x="337.4" y="305.5" width="148.4" height="100.3" fill="#1e1e1e"/><circle cx="403.4" cy="330.3" r="23" fill="url(#sCu)"/><circle cx="450.4" cy="334.2" r="21" fill="url(#sCu)"/><circle cx="362" cy="351" r="20" fill="url(#sCu)"/><circle cx="397" cy="382.8" r="22.3" fill="url(#sCu)"/><circle cx="448.8" cy="382" r="20" fill="url(#sCu)"/><circle cx="486" cy="316" r="17" fill="url(#sCu)"/><circle cx="354" cy="402.3" r="19" fill="url(#sCu)"/><circle cx="489.4" cy="400.7" r="12" fill="url(#sCu)"/><circle cx="403.4" cy="330.3" r="22.3" fill="url(#sCu)" filter="url(#rl1)" opacity="0.6"/><circle cx="450.4" cy="334.2" r="20.4" fill="url(#sCu)" filter="url(#rl1)" opacity="0.6"/><circle cx="362" cy="351" r="19.4" fill="url(#sCu)" filter="url(#rl1)" opacity="0.6"/><circle cx="397" cy="382.8" r="21.6" fill="url(#sCu)" filter="url(#rl1)" opacity="0.6"/><circle cx="448.8" cy="382" r="19.4" fill="url(#sCu)" filter="url(#rl1)" opacity="0.6"/><circle cx="486" cy="316" r="16.5" fill="url(#sCu)" filter="url(#rl1)" opacity="0.6"/><circle cx="354" cy="402.3" r="18.4" fill="url(#sCu)" filter="url(#rl1)" opacity="0.6"/><circle cx="489.4" cy="400.7" r="11.6" fill="url(#sCu)" filter="url(#rl1)" opacity="0.6"/><g fill="#000" filter="url(#crk2)" opacity="0.3"><circle cx="403.4" cy="330.3" r="21.8"/> <circle cx="450.4" cy="334.2" r="19.9"/> <circle cx="362" cy="351" r="19.0"/> <circle cx="397" cy="382.8" r="21.2"/> <circle cx="448.8" cy="382" r="19.0"/> <circle cx="486" cy="316" r="16.1"/> <circle cx="354" cy="402.3" r="18.1"/> <circle cx="489.4" cy="400.7" r="11.4"/></g><circle cx="326" cy="331.9" r="20" fill="url(#sHA)"/><circle cx="324.6" cy="376.4" r="16" fill="url(#sHA)"/></g><g clip-path="url(#clipB01)"><rect x="31.3" y="410.4" width="148.7" height="100.5" fill="#1c1c1c"/><circle cx="58.6" cy="393" r="22" fill="url(#sSF)" opacity="0.75"/><circle cx="156" cy="398" r="25" fill="url(#sSF)" opacity="0.75"/><circle cx="2" cy="438" r="35" fill="url(#sSF)" opacity="0.75"/><circle cx="28" cy="516" r="22" fill="url(#sSF)" opacity="0.75"/><circle cx="104.8" cy="461.3" r="48" fill="url(#bSF)"/><circle cx="104.8" cy="461.3" r="46.5" fill="#000" filter="url(#fine)" opacity="0.1"/><path d="M89.2,494.7 L73.2,500.2 Q104.8,513.3 132.7,500.2 L116.7,494.7 Z" fill="#fff" opacity="0.08"/><rect x="89.2" y="474.8" width="27.5" height="19.9" fill="none" stroke="#111" stroke-width="1.3"/><path d="M89.2,494.7 L31.3,515.9 M116.7,494.7 L180.0,515.9" stroke="#111" stroke-width="1.2" fill="none"/></g><path d="M37.3,511.4 Q32.3,512.9 31.3,515.4 M174.0,511.4 Q179.0,512.9 180.0,515.4" stroke="#111" stroke-width="1.2" fill="none"/><g clip-path="url(#clipB11)"><rect x="183.6" y="410.4" width="149.2" height="100.5" fill="#1c1c1c"/><circle cx="349" cy="492" r="34" fill="url(#sHA)" opacity="0.75"/><circle cx="259.5" cy="461" r="47.5" fill="url(#bHA)"/><circle cx="259.5" cy="461" r="46.5" fill="url(#bHA)" filter="url(#rl3)" opacity="0.4"/><circle cx="259.5" cy="461" r="46.0" fill="#000" filter="url(#crk1)" opacity="0.4"/><path d="M248.4,495.2 L232.4,500.7 Q259.5,512.5 291.2,500.7 L275.2,495.2 Z" fill="#fff" opacity="0.08"/><rect x="248.4" y="475.3" width="26.8" height="19.9" fill="none" stroke="#111" stroke-width="1.3"/><path d="M248.4,495.2 L183.6,515.9 M275.2,495.2 L332.8,515.9" stroke="#111" stroke-width="1.2" fill="none"/></g><path d="M189.6,511.4 Q184.6,512.9 183.6,515.4 M326.8,511.4 Q331.8,512.9 332.8,515.4" stroke="#111" stroke-width="1.2" fill="none"/><g clip-path="url(#clipB21)"><rect x="337.4" y="410.4" width="148.4" height="100.5" fill="#1c1c1c"/><circle cx="409.3" cy="460.5" r="47" fill="url(#bCu)"/><circle cx="409.3" cy="460.5" r="46" fill="url(#bCu)" filter="url(#rl1)" opacity="0.75"/><circle cx="409.3" cy="460.5" r="45.5" fill="#000" filter="url(#crk2)" opacity="0.25"/><path d="M397.9,490 L381.9,495.5 Q409.3,511.5 440.9,495.5 L424.9,490 Z" fill="#fff" opacity="0.08"/><rect x="397.9" y="471.3" width="27.0" height="18.7" fill="none" stroke="#111" stroke-width="1.3"/><path d="M397.9,490 L337.4,515.9 M424.9,490 L485.8,515.9" stroke="#111" stroke-width="1.2" fill="none"/></g><path d="M343.4,511.4 Q338.4,512.9 337.4,515.4 M479.8,511.4 Q484.8,512.9 485.8,515.4" stroke="#111" stroke-width="1.2" fill="none"/><g clip-path="url(#clipB02)"><rect x="31.3" y="515.3" width="148.7" height="100.7" fill="#8a8a8a"/><ellipse cx="54.8" cy="539.2" rx="2.8" ry="5.2" transform="rotate(60 53.9 538.3)" fill="#e4e4e4" opacity="0.5"/><ellipse cx="53.9" cy="538.3" rx="1.6" ry="4.0" transform="rotate(60 53.9 538.3)" fill="#1a1a1a"/><ellipse cx="62.7" cy="536.8" rx="2.5" ry="3.7" transform="rotate(20 61.8 535.9)" fill="#e4e4e4" opacity="0.5"/><ellipse cx="61.8" cy="535.9" rx="1.3" ry="2.5" transform="rotate(20 61.8 535.9)" fill="#1a1a1a"/><ellipse cx="51.6" cy="554.3" rx="2.6" ry="3.7" transform="rotate(0 50.7 553.4)" fill="#e4e4e4" opacity="0.5"/><ellipse cx="50.7" cy="553.4" rx="1.4" ry="2.5" transform="rotate(0 50.7 553.4)" fill="#1a1a1a"/><ellipse cx="62.7" cy="555.9" rx="2.4" ry="4.2" transform="rotate(10 61.8 555.0)" fill="#e4e4e4" opacity="0.5"/><ellipse cx="61.8" cy="555.0" rx="1.2" ry="3.0" transform="rotate(10 61.8 555.0)" fill="#1a1a1a"/><ellipse cx="50.8" cy="563.9" rx="2.5" ry="3.2" transform="rotate(0 49.9 563.0)" fill="#e4e4e4" opacity="0.5"/><ellipse cx="49.9" cy="563.0" rx="1.3" ry="2.0" transform="rotate(0 49.9 563.0)" fill="#1a1a1a"/><ellipse cx="75.5" cy="572.6" rx="3.0" ry="4.2" transform="rotate(-30 74.6 571.7)" fill="#e4e4e4" opacity="0.5"/><ellipse cx="74.6" cy="571.7" rx="1.8" ry="3.0" transform="rotate(-30 74.6 571.7)" fill="#1a1a1a"/><ellipse cx="52.4" cy="582.9" rx="3.0" ry="3.7" transform="rotate(0 51.5 582.0)" fill="#e4e4e4" opacity="0.5"/><ellipse cx="51.5" cy="582.0" rx="1.8" ry="2.5" transform="rotate(0 51.5 582.0)" fill="#1a1a1a"/><ellipse cx="77.1" cy="585.3" rx="3.0" ry="4.2" transform="rotate(40 76.2 584.4)" fill="#e4e4e4" opacity="0.5"/><ellipse cx="76.2" cy="584.4" rx="1.8" ry="3.0" transform="rotate(40 76.2 584.4)" fill="#1a1a1a"/><ellipse cx="93.8" cy="538.4" rx="2.5" ry="7.2" transform="rotate(5 92.9 537.5)" fill="#e4e4e4" opacity="0.5"/><ellipse cx="92.9" cy="537.5" rx="1.3" ry="6.0" transform="rotate(5 92.9 537.5)" fill="#1a1a1a"/><ellipse cx="108.1" cy="553.5" rx="2.5" ry="3.4" transform="rotate(0 107.2 552.6)" fill="#e4e4e4" opacity="0.5"/><ellipse cx="107.2" cy="552.6" rx="1.3" ry="2.2" transform="rotate(0 107.2 552.6)" fill="#1a1a1a"/><ellipse cx="116.9" cy="565.4" rx="2.2" ry="7.2" transform="rotate(-55 116.0 564.5)" fill="#e4e4e4" opacity="0.5"/><ellipse cx="116.0" cy="564.5" rx="1.0" ry="6.0" transform="rotate(-55 116.0 564.5)" fill="#1a1a1a"/><ellipse cx="104.1" cy="587.7" rx="2.5" ry="4.7" transform="rotate(10 103.2 586.8)" fill="#e4e4e4" opacity="0.5"/><ellipse cx="103.2" cy="586.8" rx="1.3" ry="3.5" transform="rotate(10 103.2 586.8)" fill="#1a1a1a"/><ellipse cx="98.5" cy="601.2" rx="2.6" ry="5.2" transform="rotate(5 97.6 600.3)" fill="#e4e4e4" opacity="0.5"/><ellipse cx="97.6" cy="600.3" rx="1.4" ry="4.0" transform="rotate(5 97.6 600.3)" fill="#1a1a1a"/><ellipse cx="124.8" cy="589.3" rx="2.4" ry="4.2" transform="rotate(0 123.9 588.4)" fill="#e4e4e4" opacity="0.5"/><ellipse cx="123.9" cy="588.4" rx="1.2" ry="3.0" transform="rotate(0 123.9 588.4)" fill="#1a1a1a"/><ellipse cx="128.0" cy="606.8" rx="3.4" ry="2.7" transform="rotate(0 127.1 605.9)" fill="#e4e4e4" opacity="0.5"/><ellipse cx="127.1" cy="605.9" rx="2.2" ry="1.5" transform="rotate(0 127.1 605.9)" fill="#1a1a1a"/><ellipse cx="143.9" cy="571.8" rx="2.7" ry="3.7" transform="rotate(20 143.0 570.9)" fill="#e4e4e4" opacity="0.5"/><ellipse cx="143.0" cy="570.9" rx="1.5" ry="2.5" transform="rotate(20 143.0 570.9)" fill="#1a1a1a"/><ellipse cx="142.3" cy="576.8" rx="2.4" ry="3.2" transform="rotate(0 141.4 575.9)" fill="#e4e4e4" opacity="0.5"/><ellipse cx="141.4" cy="575.9" rx="1.2" ry="2.0" transform="rotate(0 141.4 575.9)" fill="#1a1a1a"/><ellipse cx="174.1" cy="532.0" rx="3.0" ry="3.7" transform="rotate(30 173.2 531.1)" fill="#e4e4e4" opacity="0.5"/><ellipse cx="173.2" cy="531.1" rx="1.8" ry="2.5" transform="rotate(30 173.2 531.1)" fill="#1a1a1a"/><ellipse cx="164.6" cy="579.7" rx="2.5" ry="3.7" transform="rotate(20 163.7 578.8)" fill="#e4e4e4" opacity="0.5"/><ellipse cx="163.7" cy="578.8" rx="1.3" ry="2.5" transform="rotate(20 163.7 578.8)" fill="#1a1a1a"/><ellipse cx="75.5" cy="599.6" rx="3.0" ry="3.7" transform="rotate(0 74.6 598.7)" fill="#e4e4e4" opacity="0.5"/><ellipse cx="74.6" cy="598.7" rx="1.8" ry="2.5" transform="rotate(0 74.6 598.7)" fill="#1a1a1a"/><ellipse cx="40.4" cy="572.6" rx="2.4" ry="4.2" transform="rotate(20 39.5 571.7)" fill="#e4e4e4" opacity="0.5"/><ellipse cx="39.5" cy="571.7" rx="1.2" ry="3.0" transform="rotate(20 39.5 571.7)" fill="#1a1a1a"/><ellipse cx="88.9" cy="607.9" rx="2.4" ry="3.7" transform="rotate(0 88.0 607.0)" fill="#e4e4e4" opacity="0.5"/><ellipse cx="88.0" cy="607.0" rx="1.2" ry="2.5" transform="rotate(0 88.0 607.0)" fill="#1a1a1a"/><ellipse cx="45.9" cy="600.9" rx="2.2" ry="4.2" transform="rotate(-20 45.0 600.0)" fill="#e4e4e4" opacity="0.5"/><ellipse cx="45.0" cy="600.0" rx="1.0" ry="3.0" transform="rotate(-20 45.0 600.0)" fill="#1a1a1a"/><ellipse cx="118.9" cy="523.9" rx="2.3" ry="3.4" transform="rotate(10 118.0 523.0)" fill="#e4e4e4" opacity="0.5"/><ellipse cx="118.0" cy="523.0" rx="1.1" ry="2.2" transform="rotate(10 118.0 523.0)" fill="#1a1a1a"/><ellipse cx="131.9" cy="521.9" rx="2.1" ry="3.8" transform="rotate(-15 131.0 521.0)" fill="#e4e4e4" opacity="0.5"/><ellipse cx="131.0" cy="521.0" rx="0.9" ry="2.6" transform="rotate(-15 131.0 521.0)" fill="#1a1a1a"/><ellipse cx="149.9" cy="524.9" rx="2.2" ry="3.2" transform="rotate(25 149.0 524.0)" fill="#e4e4e4" opacity="0.5"/><ellipse cx="149.0" cy="524.0" rx="1.0" ry="2.0" transform="rotate(25 149.0 524.0)" fill="#1a1a1a"/><ellipse cx="60.9" cy="600.9" rx="2.2" ry="4.2" transform="rotate(30 60.0 600.0)" fill="#e4e4e4" opacity="0.5"/><ellipse cx="60.0" cy="600.0" rx="1.0" ry="3.0" transform="rotate(30 60.0 600.0)" fill="#1a1a1a"/><ellipse cx="155.9" cy="585.9" rx="2.4" ry="3.7" transform="rotate(-30 155.0 585.0)" fill="#e4e4e4" opacity="0.5"/><ellipse cx="155.0" cy="585.0" rx="1.2" ry="2.5" transform="rotate(-30 155.0 585.0)" fill="#1a1a1a"/><ellipse cx="169.9" cy="592.9" rx="2.2" ry="3.7" transform="rotate(0 169.0 592.0)" fill="#e4e4e4" opacity="0.5"/><ellipse cx="169.0" cy="592.0" rx="1.0" ry="2.5" transform="rotate(0 169.0 592.0)" fill="#1a1a1a"/><rect x="31.3" y="515.3" width="148.7" height="100.7" fill="#000" filter="url(#fine)" opacity="0.1"/></g><g clip-path="url(#clipB12)"><rect x="183.6" y="515.3" width="149.2" height="100.7" fill="#9c9c9c"/><rect x="183.6" y="515.3" width="149.2" height="100.7" fill="#9c9c9c" filter="url(#rl1)"/><ellipse cx="240.9" cy="539.6" rx="1.0" ry="1.7" fill="#1a1a1a" opacity="0.85"/><ellipse cx="269.5" cy="584.0" rx="1.4" ry="1.2" fill="#1a1a1a" opacity="0.85"/><ellipse cx="291.8" cy="573.0" rx="1.6" ry="1.5" fill="#1a1a1a" opacity="0.85"/><ellipse cx="307.5" cy="559.8" rx="1.0" ry="0.9" fill="#1a1a1a" opacity="0.85"/><ellipse cx="290.6" cy="533.5" rx="1.5" ry="1.4" fill="#1a1a1a" opacity="0.85"/><ellipse cx="194.2" cy="593.1" rx="0.8" ry="1.7" fill="#1a1a1a" opacity="0.85"/><ellipse cx="307.7" cy="538.2" rx="1.5" ry="1.5" fill="#1a1a1a" opacity="0.85"/><ellipse cx="203.8" cy="582.1" rx="0.9" ry="1.7" fill="#1a1a1a" opacity="0.85"/><ellipse cx="285.6" cy="612.1" rx="0.9" ry="1.1" fill="#1a1a1a" opacity="0.85"/><ellipse cx="275.6" cy="576.1" rx="1.0" ry="1.7" fill="#1a1a1a" opacity="0.85"/><ellipse cx="308.5" cy="546.4" rx="0.9" ry="1.5" fill="#1a1a1a" opacity="0.85"/><ellipse cx="244.7" cy="581.4" rx="1.3" ry="1.2" fill="#1a1a1a" opacity="0.85"/><ellipse cx="188.7" cy="530.3" rx="1.3" ry="1.5" fill="#1a1a1a" opacity="0.85"/><ellipse cx="247.4" cy="589.3" rx="1.3" ry="1.7" fill="#1a1a1a" opacity="0.85"/><ellipse cx="280.7" cy="548.4" rx="0.9" ry="0.9" fill="#1a1a1a" opacity="0.85"/><ellipse cx="191.3" cy="600.7" rx="1.7" ry="1.6" fill="#1a1a1a" opacity="0.85"/><ellipse cx="201.5" cy="581.2" rx="0.9" ry="1.7" fill="#1a1a1a" opacity="0.85"/><ellipse cx="280.8" cy="589.8" rx="1.4" ry="1.2" fill="#1a1a1a" opacity="0.85"/><ellipse cx="308.8" cy="610.3" rx="1.0" ry="1.2" fill="#1a1a1a" opacity="0.85"/><ellipse cx="292.1" cy="583.1" rx="1.2" ry="1.3" fill="#1a1a1a" opacity="0.85"/><ellipse cx="326.1" cy="544.0" rx="1.0" ry="1.5" fill="#1a1a1a" opacity="0.85"/><ellipse cx="225.8" cy="604.1" rx="1.1" ry="1.7" fill="#1a1a1a" opacity="0.85"/><ellipse cx="240.7" cy="602.9" rx="1.6" ry="1.5" fill="#1a1a1a" opacity="0.85"/><ellipse cx="216.7" cy="533.2" rx="0.8" ry="1.0" fill="#1a1a1a" opacity="0.85"/><ellipse cx="282.4" cy="523.5" rx="1.0" ry="1.4" fill="#1a1a1a" opacity="0.85"/><ellipse cx="208.1" cy="549.1" rx="1.0" ry="1.5" fill="#1a1a1a" opacity="0.85"/><ellipse cx="202.8" cy="613.8" rx="1.4" ry="1.5" fill="#1a1a1a" opacity="0.85"/><ellipse cx="265.8" cy="565.4" rx="1.8" ry="1.7" fill="#1a1a1a" opacity="0.85"/><ellipse cx="304.9" cy="520.2" rx="1.4" ry="1.7" fill="#1a1a1a" opacity="0.85"/><ellipse cx="278.3" cy="566.9" rx="1.4" ry="1.0" fill="#1a1a1a" opacity="0.85"/><ellipse cx="291.3" cy="593.1" rx="0.9" ry="1.3" fill="#1a1a1a" opacity="0.85"/><ellipse cx="272.0" cy="551.3" rx="1.5" ry="1.7" fill="#1a1a1a" opacity="0.85"/><ellipse cx="317.2" cy="547.1" rx="1.0" ry="1.7" fill="#1a1a1a" opacity="0.85"/><ellipse cx="274.5" cy="597.5" rx="1.7" ry="1.1" fill="#1a1a1a" opacity="0.85"/><ellipse cx="270.9" cy="546.6" rx="1.6" ry="1.5" fill="#1a1a1a" opacity="0.85"/><ellipse cx="220.3" cy="565.7" rx="1.4" ry="1.0" fill="#1a1a1a" opacity="0.85"/><ellipse cx="212.1" cy="563.2" rx="0.9" ry="1.3" fill="#1a1a1a" opacity="0.85"/><ellipse cx="322.1" cy="597.2" rx="0.9" ry="1.6" fill="#1a1a1a" opacity="0.85"/><ellipse cx="289.6" cy="585.8" rx="0.8" ry="1.6" fill="#1a1a1a" opacity="0.85"/><ellipse cx="214.0" cy="595.0" rx="1.1" ry="1.2" fill="#1a1a1a" opacity="0.85"/></g><g clip-path="url(#clipB22)"><rect x="337.4" y="515.3" width="148.4" height="100.7" fill="#8e8e8e"/><rect x="337.4" y="515.3" width="148.4" height="100.7" fill="#8e8e8e" filter="url(#rl2)"/><path d="M367.4,615.3 Q375.4,595.3 392.4,589.3 Q402.4,585.3 409.4,587.3" stroke="#2a2a2a" stroke-width="1.1" fill="none"/></g><text x="469.5" y="397.6" font-size="5" text-anchor="start" fill="#fff" font-weight="normal" textLength="14.0" lengthAdjust="spacingAndGlyphs">50 μm</text><line x1="469.5" y1="400.5" x2="483.5" y2="400.5" stroke="#fff" stroke-width="1.5"/><text x="465.5" y="502.6" font-size="5.5" text-anchor="start" fill="#fff" font-weight="normal" textLength="18.0" lengthAdjust="spacingAndGlyphs">20 μm</text><line x1="464.5" y1="507.0" x2="485.0" y2="507.0" stroke="#fff" stroke-width="2"/><line x1="470.0" y1="612.0" x2="484.0" y2="612.0" stroke="#fff" stroke-width="1.5"/><g clip-path="url(#clipE00)"><rect x="496.1" y="305.3" width="75.8" height="75.1" fill="#0c0000"/><g filter="url(#sblur)"><path d="M491.1,300.3 L546.1,300.3 Q556.1,317.3 564.1,333.3 Q570.1,343.3 576.9,349.3 L576.9,355.3 Q536.1,351.3 508.1,355.3 L491.1,355.3 Z" fill="url(#cRed)"/><path d="M491.1,349.3 Q504.1,351.3 508.1,357.3 Q514.1,370.3 522.1,385.4 L491.1,385.4 Z" fill="#c41010"/><path d="M562.9,333.3 Q568.9,341.3 574.9,351.3 L574.9,331.3 Z" fill="#a00808"/></g><rect x="496.1" y="305.3" width="75.8" height="75.1" fill="#000" filter="url(#speck)" opacity="0.25"/></g><g clip-path="url(#clipE10)"><rect x="575.3" y="305.3" width="75.7" height="75.1" fill="#050c0c"/><circle cx="612" cy="346" r="33" fill="url(#eCa)"/><circle cx="612" cy="346" r="33" fill="#000" filter="url(#speck)" opacity="0.3"/></g><g clip-path="url(#clipE01)"><rect x="496.1" y="383.9" width="75.8" height="74.6" fill="#040804"/><circle cx="528" cy="412" r="32" fill="url(#eN)"/><circle cx="528" cy="412" r="32" fill="#000" filter="url(#speck)" opacity="0.4"/></g><g clip-path="url(#clipE11)"><rect x="575.3" y="383.9" width="75.7" height="74.6" fill="#0a050a"/><circle cx="612" cy="423" r="33" fill="url(#eCu)"/><circle cx="612" cy="423" r="33" fill="#000" filter="url(#speck)" opacity="0.2"/></g><g clip-path="url(#clipE02)"><rect x="496.1" y="462.6" width="75.8" height="74.9" fill="#0e0804"/><circle cx="531" cy="492" r="29" fill="url(#eO)"/><circle cx="531" cy="492" r="29" fill="#000" filter="url(#speck)" opacity="0.4"/></g><g clip-path="url(#clipE12)"><rect x="575.3" y="462.6" width="75.7" height="74.9" fill="#060804"/><circle cx="613" cy="500" r="31" fill="url(#eCe)"/><circle cx="613" cy="500" r="31" fill="#000" filter="url(#speck)" opacity="0.4"/></g><g clip-path="url(#clipE03)"><rect x="496.1" y="541.0" width="75.8" height="75.2" fill="#0e1a06"/><circle cx="535" cy="578" r="32" fill="url(#eP)"/><circle cx="535" cy="578" r="32" fill="#000" filter="url(#speck)" opacity="0.35"/></g><g clip-path="url(#clipE13)"><rect x="575.3" y="541.0" width="75.7" height="75.2" fill="url(#eMixBg)"/><circle cx="616.3" cy="576.1" r="31" fill="url(#eMix)"/><circle cx="616.3" cy="576.1" r="31" fill="#000" filter="url(#speck)" opacity="0.3"/><rect x="576.5" y="607.5" width="4.5" height="4.2" fill="#e01010"/><rect x="582.6" y="607.5" width="4.5" height="4.2" fill="#20c020"/><rect x="588.7" y="607.5" width="4.5" height="4.2" fill="#e08020"/><rect x="594.8" y="607.5" width="4.5" height="4.2" fill="#20c0e0"/><rect x="600.9" y="607.5" width="4.5" height="4.2" fill="#e020e0"/><rect x="607.0" y="607.5" width="4.5" height="4.2" fill="#e0e020"/><rect x="613.1" y="607.5" width="4.5" height="4.2" fill="#a0a040"/><line x1="622.0" y1="610.5" x2="649.0" y2="610.5" stroke="#fff" stroke-width="1.3"/></g><text x="499.9" y="317.2" font-size="10.5" text-anchor="start" fill="#f0f0f0" font-weight="bold">C</text><text x="579.4" y="317.2" font-size="10.5" text-anchor="start" fill="#f0f0f0" font-weight="bold">Ca</text><text x="500.0" y="397.7" font-size="10.5" text-anchor="start" fill="#f0f0f0" font-weight="bold">N</text><text x="579.4" y="397.7" font-size="10.5" text-anchor="start" fill="#f0f0f0" font-weight="bold">Cu</text><text x="499.9" y="476.9" font-size="10.5" text-anchor="start" fill="#f0f0f0" font-weight="bold">O</text><text x="579.4" y="477.8" font-size="10.5" text-anchor="start" fill="#f0f0f0" font-weight="bold">Ce</text><text x="500.0" y="554.0" font-size="10.5" text-anchor="start" fill="#f0f0f0" font-weight="bold">P</text>
</svg>
</body></html>
